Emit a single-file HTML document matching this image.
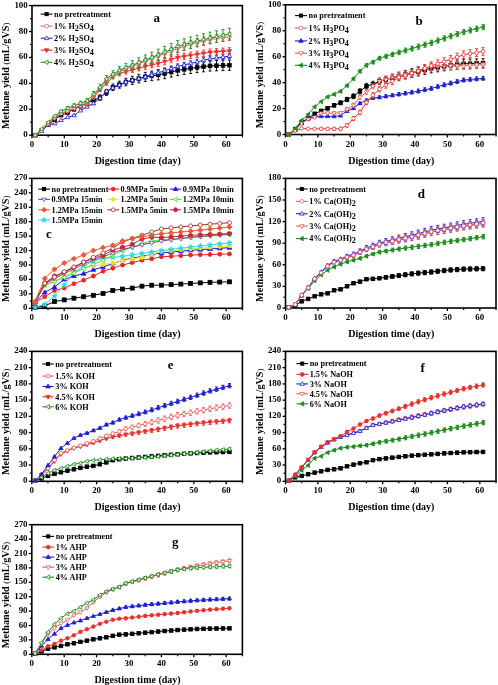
<!DOCTYPE html>
<html><head><meta charset="utf-8"><style>
html,body{margin:0;padding:0;background:#fff;width:498px;height:685px;overflow:hidden}
svg{display:block;filter:blur(0.3px)}
text{font-family:"Liberation Serif", serif;font-weight:bold;fill:#000}
.tk{font-size:8.9px}
.ti{font-size:10px}
.yt{font-size:10.2px}
.par{font-weight:normal;font-size:8.5px}
.lg{font-size:8.2px}
.pl{font-size:13px}
</style></head><body>
<svg width="498" height="685" viewBox="0 0 498 685">
<rect width="498" height="685" fill="#fff"/>
<rect x="32" y="5.6" width="210.4" height="129.6" fill="none" stroke="#000" stroke-width="1.6"/>
<line x1="29" y1="135.2" x2="32" y2="135.2" stroke="#000" stroke-width="1.3"/>
<text transform="translate(27.7,137.2) " text-anchor="end" class="tk">0</text>
<line x1="30" y1="122.24" x2="32" y2="122.24" stroke="#000" stroke-width="1.2"/>
<line x1="29" y1="109.28" x2="32" y2="109.28" stroke="#000" stroke-width="1.3"/>
<text transform="translate(27.7,111.28) " text-anchor="end" class="tk">20</text>
<line x1="30" y1="96.32" x2="32" y2="96.32" stroke="#000" stroke-width="1.2"/>
<line x1="29" y1="83.36" x2="32" y2="83.36" stroke="#000" stroke-width="1.3"/>
<text transform="translate(27.7,85.36) " text-anchor="end" class="tk">40</text>
<line x1="30" y1="70.4" x2="32" y2="70.4" stroke="#000" stroke-width="1.2"/>
<line x1="29" y1="57.44" x2="32" y2="57.44" stroke="#000" stroke-width="1.3"/>
<text transform="translate(27.7,59.44) " text-anchor="end" class="tk">60</text>
<line x1="30" y1="44.48" x2="32" y2="44.48" stroke="#000" stroke-width="1.2"/>
<line x1="29" y1="31.52" x2="32" y2="31.52" stroke="#000" stroke-width="1.3"/>
<text transform="translate(27.7,33.52) " text-anchor="end" class="tk">80</text>
<line x1="30" y1="18.56" x2="32" y2="18.56" stroke="#000" stroke-width="1.2"/>
<line x1="29" y1="5.6" x2="32" y2="5.6" stroke="#000" stroke-width="1.3"/>
<text transform="translate(27.7,7.6) " text-anchor="end" class="tk">100</text>
<line x1="32" y1="135.2" x2="32" y2="138.2" stroke="#000" stroke-width="1.3"/>
<text transform="translate(32,147.3) " text-anchor="middle" class="tk">0</text>
<line x1="64.37" y1="135.2" x2="64.37" y2="138.2" stroke="#000" stroke-width="1.3"/>
<text transform="translate(64.37,147.3) " text-anchor="middle" class="tk">10</text>
<line x1="96.74" y1="135.2" x2="96.74" y2="138.2" stroke="#000" stroke-width="1.3"/>
<text transform="translate(96.74,147.3) " text-anchor="middle" class="tk">20</text>
<line x1="129.11" y1="135.2" x2="129.11" y2="138.2" stroke="#000" stroke-width="1.3"/>
<text transform="translate(129.11,147.3) " text-anchor="middle" class="tk">30</text>
<line x1="161.48" y1="135.2" x2="161.48" y2="138.2" stroke="#000" stroke-width="1.3"/>
<text transform="translate(161.48,147.3) " text-anchor="middle" class="tk">40</text>
<line x1="193.85" y1="135.2" x2="193.85" y2="138.2" stroke="#000" stroke-width="1.3"/>
<text transform="translate(193.85,147.3) " text-anchor="middle" class="tk">50</text>
<line x1="226.22" y1="135.2" x2="226.22" y2="138.2" stroke="#000" stroke-width="1.3"/>
<text transform="translate(226.22,147.3) " text-anchor="middle" class="tk">60</text>
<line x1="48.18" y1="135.2" x2="48.18" y2="137.2" stroke="#000" stroke-width="1.2"/>
<line x1="80.55" y1="135.2" x2="80.55" y2="137.2" stroke="#000" stroke-width="1.2"/>
<line x1="112.92" y1="135.2" x2="112.92" y2="137.2" stroke="#000" stroke-width="1.2"/>
<line x1="145.29" y1="135.2" x2="145.29" y2="137.2" stroke="#000" stroke-width="1.2"/>
<line x1="177.66" y1="135.2" x2="177.66" y2="137.2" stroke="#000" stroke-width="1.2"/>
<line x1="210.03" y1="135.2" x2="210.03" y2="137.2" stroke="#000" stroke-width="1.2"/>
<line x1="242.4" y1="135.2" x2="242.4" y2="137.2" stroke="#000" stroke-width="1.2"/>
<text x="137.7" y="164.3" text-anchor="middle" class="ti">Digestion time (day)</text>
<text transform="translate(9.2,75.9) rotate(-90)" text-anchor="middle" class="ti yt">Methane yield <tspan class="par">(</tspan>mL/gVS<tspan class="par">)</tspan></text>
<rect x="285.5" y="4.8" width="210.5" height="129.7" fill="none" stroke="#000" stroke-width="1.6"/>
<line x1="282.5" y1="134.5" x2="285.5" y2="134.5" stroke="#000" stroke-width="1.3"/>
<text transform="translate(281.2,136.5) " text-anchor="end" class="tk">0</text>
<line x1="283.5" y1="121.53" x2="285.5" y2="121.53" stroke="#000" stroke-width="1.2"/>
<line x1="282.5" y1="108.56" x2="285.5" y2="108.56" stroke="#000" stroke-width="1.3"/>
<text transform="translate(281.2,110.56) " text-anchor="end" class="tk">20</text>
<line x1="283.5" y1="95.59" x2="285.5" y2="95.59" stroke="#000" stroke-width="1.2"/>
<line x1="282.5" y1="82.62" x2="285.5" y2="82.62" stroke="#000" stroke-width="1.3"/>
<text transform="translate(281.2,84.62) " text-anchor="end" class="tk">40</text>
<line x1="283.5" y1="69.65" x2="285.5" y2="69.65" stroke="#000" stroke-width="1.2"/>
<line x1="282.5" y1="56.68" x2="285.5" y2="56.68" stroke="#000" stroke-width="1.3"/>
<text transform="translate(281.2,58.68) " text-anchor="end" class="tk">60</text>
<line x1="283.5" y1="43.71" x2="285.5" y2="43.71" stroke="#000" stroke-width="1.2"/>
<line x1="282.5" y1="30.74" x2="285.5" y2="30.74" stroke="#000" stroke-width="1.3"/>
<text transform="translate(281.2,32.74) " text-anchor="end" class="tk">80</text>
<line x1="283.5" y1="17.77" x2="285.5" y2="17.77" stroke="#000" stroke-width="1.2"/>
<line x1="282.5" y1="4.8" x2="285.5" y2="4.8" stroke="#000" stroke-width="1.3"/>
<text transform="translate(281.2,6.8) " text-anchor="end" class="tk">100</text>
<line x1="285.5" y1="134.5" x2="285.5" y2="137.5" stroke="#000" stroke-width="1.3"/>
<text transform="translate(285.5,146.6) " text-anchor="middle" class="tk">0</text>
<line x1="317.88" y1="134.5" x2="317.88" y2="137.5" stroke="#000" stroke-width="1.3"/>
<text transform="translate(317.88,146.6) " text-anchor="middle" class="tk">10</text>
<line x1="350.27" y1="134.5" x2="350.27" y2="137.5" stroke="#000" stroke-width="1.3"/>
<text transform="translate(350.27,146.6) " text-anchor="middle" class="tk">20</text>
<line x1="382.65" y1="134.5" x2="382.65" y2="137.5" stroke="#000" stroke-width="1.3"/>
<text transform="translate(382.65,146.6) " text-anchor="middle" class="tk">30</text>
<line x1="415.04" y1="134.5" x2="415.04" y2="137.5" stroke="#000" stroke-width="1.3"/>
<text transform="translate(415.04,146.6) " text-anchor="middle" class="tk">40</text>
<line x1="447.42" y1="134.5" x2="447.42" y2="137.5" stroke="#000" stroke-width="1.3"/>
<text transform="translate(447.42,146.6) " text-anchor="middle" class="tk">50</text>
<line x1="479.81" y1="134.5" x2="479.81" y2="137.5" stroke="#000" stroke-width="1.3"/>
<text transform="translate(479.81,146.6) " text-anchor="middle" class="tk">60</text>
<line x1="301.69" y1="134.5" x2="301.69" y2="136.5" stroke="#000" stroke-width="1.2"/>
<line x1="334.08" y1="134.5" x2="334.08" y2="136.5" stroke="#000" stroke-width="1.2"/>
<line x1="366.46" y1="134.5" x2="366.46" y2="136.5" stroke="#000" stroke-width="1.2"/>
<line x1="398.85" y1="134.5" x2="398.85" y2="136.5" stroke="#000" stroke-width="1.2"/>
<line x1="431.23" y1="134.5" x2="431.23" y2="136.5" stroke="#000" stroke-width="1.2"/>
<line x1="463.62" y1="134.5" x2="463.62" y2="136.5" stroke="#000" stroke-width="1.2"/>
<line x1="496" y1="134.5" x2="496" y2="136.5" stroke="#000" stroke-width="1.2"/>
<text x="391.25" y="163.6" text-anchor="middle" class="ti">Digestion time (day)</text>
<text transform="translate(262.7,75.15) rotate(-90)" text-anchor="middle" class="ti yt">Methane yield <tspan class="par">(</tspan>mL/gVS<tspan class="par">)</tspan></text>
<rect x="31.8" y="178.4" width="210.6" height="129.9" fill="none" stroke="#000" stroke-width="1.6"/>
<line x1="28.8" y1="308.3" x2="31.8" y2="308.3" stroke="#000" stroke-width="1.3"/>
<text transform="translate(27.5,310.3) " text-anchor="end" class="tk">0</text>
<line x1="29.8" y1="301.08" x2="31.8" y2="301.08" stroke="#000" stroke-width="1.2"/>
<line x1="28.8" y1="293.87" x2="31.8" y2="293.87" stroke="#000" stroke-width="1.3"/>
<text transform="translate(27.5,295.87) " text-anchor="end" class="tk">30</text>
<line x1="29.8" y1="286.65" x2="31.8" y2="286.65" stroke="#000" stroke-width="1.2"/>
<line x1="28.8" y1="279.43" x2="31.8" y2="279.43" stroke="#000" stroke-width="1.3"/>
<text transform="translate(27.5,281.43) " text-anchor="end" class="tk">60</text>
<line x1="29.8" y1="272.22" x2="31.8" y2="272.22" stroke="#000" stroke-width="1.2"/>
<line x1="28.8" y1="265" x2="31.8" y2="265" stroke="#000" stroke-width="1.3"/>
<text transform="translate(27.5,267) " text-anchor="end" class="tk">90</text>
<line x1="29.8" y1="257.78" x2="31.8" y2="257.78" stroke="#000" stroke-width="1.2"/>
<line x1="28.8" y1="250.57" x2="31.8" y2="250.57" stroke="#000" stroke-width="1.3"/>
<text transform="translate(27.5,252.57) " text-anchor="end" class="tk">120</text>
<line x1="29.8" y1="243.35" x2="31.8" y2="243.35" stroke="#000" stroke-width="1.2"/>
<line x1="28.8" y1="236.13" x2="31.8" y2="236.13" stroke="#000" stroke-width="1.3"/>
<text transform="translate(27.5,238.13) " text-anchor="end" class="tk">150</text>
<line x1="29.8" y1="228.92" x2="31.8" y2="228.92" stroke="#000" stroke-width="1.2"/>
<line x1="28.8" y1="221.7" x2="31.8" y2="221.7" stroke="#000" stroke-width="1.3"/>
<text transform="translate(27.5,223.7) " text-anchor="end" class="tk">180</text>
<line x1="29.8" y1="214.48" x2="31.8" y2="214.48" stroke="#000" stroke-width="1.2"/>
<line x1="28.8" y1="207.27" x2="31.8" y2="207.27" stroke="#000" stroke-width="1.3"/>
<text transform="translate(27.5,209.27) " text-anchor="end" class="tk">210</text>
<line x1="29.8" y1="200.05" x2="31.8" y2="200.05" stroke="#000" stroke-width="1.2"/>
<line x1="28.8" y1="192.83" x2="31.8" y2="192.83" stroke="#000" stroke-width="1.3"/>
<text transform="translate(27.5,194.83) " text-anchor="end" class="tk">240</text>
<line x1="29.8" y1="185.62" x2="31.8" y2="185.62" stroke="#000" stroke-width="1.2"/>
<line x1="28.8" y1="178.4" x2="31.8" y2="178.4" stroke="#000" stroke-width="1.3"/>
<text transform="translate(27.5,180.4) " text-anchor="end" class="tk">270</text>
<line x1="31.8" y1="308.3" x2="31.8" y2="311.3" stroke="#000" stroke-width="1.3"/>
<text transform="translate(31.8,320.4) " text-anchor="middle" class="tk">0</text>
<line x1="64.2" y1="308.3" x2="64.2" y2="311.3" stroke="#000" stroke-width="1.3"/>
<text transform="translate(64.2,320.4) " text-anchor="middle" class="tk">10</text>
<line x1="96.6" y1="308.3" x2="96.6" y2="311.3" stroke="#000" stroke-width="1.3"/>
<text transform="translate(96.6,320.4) " text-anchor="middle" class="tk">20</text>
<line x1="129" y1="308.3" x2="129" y2="311.3" stroke="#000" stroke-width="1.3"/>
<text transform="translate(129,320.4) " text-anchor="middle" class="tk">30</text>
<line x1="161.4" y1="308.3" x2="161.4" y2="311.3" stroke="#000" stroke-width="1.3"/>
<text transform="translate(161.4,320.4) " text-anchor="middle" class="tk">40</text>
<line x1="193.8" y1="308.3" x2="193.8" y2="311.3" stroke="#000" stroke-width="1.3"/>
<text transform="translate(193.8,320.4) " text-anchor="middle" class="tk">50</text>
<line x1="226.2" y1="308.3" x2="226.2" y2="311.3" stroke="#000" stroke-width="1.3"/>
<text transform="translate(226.2,320.4) " text-anchor="middle" class="tk">60</text>
<line x1="48" y1="308.3" x2="48" y2="310.3" stroke="#000" stroke-width="1.2"/>
<line x1="80.4" y1="308.3" x2="80.4" y2="310.3" stroke="#000" stroke-width="1.2"/>
<line x1="112.8" y1="308.3" x2="112.8" y2="310.3" stroke="#000" stroke-width="1.2"/>
<line x1="145.2" y1="308.3" x2="145.2" y2="310.3" stroke="#000" stroke-width="1.2"/>
<line x1="177.6" y1="308.3" x2="177.6" y2="310.3" stroke="#000" stroke-width="1.2"/>
<line x1="210" y1="308.3" x2="210" y2="310.3" stroke="#000" stroke-width="1.2"/>
<line x1="242.4" y1="308.3" x2="242.4" y2="310.3" stroke="#000" stroke-width="1.2"/>
<text x="137.6" y="337.4" text-anchor="middle" class="ti">Digestion time (day)</text>
<text transform="translate(9,248.85) rotate(-90)" text-anchor="middle" class="ti yt">Methane yield <tspan class="par">(</tspan>mL/gVS<tspan class="par">)</tspan></text>
<rect x="285.5" y="178.4" width="210.5" height="129.6" fill="none" stroke="#000" stroke-width="1.6"/>
<line x1="282.5" y1="308" x2="285.5" y2="308" stroke="#000" stroke-width="1.3"/>
<text transform="translate(281.2,310) " text-anchor="end" class="tk">0</text>
<line x1="283.5" y1="297.2" x2="285.5" y2="297.2" stroke="#000" stroke-width="1.2"/>
<line x1="282.5" y1="286.4" x2="285.5" y2="286.4" stroke="#000" stroke-width="1.3"/>
<text transform="translate(281.2,288.4) " text-anchor="end" class="tk">30</text>
<line x1="283.5" y1="275.6" x2="285.5" y2="275.6" stroke="#000" stroke-width="1.2"/>
<line x1="282.5" y1="264.8" x2="285.5" y2="264.8" stroke="#000" stroke-width="1.3"/>
<text transform="translate(281.2,266.8) " text-anchor="end" class="tk">60</text>
<line x1="283.5" y1="254" x2="285.5" y2="254" stroke="#000" stroke-width="1.2"/>
<line x1="282.5" y1="243.2" x2="285.5" y2="243.2" stroke="#000" stroke-width="1.3"/>
<text transform="translate(281.2,245.2) " text-anchor="end" class="tk">90</text>
<line x1="283.5" y1="232.4" x2="285.5" y2="232.4" stroke="#000" stroke-width="1.2"/>
<line x1="282.5" y1="221.6" x2="285.5" y2="221.6" stroke="#000" stroke-width="1.3"/>
<text transform="translate(281.2,223.6) " text-anchor="end" class="tk">120</text>
<line x1="283.5" y1="210.8" x2="285.5" y2="210.8" stroke="#000" stroke-width="1.2"/>
<line x1="282.5" y1="200" x2="285.5" y2="200" stroke="#000" stroke-width="1.3"/>
<text transform="translate(281.2,202) " text-anchor="end" class="tk">150</text>
<line x1="283.5" y1="189.2" x2="285.5" y2="189.2" stroke="#000" stroke-width="1.2"/>
<line x1="282.5" y1="178.4" x2="285.5" y2="178.4" stroke="#000" stroke-width="1.3"/>
<text transform="translate(281.2,180.4) " text-anchor="end" class="tk">180</text>
<line x1="285.5" y1="308" x2="285.5" y2="311" stroke="#000" stroke-width="1.3"/>
<text transform="translate(285.5,320.1) " text-anchor="middle" class="tk">0</text>
<line x1="317.88" y1="308" x2="317.88" y2="311" stroke="#000" stroke-width="1.3"/>
<text transform="translate(317.88,320.1) " text-anchor="middle" class="tk">10</text>
<line x1="350.27" y1="308" x2="350.27" y2="311" stroke="#000" stroke-width="1.3"/>
<text transform="translate(350.27,320.1) " text-anchor="middle" class="tk">20</text>
<line x1="382.65" y1="308" x2="382.65" y2="311" stroke="#000" stroke-width="1.3"/>
<text transform="translate(382.65,320.1) " text-anchor="middle" class="tk">30</text>
<line x1="415.04" y1="308" x2="415.04" y2="311" stroke="#000" stroke-width="1.3"/>
<text transform="translate(415.04,320.1) " text-anchor="middle" class="tk">40</text>
<line x1="447.42" y1="308" x2="447.42" y2="311" stroke="#000" stroke-width="1.3"/>
<text transform="translate(447.42,320.1) " text-anchor="middle" class="tk">50</text>
<line x1="479.81" y1="308" x2="479.81" y2="311" stroke="#000" stroke-width="1.3"/>
<text transform="translate(479.81,320.1) " text-anchor="middle" class="tk">60</text>
<line x1="301.69" y1="308" x2="301.69" y2="310" stroke="#000" stroke-width="1.2"/>
<line x1="334.08" y1="308" x2="334.08" y2="310" stroke="#000" stroke-width="1.2"/>
<line x1="366.46" y1="308" x2="366.46" y2="310" stroke="#000" stroke-width="1.2"/>
<line x1="398.85" y1="308" x2="398.85" y2="310" stroke="#000" stroke-width="1.2"/>
<line x1="431.23" y1="308" x2="431.23" y2="310" stroke="#000" stroke-width="1.2"/>
<line x1="463.62" y1="308" x2="463.62" y2="310" stroke="#000" stroke-width="1.2"/>
<line x1="496" y1="308" x2="496" y2="310" stroke="#000" stroke-width="1.2"/>
<text x="391.25" y="337.1" text-anchor="middle" class="ti">Digestion time (day)</text>
<text transform="translate(262.7,248.7) rotate(-90)" text-anchor="middle" class="ti yt">Methane yield <tspan class="par">(</tspan>mL/gVS<tspan class="par">)</tspan></text>
<rect x="31.8" y="351.4" width="210.6" height="129.9" fill="none" stroke="#000" stroke-width="1.6"/>
<line x1="28.8" y1="481.3" x2="31.8" y2="481.3" stroke="#000" stroke-width="1.3"/>
<text transform="translate(27.5,483.3) " text-anchor="end" class="tk">0</text>
<line x1="29.8" y1="473.18" x2="31.8" y2="473.18" stroke="#000" stroke-width="1.2"/>
<line x1="28.8" y1="465.06" x2="31.8" y2="465.06" stroke="#000" stroke-width="1.3"/>
<text transform="translate(27.5,467.06) " text-anchor="end" class="tk">30</text>
<line x1="29.8" y1="456.94" x2="31.8" y2="456.94" stroke="#000" stroke-width="1.2"/>
<line x1="28.8" y1="448.82" x2="31.8" y2="448.82" stroke="#000" stroke-width="1.3"/>
<text transform="translate(27.5,450.82) " text-anchor="end" class="tk">60</text>
<line x1="29.8" y1="440.71" x2="31.8" y2="440.71" stroke="#000" stroke-width="1.2"/>
<line x1="28.8" y1="432.59" x2="31.8" y2="432.59" stroke="#000" stroke-width="1.3"/>
<text transform="translate(27.5,434.59) " text-anchor="end" class="tk">90</text>
<line x1="29.8" y1="424.47" x2="31.8" y2="424.47" stroke="#000" stroke-width="1.2"/>
<line x1="28.8" y1="416.35" x2="31.8" y2="416.35" stroke="#000" stroke-width="1.3"/>
<text transform="translate(27.5,418.35) " text-anchor="end" class="tk">120</text>
<line x1="29.8" y1="408.23" x2="31.8" y2="408.23" stroke="#000" stroke-width="1.2"/>
<line x1="28.8" y1="400.11" x2="31.8" y2="400.11" stroke="#000" stroke-width="1.3"/>
<text transform="translate(27.5,402.11) " text-anchor="end" class="tk">150</text>
<line x1="29.8" y1="391.99" x2="31.8" y2="391.99" stroke="#000" stroke-width="1.2"/>
<line x1="28.8" y1="383.88" x2="31.8" y2="383.88" stroke="#000" stroke-width="1.3"/>
<text transform="translate(27.5,385.88) " text-anchor="end" class="tk">180</text>
<line x1="29.8" y1="375.76" x2="31.8" y2="375.76" stroke="#000" stroke-width="1.2"/>
<line x1="28.8" y1="367.64" x2="31.8" y2="367.64" stroke="#000" stroke-width="1.3"/>
<text transform="translate(27.5,369.64) " text-anchor="end" class="tk">210</text>
<line x1="29.8" y1="359.52" x2="31.8" y2="359.52" stroke="#000" stroke-width="1.2"/>
<line x1="28.8" y1="351.4" x2="31.8" y2="351.4" stroke="#000" stroke-width="1.3"/>
<text transform="translate(27.5,353.4) " text-anchor="end" class="tk">240</text>
<line x1="31.8" y1="481.3" x2="31.8" y2="484.3" stroke="#000" stroke-width="1.3"/>
<text transform="translate(31.8,493.4) " text-anchor="middle" class="tk">0</text>
<line x1="64.2" y1="481.3" x2="64.2" y2="484.3" stroke="#000" stroke-width="1.3"/>
<text transform="translate(64.2,493.4) " text-anchor="middle" class="tk">10</text>
<line x1="96.6" y1="481.3" x2="96.6" y2="484.3" stroke="#000" stroke-width="1.3"/>
<text transform="translate(96.6,493.4) " text-anchor="middle" class="tk">20</text>
<line x1="129" y1="481.3" x2="129" y2="484.3" stroke="#000" stroke-width="1.3"/>
<text transform="translate(129,493.4) " text-anchor="middle" class="tk">30</text>
<line x1="161.4" y1="481.3" x2="161.4" y2="484.3" stroke="#000" stroke-width="1.3"/>
<text transform="translate(161.4,493.4) " text-anchor="middle" class="tk">40</text>
<line x1="193.8" y1="481.3" x2="193.8" y2="484.3" stroke="#000" stroke-width="1.3"/>
<text transform="translate(193.8,493.4) " text-anchor="middle" class="tk">50</text>
<line x1="226.2" y1="481.3" x2="226.2" y2="484.3" stroke="#000" stroke-width="1.3"/>
<text transform="translate(226.2,493.4) " text-anchor="middle" class="tk">60</text>
<line x1="48" y1="481.3" x2="48" y2="483.3" stroke="#000" stroke-width="1.2"/>
<line x1="80.4" y1="481.3" x2="80.4" y2="483.3" stroke="#000" stroke-width="1.2"/>
<line x1="112.8" y1="481.3" x2="112.8" y2="483.3" stroke="#000" stroke-width="1.2"/>
<line x1="145.2" y1="481.3" x2="145.2" y2="483.3" stroke="#000" stroke-width="1.2"/>
<line x1="177.6" y1="481.3" x2="177.6" y2="483.3" stroke="#000" stroke-width="1.2"/>
<line x1="210" y1="481.3" x2="210" y2="483.3" stroke="#000" stroke-width="1.2"/>
<line x1="242.4" y1="481.3" x2="242.4" y2="483.3" stroke="#000" stroke-width="1.2"/>
<text x="137.6" y="510.4" text-anchor="middle" class="ti">Digestion time (day)</text>
<text transform="translate(9,421.85) rotate(-90)" text-anchor="middle" class="ti yt">Methane yield <tspan class="par">(</tspan>mL/gVS<tspan class="par">)</tspan></text>
<rect x="285.5" y="351.4" width="210.5" height="129.9" fill="none" stroke="#000" stroke-width="1.6"/>
<line x1="282.5" y1="481.3" x2="285.5" y2="481.3" stroke="#000" stroke-width="1.3"/>
<text transform="translate(281.2,483.3) " text-anchor="end" class="tk">0</text>
<line x1="283.5" y1="473.18" x2="285.5" y2="473.18" stroke="#000" stroke-width="1.2"/>
<line x1="282.5" y1="465.06" x2="285.5" y2="465.06" stroke="#000" stroke-width="1.3"/>
<text transform="translate(281.2,467.06) " text-anchor="end" class="tk">30</text>
<line x1="283.5" y1="456.94" x2="285.5" y2="456.94" stroke="#000" stroke-width="1.2"/>
<line x1="282.5" y1="448.82" x2="285.5" y2="448.82" stroke="#000" stroke-width="1.3"/>
<text transform="translate(281.2,450.82) " text-anchor="end" class="tk">60</text>
<line x1="283.5" y1="440.71" x2="285.5" y2="440.71" stroke="#000" stroke-width="1.2"/>
<line x1="282.5" y1="432.59" x2="285.5" y2="432.59" stroke="#000" stroke-width="1.3"/>
<text transform="translate(281.2,434.59) " text-anchor="end" class="tk">90</text>
<line x1="283.5" y1="424.47" x2="285.5" y2="424.47" stroke="#000" stroke-width="1.2"/>
<line x1="282.5" y1="416.35" x2="285.5" y2="416.35" stroke="#000" stroke-width="1.3"/>
<text transform="translate(281.2,418.35) " text-anchor="end" class="tk">120</text>
<line x1="283.5" y1="408.23" x2="285.5" y2="408.23" stroke="#000" stroke-width="1.2"/>
<line x1="282.5" y1="400.11" x2="285.5" y2="400.11" stroke="#000" stroke-width="1.3"/>
<text transform="translate(281.2,402.11) " text-anchor="end" class="tk">150</text>
<line x1="283.5" y1="391.99" x2="285.5" y2="391.99" stroke="#000" stroke-width="1.2"/>
<line x1="282.5" y1="383.88" x2="285.5" y2="383.88" stroke="#000" stroke-width="1.3"/>
<text transform="translate(281.2,385.88) " text-anchor="end" class="tk">180</text>
<line x1="283.5" y1="375.76" x2="285.5" y2="375.76" stroke="#000" stroke-width="1.2"/>
<line x1="282.5" y1="367.64" x2="285.5" y2="367.64" stroke="#000" stroke-width="1.3"/>
<text transform="translate(281.2,369.64) " text-anchor="end" class="tk">210</text>
<line x1="283.5" y1="359.52" x2="285.5" y2="359.52" stroke="#000" stroke-width="1.2"/>
<line x1="282.5" y1="351.4" x2="285.5" y2="351.4" stroke="#000" stroke-width="1.3"/>
<text transform="translate(281.2,353.4) " text-anchor="end" class="tk">240</text>
<line x1="285.5" y1="481.3" x2="285.5" y2="484.3" stroke="#000" stroke-width="1.3"/>
<text transform="translate(285.5,493.4) " text-anchor="middle" class="tk">0</text>
<line x1="317.88" y1="481.3" x2="317.88" y2="484.3" stroke="#000" stroke-width="1.3"/>
<text transform="translate(317.88,493.4) " text-anchor="middle" class="tk">10</text>
<line x1="350.27" y1="481.3" x2="350.27" y2="484.3" stroke="#000" stroke-width="1.3"/>
<text transform="translate(350.27,493.4) " text-anchor="middle" class="tk">20</text>
<line x1="382.65" y1="481.3" x2="382.65" y2="484.3" stroke="#000" stroke-width="1.3"/>
<text transform="translate(382.65,493.4) " text-anchor="middle" class="tk">30</text>
<line x1="415.04" y1="481.3" x2="415.04" y2="484.3" stroke="#000" stroke-width="1.3"/>
<text transform="translate(415.04,493.4) " text-anchor="middle" class="tk">40</text>
<line x1="447.42" y1="481.3" x2="447.42" y2="484.3" stroke="#000" stroke-width="1.3"/>
<text transform="translate(447.42,493.4) " text-anchor="middle" class="tk">50</text>
<line x1="479.81" y1="481.3" x2="479.81" y2="484.3" stroke="#000" stroke-width="1.3"/>
<text transform="translate(479.81,493.4) " text-anchor="middle" class="tk">60</text>
<line x1="301.69" y1="481.3" x2="301.69" y2="483.3" stroke="#000" stroke-width="1.2"/>
<line x1="334.08" y1="481.3" x2="334.08" y2="483.3" stroke="#000" stroke-width="1.2"/>
<line x1="366.46" y1="481.3" x2="366.46" y2="483.3" stroke="#000" stroke-width="1.2"/>
<line x1="398.85" y1="481.3" x2="398.85" y2="483.3" stroke="#000" stroke-width="1.2"/>
<line x1="431.23" y1="481.3" x2="431.23" y2="483.3" stroke="#000" stroke-width="1.2"/>
<line x1="463.62" y1="481.3" x2="463.62" y2="483.3" stroke="#000" stroke-width="1.2"/>
<line x1="496" y1="481.3" x2="496" y2="483.3" stroke="#000" stroke-width="1.2"/>
<text x="391.25" y="510.4" text-anchor="middle" class="ti">Digestion time (day)</text>
<text transform="translate(262.7,421.85) rotate(-90)" text-anchor="middle" class="ti yt">Methane yield <tspan class="par">(</tspan>mL/gVS<tspan class="par">)</tspan></text>
<rect x="31.8" y="524.7" width="210.6" height="129.6" fill="none" stroke="#000" stroke-width="1.6"/>
<line x1="28.8" y1="654.3" x2="31.8" y2="654.3" stroke="#000" stroke-width="1.3"/>
<text transform="translate(27.5,656.3) " text-anchor="end" class="tk">0</text>
<line x1="29.8" y1="647.1" x2="31.8" y2="647.1" stroke="#000" stroke-width="1.2"/>
<line x1="28.8" y1="639.9" x2="31.8" y2="639.9" stroke="#000" stroke-width="1.3"/>
<text transform="translate(27.5,641.9) " text-anchor="end" class="tk">30</text>
<line x1="29.8" y1="632.7" x2="31.8" y2="632.7" stroke="#000" stroke-width="1.2"/>
<line x1="28.8" y1="625.5" x2="31.8" y2="625.5" stroke="#000" stroke-width="1.3"/>
<text transform="translate(27.5,627.5) " text-anchor="end" class="tk">60</text>
<line x1="29.8" y1="618.3" x2="31.8" y2="618.3" stroke="#000" stroke-width="1.2"/>
<line x1="28.8" y1="611.1" x2="31.8" y2="611.1" stroke="#000" stroke-width="1.3"/>
<text transform="translate(27.5,613.1) " text-anchor="end" class="tk">90</text>
<line x1="29.8" y1="603.9" x2="31.8" y2="603.9" stroke="#000" stroke-width="1.2"/>
<line x1="28.8" y1="596.7" x2="31.8" y2="596.7" stroke="#000" stroke-width="1.3"/>
<text transform="translate(27.5,598.7) " text-anchor="end" class="tk">120</text>
<line x1="29.8" y1="589.5" x2="31.8" y2="589.5" stroke="#000" stroke-width="1.2"/>
<line x1="28.8" y1="582.3" x2="31.8" y2="582.3" stroke="#000" stroke-width="1.3"/>
<text transform="translate(27.5,584.3) " text-anchor="end" class="tk">150</text>
<line x1="29.8" y1="575.1" x2="31.8" y2="575.1" stroke="#000" stroke-width="1.2"/>
<line x1="28.8" y1="567.9" x2="31.8" y2="567.9" stroke="#000" stroke-width="1.3"/>
<text transform="translate(27.5,569.9) " text-anchor="end" class="tk">180</text>
<line x1="29.8" y1="560.7" x2="31.8" y2="560.7" stroke="#000" stroke-width="1.2"/>
<line x1="28.8" y1="553.5" x2="31.8" y2="553.5" stroke="#000" stroke-width="1.3"/>
<text transform="translate(27.5,555.5) " text-anchor="end" class="tk">210</text>
<line x1="29.8" y1="546.3" x2="31.8" y2="546.3" stroke="#000" stroke-width="1.2"/>
<line x1="28.8" y1="539.1" x2="31.8" y2="539.1" stroke="#000" stroke-width="1.3"/>
<text transform="translate(27.5,541.1) " text-anchor="end" class="tk">240</text>
<line x1="29.8" y1="531.9" x2="31.8" y2="531.9" stroke="#000" stroke-width="1.2"/>
<line x1="28.8" y1="524.7" x2="31.8" y2="524.7" stroke="#000" stroke-width="1.3"/>
<text transform="translate(27.5,526.7) " text-anchor="end" class="tk">270</text>
<line x1="31.8" y1="654.3" x2="31.8" y2="657.3" stroke="#000" stroke-width="1.3"/>
<text transform="translate(31.8,666.4) " text-anchor="middle" class="tk">0</text>
<line x1="64.2" y1="654.3" x2="64.2" y2="657.3" stroke="#000" stroke-width="1.3"/>
<text transform="translate(64.2,666.4) " text-anchor="middle" class="tk">10</text>
<line x1="96.6" y1="654.3" x2="96.6" y2="657.3" stroke="#000" stroke-width="1.3"/>
<text transform="translate(96.6,666.4) " text-anchor="middle" class="tk">20</text>
<line x1="129" y1="654.3" x2="129" y2="657.3" stroke="#000" stroke-width="1.3"/>
<text transform="translate(129,666.4) " text-anchor="middle" class="tk">30</text>
<line x1="161.4" y1="654.3" x2="161.4" y2="657.3" stroke="#000" stroke-width="1.3"/>
<text transform="translate(161.4,666.4) " text-anchor="middle" class="tk">40</text>
<line x1="193.8" y1="654.3" x2="193.8" y2="657.3" stroke="#000" stroke-width="1.3"/>
<text transform="translate(193.8,666.4) " text-anchor="middle" class="tk">50</text>
<line x1="226.2" y1="654.3" x2="226.2" y2="657.3" stroke="#000" stroke-width="1.3"/>
<text transform="translate(226.2,666.4) " text-anchor="middle" class="tk">60</text>
<line x1="48" y1="654.3" x2="48" y2="656.3" stroke="#000" stroke-width="1.2"/>
<line x1="80.4" y1="654.3" x2="80.4" y2="656.3" stroke="#000" stroke-width="1.2"/>
<line x1="112.8" y1="654.3" x2="112.8" y2="656.3" stroke="#000" stroke-width="1.2"/>
<line x1="145.2" y1="654.3" x2="145.2" y2="656.3" stroke="#000" stroke-width="1.2"/>
<line x1="177.6" y1="654.3" x2="177.6" y2="656.3" stroke="#000" stroke-width="1.2"/>
<line x1="210" y1="654.3" x2="210" y2="656.3" stroke="#000" stroke-width="1.2"/>
<line x1="242.4" y1="654.3" x2="242.4" y2="656.3" stroke="#000" stroke-width="1.2"/>
<text x="137.6" y="683.4" text-anchor="middle" class="ti">Digestion time (day)</text>
<text transform="translate(9,595) rotate(-90)" text-anchor="middle" class="ti yt">Methane yield <tspan class="par">(</tspan>mL/gVS<tspan class="par">)</tspan></text>
<polyline points="35.24,135.2 41.71,130.66 48.18,124.83 54.66,119.65 61.13,115.11 67.61,112.52 74.08,109.28 80.55,106.04 87.03,102.8 93.5,100.21 99.98,97.62 106.45,92.43 112.92,87.25 119.4,84.66 125.87,82.06 132.34,80.34 138.82,78.61 145.29,76.88 151.77,75.84 158.24,74.81 164.71,73.51 171.19,71.96 177.66,70.4 184.14,69.36 190.61,68.33 197.08,67.42 203.56,66.64 210.03,65.86 216.5,65.65 222.98,65.43 229.45,65.22" fill="none" stroke="#000000" stroke-width="1.0"/>
<path d="M54.66,118.74V120.56M53.16,118.74H56.16M53.16,120.56H56.16" stroke="#000000" stroke-width="0.9" fill="none"/>
<path d="M61.13,113.95V116.28M59.63,113.95H62.63M59.63,116.28H62.63" stroke="#000000" stroke-width="0.9" fill="none"/>
<path d="M67.61,111.09V113.95M66.11,111.09H69.11M66.11,113.95H69.11" stroke="#000000" stroke-width="0.9" fill="none"/>
<path d="M74.08,107.6V110.96M72.58,107.6H75.58M72.58,110.96H75.58" stroke="#000000" stroke-width="0.9" fill="none"/>
<path d="M80.55,104.1V107.98M79.05,104.1H82.05M79.05,107.98H82.05" stroke="#000000" stroke-width="0.9" fill="none"/>
<path d="M87.03,100.6V105M85.53,100.6H88.53M85.53,105H88.53" stroke="#000000" stroke-width="0.9" fill="none"/>
<path d="M93.5,97.75V102.67M92,97.75H95M92,102.67H95" stroke="#000000" stroke-width="0.9" fill="none"/>
<path d="M99.98,94.89V100.34M98.48,94.89H101.48M98.48,100.34H101.48" stroke="#000000" stroke-width="0.9" fill="none"/>
<path d="M106.45,89.45V95.41M104.95,89.45H107.95M104.95,95.41H107.95" stroke="#000000" stroke-width="0.9" fill="none"/>
<path d="M112.92,84.01V90.49M111.42,84.01H114.42M111.42,90.49H114.42" stroke="#000000" stroke-width="0.9" fill="none"/>
<path d="M119.4,81.16V88.16M117.9,81.16H120.9M117.9,88.16H120.9" stroke="#000000" stroke-width="0.9" fill="none"/>
<path d="M125.87,78.31V85.82M124.37,78.31H127.37M124.37,85.82H127.37" stroke="#000000" stroke-width="0.9" fill="none"/>
<path d="M132.34,76.32V84.35M130.84,76.32H133.84M130.84,84.35H133.84" stroke="#000000" stroke-width="0.9" fill="none"/>
<path d="M138.82,74.33V82.88M137.32,74.33H140.32M137.32,82.88H140.32" stroke="#000000" stroke-width="0.9" fill="none"/>
<path d="M145.29,72.34V81.42M143.79,72.34H146.79M143.79,81.42H146.79" stroke="#000000" stroke-width="0.9" fill="none"/>
<path d="M151.77,71.05V80.64M150.27,71.05H153.27M150.27,80.64H153.27" stroke="#000000" stroke-width="0.9" fill="none"/>
<path d="M158.24,69.75V79.86M156.74,69.75H159.74M156.74,79.86H159.74" stroke="#000000" stroke-width="0.9" fill="none"/>
<path d="M164.71,68.33V78.69M163.21,68.33H166.21M163.21,78.69H166.21" stroke="#000000" stroke-width="0.9" fill="none"/>
<path d="M171.19,66.77V77.14M169.69,66.77H172.69M169.69,77.14H172.69" stroke="#000000" stroke-width="0.9" fill="none"/>
<path d="M177.66,65.22V75.58M176.16,65.22H179.16M176.16,75.58H179.16" stroke="#000000" stroke-width="0.9" fill="none"/>
<path d="M184.14,64.18V74.55M182.64,64.18H185.64M182.64,74.55H185.64" stroke="#000000" stroke-width="0.9" fill="none"/>
<path d="M190.61,63.14V73.51M189.11,63.14H192.11M189.11,73.51H192.11" stroke="#000000" stroke-width="0.9" fill="none"/>
<path d="M197.08,62.24V72.6M195.58,62.24H198.58M195.58,72.6H198.58" stroke="#000000" stroke-width="0.9" fill="none"/>
<path d="M203.56,61.46V71.83M202.06,61.46H205.06M202.06,71.83H205.06" stroke="#000000" stroke-width="0.9" fill="none"/>
<path d="M210.03,60.68V71.05M208.53,60.68H211.53M208.53,71.05H211.53" stroke="#000000" stroke-width="0.9" fill="none"/>
<path d="M216.5,60.46V70.83M215,60.46H218M215,70.83H218" stroke="#000000" stroke-width="0.9" fill="none"/>
<path d="M222.98,60.25V70.62M221.48,60.25H224.48M221.48,70.62H224.48" stroke="#000000" stroke-width="0.9" fill="none"/>
<path d="M229.45,60.03V70.4M227.95,60.03H230.95M227.95,70.4H230.95" stroke="#000000" stroke-width="0.9" fill="none"/>
<rect x="33.44" y="133.4" width="3.6" height="3.6" fill="#000000" stroke="#000000" stroke-width="0.8"/>
<rect x="39.91" y="128.86" width="3.6" height="3.6" fill="#000000" stroke="#000000" stroke-width="0.8"/>
<rect x="46.38" y="123.03" width="3.6" height="3.6" fill="#000000" stroke="#000000" stroke-width="0.8"/>
<rect x="52.86" y="117.85" width="3.6" height="3.6" fill="#000000" stroke="#000000" stroke-width="0.8"/>
<rect x="59.33" y="113.31" width="3.6" height="3.6" fill="#000000" stroke="#000000" stroke-width="0.8"/>
<rect x="65.81" y="110.72" width="3.6" height="3.6" fill="#000000" stroke="#000000" stroke-width="0.8"/>
<rect x="72.28" y="107.48" width="3.6" height="3.6" fill="#000000" stroke="#000000" stroke-width="0.8"/>
<rect x="78.75" y="104.24" width="3.6" height="3.6" fill="#000000" stroke="#000000" stroke-width="0.8"/>
<rect x="85.23" y="101" width="3.6" height="3.6" fill="#000000" stroke="#000000" stroke-width="0.8"/>
<rect x="91.7" y="98.41" width="3.6" height="3.6" fill="#000000" stroke="#000000" stroke-width="0.8"/>
<rect x="98.18" y="95.82" width="3.6" height="3.6" fill="#000000" stroke="#000000" stroke-width="0.8"/>
<rect x="104.65" y="90.63" width="3.6" height="3.6" fill="#000000" stroke="#000000" stroke-width="0.8"/>
<rect x="111.12" y="85.45" width="3.6" height="3.6" fill="#000000" stroke="#000000" stroke-width="0.8"/>
<rect x="117.6" y="82.86" width="3.6" height="3.6" fill="#000000" stroke="#000000" stroke-width="0.8"/>
<rect x="124.07" y="80.26" width="3.6" height="3.6" fill="#000000" stroke="#000000" stroke-width="0.8"/>
<rect x="130.54" y="78.54" width="3.6" height="3.6" fill="#000000" stroke="#000000" stroke-width="0.8"/>
<rect x="137.02" y="76.81" width="3.6" height="3.6" fill="#000000" stroke="#000000" stroke-width="0.8"/>
<rect x="143.49" y="75.08" width="3.6" height="3.6" fill="#000000" stroke="#000000" stroke-width="0.8"/>
<rect x="149.97" y="74.04" width="3.6" height="3.6" fill="#000000" stroke="#000000" stroke-width="0.8"/>
<rect x="156.44" y="73.01" width="3.6" height="3.6" fill="#000000" stroke="#000000" stroke-width="0.8"/>
<rect x="162.91" y="71.71" width="3.6" height="3.6" fill="#000000" stroke="#000000" stroke-width="0.8"/>
<rect x="169.39" y="70.16" width="3.6" height="3.6" fill="#000000" stroke="#000000" stroke-width="0.8"/>
<rect x="175.86" y="68.6" width="3.6" height="3.6" fill="#000000" stroke="#000000" stroke-width="0.8"/>
<rect x="182.34" y="67.56" width="3.6" height="3.6" fill="#000000" stroke="#000000" stroke-width="0.8"/>
<rect x="188.81" y="66.53" width="3.6" height="3.6" fill="#000000" stroke="#000000" stroke-width="0.8"/>
<rect x="195.28" y="65.62" width="3.6" height="3.6" fill="#000000" stroke="#000000" stroke-width="0.8"/>
<rect x="201.76" y="64.84" width="3.6" height="3.6" fill="#000000" stroke="#000000" stroke-width="0.8"/>
<rect x="208.23" y="64.06" width="3.6" height="3.6" fill="#000000" stroke="#000000" stroke-width="0.8"/>
<rect x="214.7" y="63.85" width="3.6" height="3.6" fill="#000000" stroke="#000000" stroke-width="0.8"/>
<rect x="221.18" y="63.63" width="3.6" height="3.6" fill="#000000" stroke="#000000" stroke-width="0.8"/>
<rect x="227.65" y="63.42" width="3.6" height="3.6" fill="#000000" stroke="#000000" stroke-width="0.8"/>
<polyline points="35.24,135.2 41.71,131.31 48.18,124.83 54.66,123.54 61.13,120.3 67.61,117.32 74.08,115.37 80.55,110.58 87.03,106.69 93.5,103.45 99.98,98.26 106.45,91.14 112.92,87.9 119.4,85.17 125.87,82.06 132.34,80.34 138.82,78.61 145.29,76.88 151.77,74.81 158.24,72.73 164.71,70.66 171.19,68.59 177.66,66.51 184.14,64.96 190.61,63.4 197.08,61.85 203.56,60.29 210.03,58.74 216.5,57.87 222.98,57.01 229.45,56.14" fill="none" stroke="#1f1fd0" stroke-width="1.0"/>
<path d="M74.08,114.53V116.21M72.58,114.53H75.58M72.58,116.21H75.58" stroke="#1f1fd0" stroke-width="0.9" fill="none"/>
<path d="M80.55,109.6V111.55M79.05,109.6H82.05M79.05,111.55H82.05" stroke="#1f1fd0" stroke-width="0.9" fill="none"/>
<path d="M87.03,105.59V107.79M85.53,105.59H88.53M85.53,107.79H88.53" stroke="#1f1fd0" stroke-width="0.9" fill="none"/>
<path d="M93.5,102.22V104.68M92,102.22H95M92,104.68H95" stroke="#1f1fd0" stroke-width="0.9" fill="none"/>
<path d="M99.98,96.9V99.62M98.48,96.9H101.48M98.48,99.62H101.48" stroke="#1f1fd0" stroke-width="0.9" fill="none"/>
<path d="M106.45,89.65V92.63M104.95,89.65H107.95M104.95,92.63H107.95" stroke="#1f1fd0" stroke-width="0.9" fill="none"/>
<path d="M112.92,86.28V89.52M111.42,86.28H114.42M111.42,89.52H114.42" stroke="#1f1fd0" stroke-width="0.9" fill="none"/>
<path d="M119.4,83.42V86.92M117.9,83.42H120.9M117.9,86.92H120.9" stroke="#1f1fd0" stroke-width="0.9" fill="none"/>
<path d="M125.87,80.18V83.94M124.37,80.18H127.37M124.37,83.94H127.37" stroke="#1f1fd0" stroke-width="0.9" fill="none"/>
<path d="M132.34,78.33V82.34M130.84,78.33H133.84M130.84,82.34H133.84" stroke="#1f1fd0" stroke-width="0.9" fill="none"/>
<path d="M138.82,76.47V80.75M137.32,76.47H140.32M137.32,80.75H140.32" stroke="#1f1fd0" stroke-width="0.9" fill="none"/>
<path d="M145.29,74.61V79.15M143.79,74.61H146.79M143.79,79.15H146.79" stroke="#1f1fd0" stroke-width="0.9" fill="none"/>
<path d="M151.77,72.41V77.2M150.27,72.41H153.27M150.27,77.2H153.27" stroke="#1f1fd0" stroke-width="0.9" fill="none"/>
<path d="M158.24,70.21V75.26M156.74,70.21H159.74M156.74,75.26H159.74" stroke="#1f1fd0" stroke-width="0.9" fill="none"/>
<path d="M164.71,68.07V73.25M163.21,68.07H166.21M163.21,73.25H166.21" stroke="#1f1fd0" stroke-width="0.9" fill="none"/>
<path d="M171.19,65.99V71.18M169.69,65.99H172.69M169.69,71.18H172.69" stroke="#1f1fd0" stroke-width="0.9" fill="none"/>
<path d="M177.66,63.92V69.1M176.16,63.92H179.16M176.16,69.1H179.16" stroke="#1f1fd0" stroke-width="0.9" fill="none"/>
<path d="M184.14,62.36V67.55M182.64,62.36H185.64M182.64,67.55H185.64" stroke="#1f1fd0" stroke-width="0.9" fill="none"/>
<path d="M190.61,60.81V65.99M189.11,60.81H192.11M189.11,65.99H192.11" stroke="#1f1fd0" stroke-width="0.9" fill="none"/>
<path d="M197.08,59.25V64.44M195.58,59.25H198.58M195.58,64.44H198.58" stroke="#1f1fd0" stroke-width="0.9" fill="none"/>
<path d="M203.56,57.7V62.88M202.06,57.7H205.06M202.06,62.88H205.06" stroke="#1f1fd0" stroke-width="0.9" fill="none"/>
<path d="M210.03,56.14V61.33M208.53,56.14H211.53M208.53,61.33H211.53" stroke="#1f1fd0" stroke-width="0.9" fill="none"/>
<path d="M216.5,55.28V60.46M215,55.28H218M215,60.46H218" stroke="#1f1fd0" stroke-width="0.9" fill="none"/>
<path d="M222.98,54.42V59.6M221.48,54.42H224.48M221.48,59.6H224.48" stroke="#1f1fd0" stroke-width="0.9" fill="none"/>
<path d="M229.45,53.55V58.74M227.95,53.55H230.95M227.95,58.74H230.95" stroke="#1f1fd0" stroke-width="0.9" fill="none"/>
<polygon points="35.24,132.95 37.37,136.55 33.1,136.55" fill="white" stroke="#1f1fd0" stroke-width="0.8"/>
<polygon points="41.71,129.06 43.85,132.66 39.57,132.66" fill="white" stroke="#1f1fd0" stroke-width="0.8"/>
<polygon points="48.18,122.58 50.32,126.18 46.05,126.18" fill="white" stroke="#1f1fd0" stroke-width="0.8"/>
<polygon points="54.66,121.29 56.8,124.89 52.52,124.89" fill="white" stroke="#1f1fd0" stroke-width="0.8"/>
<polygon points="61.13,118.05 63.27,121.65 58.99,121.65" fill="white" stroke="#1f1fd0" stroke-width="0.8"/>
<polygon points="67.61,115.07 69.74,118.67 65.47,118.67" fill="white" stroke="#1f1fd0" stroke-width="0.8"/>
<polygon points="74.08,113.12 76.22,116.72 71.94,116.72" fill="white" stroke="#1f1fd0" stroke-width="0.8"/>
<polygon points="80.55,108.33 82.69,111.93 78.42,111.93" fill="white" stroke="#1f1fd0" stroke-width="0.8"/>
<polygon points="87.03,104.44 89.17,108.04 84.89,108.04" fill="white" stroke="#1f1fd0" stroke-width="0.8"/>
<polygon points="93.5,101.2 95.64,104.8 91.36,104.8" fill="white" stroke="#1f1fd0" stroke-width="0.8"/>
<polygon points="99.98,96.01 102.11,99.61 97.84,99.61" fill="white" stroke="#1f1fd0" stroke-width="0.8"/>
<polygon points="106.45,88.89 108.59,92.49 104.31,92.49" fill="white" stroke="#1f1fd0" stroke-width="0.8"/>
<polygon points="112.92,85.65 115.06,89.25 110.79,89.25" fill="white" stroke="#1f1fd0" stroke-width="0.8"/>
<polygon points="119.4,82.92 121.53,86.52 117.26,86.52" fill="white" stroke="#1f1fd0" stroke-width="0.8"/>
<polygon points="125.87,79.81 128.01,83.41 123.73,83.41" fill="white" stroke="#1f1fd0" stroke-width="0.8"/>
<polygon points="132.34,78.09 134.48,81.69 130.21,81.69" fill="white" stroke="#1f1fd0" stroke-width="0.8"/>
<polygon points="138.82,76.36 140.96,79.96 136.68,79.96" fill="white" stroke="#1f1fd0" stroke-width="0.8"/>
<polygon points="145.29,74.63 147.43,78.23 143.15,78.23" fill="white" stroke="#1f1fd0" stroke-width="0.8"/>
<polygon points="151.77,72.56 153.9,76.16 149.63,76.16" fill="white" stroke="#1f1fd0" stroke-width="0.8"/>
<polygon points="158.24,70.48 160.38,74.08 156.1,74.08" fill="white" stroke="#1f1fd0" stroke-width="0.8"/>
<polygon points="164.71,68.41 166.85,72.01 162.58,72.01" fill="white" stroke="#1f1fd0" stroke-width="0.8"/>
<polygon points="171.19,66.34 173.33,69.94 169.05,69.94" fill="white" stroke="#1f1fd0" stroke-width="0.8"/>
<polygon points="177.66,64.26 179.8,67.86 175.52,67.86" fill="white" stroke="#1f1fd0" stroke-width="0.8"/>
<polygon points="184.14,62.71 186.27,66.31 182,66.31" fill="white" stroke="#1f1fd0" stroke-width="0.8"/>
<polygon points="190.61,61.15 192.75,64.75 188.47,64.75" fill="white" stroke="#1f1fd0" stroke-width="0.8"/>
<polygon points="197.08,59.6 199.22,63.2 194.95,63.2" fill="white" stroke="#1f1fd0" stroke-width="0.8"/>
<polygon points="203.56,58.04 205.69,61.64 201.42,61.64" fill="white" stroke="#1f1fd0" stroke-width="0.8"/>
<polygon points="210.03,56.49 212.17,60.09 207.89,60.09" fill="white" stroke="#1f1fd0" stroke-width="0.8"/>
<polygon points="216.5,55.62 218.64,59.22 214.37,59.22" fill="white" stroke="#1f1fd0" stroke-width="0.8"/>
<polygon points="222.98,54.76 225.12,58.36 220.84,58.36" fill="white" stroke="#1f1fd0" stroke-width="0.8"/>
<polygon points="229.45,53.89 231.59,57.49 227.31,57.49" fill="white" stroke="#1f1fd0" stroke-width="0.8"/>
<polyline points="35.24,135.2 41.71,130.66 48.18,123.54 54.66,118.35 61.13,113.82 67.61,111.87 74.08,108.63 80.55,106.04 87.03,104.1 93.5,97.62 99.98,89.84 106.45,83.36 112.92,76.88 119.4,73.64 125.87,71.7 132.34,69.97 138.82,68.24 145.29,66.51 151.77,64.96 158.24,63.4 164.71,61.59 171.19,59.51 177.66,57.44 184.14,56.4 190.61,55.37 197.08,54.33 203.56,53.29 210.03,52.26 216.5,51.82 222.98,51.39 229.45,50.96" fill="none" stroke="#e8312f" stroke-width="1.0"/>
<path d="M67.61,110.98V112.76M66.11,110.98H69.11M66.11,112.76H69.11" stroke="#e8312f" stroke-width="0.9" fill="none"/>
<path d="M74.08,107.58V109.68M72.58,107.58H75.58M72.58,109.68H75.58" stroke="#e8312f" stroke-width="0.9" fill="none"/>
<path d="M80.55,104.82V107.25M79.05,104.82H82.05M79.05,107.25H82.05" stroke="#e8312f" stroke-width="0.9" fill="none"/>
<path d="M87.03,102.72V105.47M85.53,102.72H88.53M85.53,105.47H88.53" stroke="#e8312f" stroke-width="0.9" fill="none"/>
<path d="M93.5,96.08V99.15M92,96.08H95M92,99.15H95" stroke="#e8312f" stroke-width="0.9" fill="none"/>
<path d="M99.98,88.14V91.54M98.48,88.14H101.48M98.48,91.54H101.48" stroke="#e8312f" stroke-width="0.9" fill="none"/>
<path d="M106.45,81.5V85.22M104.95,81.5H107.95M104.95,85.22H107.95" stroke="#e8312f" stroke-width="0.9" fill="none"/>
<path d="M112.92,74.85V78.91M111.42,74.85H114.42M111.42,78.91H114.42" stroke="#e8312f" stroke-width="0.9" fill="none"/>
<path d="M119.4,71.45V75.83M117.9,71.45H120.9M117.9,75.83H120.9" stroke="#e8312f" stroke-width="0.9" fill="none"/>
<path d="M125.87,69.35V74.04M124.37,69.35H127.37M124.37,74.04H127.37" stroke="#e8312f" stroke-width="0.9" fill="none"/>
<path d="M132.34,67.46V72.48M130.84,67.46H133.84M130.84,72.48H133.84" stroke="#e8312f" stroke-width="0.9" fill="none"/>
<path d="M138.82,65.57V70.91M137.32,65.57H140.32M137.32,70.91H140.32" stroke="#e8312f" stroke-width="0.9" fill="none"/>
<path d="M145.29,63.68V69.35M143.79,63.68H146.79M143.79,69.35H146.79" stroke="#e8312f" stroke-width="0.9" fill="none"/>
<path d="M151.77,61.96V67.95M150.27,61.96H153.27M150.27,67.95H153.27" stroke="#e8312f" stroke-width="0.9" fill="none"/>
<path d="M158.24,60.24V66.56M156.74,60.24H159.74M156.74,66.56H159.74" stroke="#e8312f" stroke-width="0.9" fill="none"/>
<path d="M164.71,58.35V64.83M163.21,58.35H166.21M163.21,64.83H166.21" stroke="#e8312f" stroke-width="0.9" fill="none"/>
<path d="M171.19,56.27V62.75M169.69,56.27H172.69M169.69,62.75H172.69" stroke="#e8312f" stroke-width="0.9" fill="none"/>
<path d="M177.66,54.2V60.68M176.16,54.2H179.16M176.16,60.68H179.16" stroke="#e8312f" stroke-width="0.9" fill="none"/>
<path d="M184.14,53.16V59.64M182.64,53.16H185.64M182.64,59.64H185.64" stroke="#e8312f" stroke-width="0.9" fill="none"/>
<path d="M190.61,52.13V58.61M189.11,52.13H192.11M189.11,58.61H192.11" stroke="#e8312f" stroke-width="0.9" fill="none"/>
<path d="M197.08,51.09V57.57M195.58,51.09H198.58M195.58,57.57H198.58" stroke="#e8312f" stroke-width="0.9" fill="none"/>
<path d="M203.56,50.05V56.53M202.06,50.05H205.06M202.06,56.53H205.06" stroke="#e8312f" stroke-width="0.9" fill="none"/>
<path d="M210.03,49.02V55.5M208.53,49.02H211.53M208.53,55.5H211.53" stroke="#e8312f" stroke-width="0.9" fill="none"/>
<path d="M216.5,48.58V55.06M215,48.58H218M215,55.06H218" stroke="#e8312f" stroke-width="0.9" fill="none"/>
<path d="M222.98,48.15V54.63M221.48,48.15H224.48M221.48,54.63H224.48" stroke="#e8312f" stroke-width="0.9" fill="none"/>
<path d="M229.45,47.72V54.2M227.95,47.72H230.95M227.95,54.2H230.95" stroke="#e8312f" stroke-width="0.9" fill="none"/>
<polygon points="35.24,137.45 37.37,133.85 33.1,133.85" fill="#e8312f" stroke="#e8312f" stroke-width="0.8"/>
<polygon points="41.71,132.91 43.85,129.31 39.57,129.31" fill="#e8312f" stroke="#e8312f" stroke-width="0.8"/>
<polygon points="48.18,125.79 50.32,122.19 46.05,122.19" fill="#e8312f" stroke="#e8312f" stroke-width="0.8"/>
<polygon points="54.66,120.6 56.8,117 52.52,117" fill="#e8312f" stroke="#e8312f" stroke-width="0.8"/>
<polygon points="61.13,116.07 63.27,112.47 58.99,112.47" fill="#e8312f" stroke="#e8312f" stroke-width="0.8"/>
<polygon points="67.61,114.12 69.74,110.52 65.47,110.52" fill="#e8312f" stroke="#e8312f" stroke-width="0.8"/>
<polygon points="74.08,110.88 76.22,107.28 71.94,107.28" fill="#e8312f" stroke="#e8312f" stroke-width="0.8"/>
<polygon points="80.55,108.29 82.69,104.69 78.42,104.69" fill="#e8312f" stroke="#e8312f" stroke-width="0.8"/>
<polygon points="87.03,106.35 89.17,102.75 84.89,102.75" fill="#e8312f" stroke="#e8312f" stroke-width="0.8"/>
<polygon points="93.5,99.87 95.64,96.27 91.36,96.27" fill="#e8312f" stroke="#e8312f" stroke-width="0.8"/>
<polygon points="99.98,92.09 102.11,88.49 97.84,88.49" fill="#e8312f" stroke="#e8312f" stroke-width="0.8"/>
<polygon points="106.45,85.61 108.59,82.01 104.31,82.01" fill="#e8312f" stroke="#e8312f" stroke-width="0.8"/>
<polygon points="112.92,79.13 115.06,75.53 110.79,75.53" fill="#e8312f" stroke="#e8312f" stroke-width="0.8"/>
<polygon points="119.4,75.89 121.53,72.29 117.26,72.29" fill="#e8312f" stroke="#e8312f" stroke-width="0.8"/>
<polygon points="125.87,73.95 128.01,70.35 123.73,70.35" fill="#e8312f" stroke="#e8312f" stroke-width="0.8"/>
<polygon points="132.34,72.22 134.48,68.62 130.21,68.62" fill="#e8312f" stroke="#e8312f" stroke-width="0.8"/>
<polygon points="138.82,70.49 140.96,66.89 136.68,66.89" fill="#e8312f" stroke="#e8312f" stroke-width="0.8"/>
<polygon points="145.29,68.76 147.43,65.16 143.15,65.16" fill="#e8312f" stroke="#e8312f" stroke-width="0.8"/>
<polygon points="151.77,67.21 153.9,63.61 149.63,63.61" fill="#e8312f" stroke="#e8312f" stroke-width="0.8"/>
<polygon points="158.24,65.65 160.38,62.05 156.1,62.05" fill="#e8312f" stroke="#e8312f" stroke-width="0.8"/>
<polygon points="164.71,63.84 166.85,60.24 162.58,60.24" fill="#e8312f" stroke="#e8312f" stroke-width="0.8"/>
<polygon points="171.19,61.76 173.33,58.16 169.05,58.16" fill="#e8312f" stroke="#e8312f" stroke-width="0.8"/>
<polygon points="177.66,59.69 179.8,56.09 175.52,56.09" fill="#e8312f" stroke="#e8312f" stroke-width="0.8"/>
<polygon points="184.14,58.65 186.27,55.05 182,55.05" fill="#e8312f" stroke="#e8312f" stroke-width="0.8"/>
<polygon points="190.61,57.62 192.75,54.02 188.47,54.02" fill="#e8312f" stroke="#e8312f" stroke-width="0.8"/>
<polygon points="197.08,56.58 199.22,52.98 194.95,52.98" fill="#e8312f" stroke="#e8312f" stroke-width="0.8"/>
<polygon points="203.56,55.54 205.69,51.94 201.42,51.94" fill="#e8312f" stroke="#e8312f" stroke-width="0.8"/>
<polygon points="210.03,54.51 212.17,50.91 207.89,50.91" fill="#e8312f" stroke="#e8312f" stroke-width="0.8"/>
<polygon points="216.5,54.07 218.64,50.47 214.37,50.47" fill="#e8312f" stroke="#e8312f" stroke-width="0.8"/>
<polygon points="222.98,53.64 225.12,50.04 220.84,50.04" fill="#e8312f" stroke="#e8312f" stroke-width="0.8"/>
<polygon points="229.45,53.21 231.59,49.61 227.31,49.61" fill="#e8312f" stroke="#e8312f" stroke-width="0.8"/>
<polyline points="35.24,135.2 41.71,130.66 48.18,123.54 54.66,117.7 61.13,113.17 67.61,110.58 74.08,107.98 80.55,105.39 87.03,102.8 93.5,96.32 99.98,88.54 106.45,80.77 112.92,75.58 119.4,71.7 125.87,69.1 132.34,66.51 138.82,63.92 145.29,61.33 151.77,58.74 158.24,56.14 164.71,53.55 171.19,50.96 177.66,48.37 184.14,46.29 190.61,44.22 197.08,42.41 203.56,40.85 210.03,39.3 216.5,38.43 222.98,37.57 229.45,36.7" fill="none" stroke="#e86060" stroke-width="1.0"/>
<path d="M61.13,112.29V114.04M59.63,112.29H62.63M59.63,114.04H62.63" stroke="#e86060" stroke-width="0.9" fill="none"/>
<path d="M67.61,109.51V111.65M66.11,109.51H69.11M66.11,111.65H69.11" stroke="#e86060" stroke-width="0.9" fill="none"/>
<path d="M74.08,106.72V109.25M72.58,106.72H75.58M72.58,109.25H75.58" stroke="#e86060" stroke-width="0.9" fill="none"/>
<path d="M80.55,103.93V106.85M79.05,103.93H82.05M79.05,106.85H82.05" stroke="#e86060" stroke-width="0.9" fill="none"/>
<path d="M87.03,101.15V104.45M85.53,101.15H88.53M85.53,104.45H88.53" stroke="#e86060" stroke-width="0.9" fill="none"/>
<path d="M93.5,94.47V98.17M92,94.47H95M92,98.17H95" stroke="#e86060" stroke-width="0.9" fill="none"/>
<path d="M99.98,86.5V90.59M98.48,86.5H101.48M98.48,90.59H101.48" stroke="#e86060" stroke-width="0.9" fill="none"/>
<path d="M106.45,78.53V83M104.95,78.53H107.95M104.95,83H107.95" stroke="#e86060" stroke-width="0.9" fill="none"/>
<path d="M112.92,73.15V78.01M111.42,73.15H114.42M111.42,78.01H114.42" stroke="#e86060" stroke-width="0.9" fill="none"/>
<path d="M119.4,69.07V74.32M117.9,69.07H120.9M117.9,74.32H120.9" stroke="#e86060" stroke-width="0.9" fill="none"/>
<path d="M125.87,66.29V71.92M124.37,66.29H127.37M124.37,71.92H127.37" stroke="#e86060" stroke-width="0.9" fill="none"/>
<path d="M132.34,63.5V69.53M130.84,63.5H133.84M130.84,69.53H133.84" stroke="#e86060" stroke-width="0.9" fill="none"/>
<path d="M138.82,60.71V67.13M137.32,60.71H140.32M137.32,67.13H140.32" stroke="#e86060" stroke-width="0.9" fill="none"/>
<path d="M145.29,57.93V64.73M143.79,57.93H146.79M143.79,64.73H146.79" stroke="#e86060" stroke-width="0.9" fill="none"/>
<path d="M151.77,55.14V62.33M150.27,55.14H153.27M150.27,62.33H153.27" stroke="#e86060" stroke-width="0.9" fill="none"/>
<path d="M158.24,52.35V59.93M156.74,52.35H159.74M156.74,59.93H159.74" stroke="#e86060" stroke-width="0.9" fill="none"/>
<path d="M164.71,49.66V57.44M163.21,49.66H166.21M163.21,57.44H166.21" stroke="#e86060" stroke-width="0.9" fill="none"/>
<path d="M171.19,47.07V54.85M169.69,47.07H172.69M169.69,54.85H172.69" stroke="#e86060" stroke-width="0.9" fill="none"/>
<path d="M177.66,44.48V52.26M176.16,44.48H179.16M176.16,52.26H179.16" stroke="#e86060" stroke-width="0.9" fill="none"/>
<path d="M184.14,42.41V50.18M182.64,42.41H185.64M182.64,50.18H185.64" stroke="#e86060" stroke-width="0.9" fill="none"/>
<path d="M190.61,40.33V48.11M189.11,40.33H192.11M189.11,48.11H192.11" stroke="#e86060" stroke-width="0.9" fill="none"/>
<path d="M197.08,38.52V46.29M195.58,38.52H198.58M195.58,46.29H198.58" stroke="#e86060" stroke-width="0.9" fill="none"/>
<path d="M203.56,36.96V44.74M202.06,36.96H205.06M202.06,44.74H205.06" stroke="#e86060" stroke-width="0.9" fill="none"/>
<path d="M210.03,35.41V43.18M208.53,35.41H211.53M208.53,43.18H211.53" stroke="#e86060" stroke-width="0.9" fill="none"/>
<path d="M216.5,34.54V42.32M215,34.54H218M215,42.32H218" stroke="#e86060" stroke-width="0.9" fill="none"/>
<path d="M222.98,33.68V41.46M221.48,33.68H224.48M221.48,41.46H224.48" stroke="#e86060" stroke-width="0.9" fill="none"/>
<path d="M229.45,32.82V40.59M227.95,32.82H230.95M227.95,40.59H230.95" stroke="#e86060" stroke-width="0.9" fill="none"/>
<circle cx="35.24" cy="135.2" r="1.8" fill="white" stroke="#e86060" stroke-width="0.8"/>
<circle cx="41.71" cy="130.66" r="1.8" fill="white" stroke="#e86060" stroke-width="0.8"/>
<circle cx="48.18" cy="123.54" r="1.8" fill="white" stroke="#e86060" stroke-width="0.8"/>
<circle cx="54.66" cy="117.7" r="1.8" fill="white" stroke="#e86060" stroke-width="0.8"/>
<circle cx="61.13" cy="113.17" r="1.8" fill="white" stroke="#e86060" stroke-width="0.8"/>
<circle cx="67.61" cy="110.58" r="1.8" fill="white" stroke="#e86060" stroke-width="0.8"/>
<circle cx="74.08" cy="107.98" r="1.8" fill="white" stroke="#e86060" stroke-width="0.8"/>
<circle cx="80.55" cy="105.39" r="1.8" fill="white" stroke="#e86060" stroke-width="0.8"/>
<circle cx="87.03" cy="102.8" r="1.8" fill="white" stroke="#e86060" stroke-width="0.8"/>
<circle cx="93.5" cy="96.32" r="1.8" fill="white" stroke="#e86060" stroke-width="0.8"/>
<circle cx="99.98" cy="88.54" r="1.8" fill="white" stroke="#e86060" stroke-width="0.8"/>
<circle cx="106.45" cy="80.77" r="1.8" fill="white" stroke="#e86060" stroke-width="0.8"/>
<circle cx="112.92" cy="75.58" r="1.8" fill="white" stroke="#e86060" stroke-width="0.8"/>
<circle cx="119.4" cy="71.7" r="1.8" fill="white" stroke="#e86060" stroke-width="0.8"/>
<circle cx="125.87" cy="69.1" r="1.8" fill="white" stroke="#e86060" stroke-width="0.8"/>
<circle cx="132.34" cy="66.51" r="1.8" fill="white" stroke="#e86060" stroke-width="0.8"/>
<circle cx="138.82" cy="63.92" r="1.8" fill="white" stroke="#e86060" stroke-width="0.8"/>
<circle cx="145.29" cy="61.33" r="1.8" fill="white" stroke="#e86060" stroke-width="0.8"/>
<circle cx="151.77" cy="58.74" r="1.8" fill="white" stroke="#e86060" stroke-width="0.8"/>
<circle cx="158.24" cy="56.14" r="1.8" fill="white" stroke="#e86060" stroke-width="0.8"/>
<circle cx="164.71" cy="53.55" r="1.8" fill="white" stroke="#e86060" stroke-width="0.8"/>
<circle cx="171.19" cy="50.96" r="1.8" fill="white" stroke="#e86060" stroke-width="0.8"/>
<circle cx="177.66" cy="48.37" r="1.8" fill="white" stroke="#e86060" stroke-width="0.8"/>
<circle cx="184.14" cy="46.29" r="1.8" fill="white" stroke="#e86060" stroke-width="0.8"/>
<circle cx="190.61" cy="44.22" r="1.8" fill="white" stroke="#e86060" stroke-width="0.8"/>
<circle cx="197.08" cy="42.41" r="1.8" fill="white" stroke="#e86060" stroke-width="0.8"/>
<circle cx="203.56" cy="40.85" r="1.8" fill="white" stroke="#e86060" stroke-width="0.8"/>
<circle cx="210.03" cy="39.3" r="1.8" fill="white" stroke="#e86060" stroke-width="0.8"/>
<circle cx="216.5" cy="38.43" r="1.8" fill="white" stroke="#e86060" stroke-width="0.8"/>
<circle cx="222.98" cy="37.57" r="1.8" fill="white" stroke="#e86060" stroke-width="0.8"/>
<circle cx="229.45" cy="36.7" r="1.8" fill="white" stroke="#e86060" stroke-width="0.8"/>
<polyline points="35.24,135.2 41.71,128.98 48.18,122.24 54.66,116.28 61.13,111.35 67.61,108.24 74.08,105.65 80.55,103.32 87.03,100.86 93.5,94.25 99.98,87.25 106.45,78.82 112.92,74.29 119.4,70.4 125.87,67.81 132.34,65.22 138.82,62.62 145.29,60.03 151.77,57.44 158.24,54.85 164.71,52.13 171.19,49.28 177.66,46.42 184.14,44.61 190.61,42.8 197.08,41.11 203.56,39.56 210.03,38 216.5,36.7 222.98,35.41 229.45,34.11" fill="none" stroke="#1e8c1e" stroke-width="1.0"/>
<path d="M54.66,115.26V117.3M53.16,115.26H56.16M53.16,117.3H56.16" stroke="#1e8c1e" stroke-width="0.9" fill="none"/>
<path d="M61.13,110.04V112.67M59.63,110.04H62.63M59.63,112.67H62.63" stroke="#1e8c1e" stroke-width="0.9" fill="none"/>
<path d="M67.61,106.64V109.85M66.11,106.64H69.11M66.11,109.85H69.11" stroke="#1e8c1e" stroke-width="0.9" fill="none"/>
<path d="M74.08,103.76V107.55M72.58,103.76H75.58M72.58,107.55H75.58" stroke="#1e8c1e" stroke-width="0.9" fill="none"/>
<path d="M80.55,101.13V105.51M79.05,101.13H82.05M79.05,105.51H82.05" stroke="#1e8c1e" stroke-width="0.9" fill="none"/>
<path d="M87.03,98.38V103.33M85.53,98.38H88.53M85.53,103.33H88.53" stroke="#1e8c1e" stroke-width="0.9" fill="none"/>
<path d="M93.5,91.48V97.02M92,91.48H95M92,97.02H95" stroke="#1e8c1e" stroke-width="0.9" fill="none"/>
<path d="M99.98,84.19V90.31M98.48,84.19H101.48M98.48,90.31H101.48" stroke="#1e8c1e" stroke-width="0.9" fill="none"/>
<path d="M106.45,75.47V82.18M104.95,75.47H107.95M104.95,82.18H107.95" stroke="#1e8c1e" stroke-width="0.9" fill="none"/>
<path d="M112.92,70.64V77.93M111.42,70.64H114.42M111.42,77.93H114.42" stroke="#1e8c1e" stroke-width="0.9" fill="none"/>
<path d="M119.4,66.46V74.34M117.9,66.46H120.9M117.9,74.34H120.9" stroke="#1e8c1e" stroke-width="0.9" fill="none"/>
<path d="M125.87,63.58V72.04M124.37,63.58H127.37M124.37,72.04H127.37" stroke="#1e8c1e" stroke-width="0.9" fill="none"/>
<path d="M132.34,60.7V69.74M130.84,60.7H133.84M130.84,69.74H133.84" stroke="#1e8c1e" stroke-width="0.9" fill="none"/>
<path d="M138.82,57.81V67.44M137.32,57.81H140.32M137.32,67.44H140.32" stroke="#1e8c1e" stroke-width="0.9" fill="none"/>
<path d="M145.29,54.93V65.13M143.79,54.93H146.79M143.79,65.13H146.79" stroke="#1e8c1e" stroke-width="0.9" fill="none"/>
<path d="M151.77,52.05V62.83M150.27,52.05H153.27M150.27,62.83H153.27" stroke="#1e8c1e" stroke-width="0.9" fill="none"/>
<path d="M158.24,49.16V60.53M156.74,49.16H159.74M156.74,60.53H159.74" stroke="#1e8c1e" stroke-width="0.9" fill="none"/>
<path d="M164.71,46.29V57.96M163.21,46.29H166.21M163.21,57.96H166.21" stroke="#1e8c1e" stroke-width="0.9" fill="none"/>
<path d="M171.19,43.44V55.11M169.69,43.44H172.69M169.69,55.11H172.69" stroke="#1e8c1e" stroke-width="0.9" fill="none"/>
<path d="M177.66,40.59V52.26M176.16,40.59H179.16M176.16,52.26H179.16" stroke="#1e8c1e" stroke-width="0.9" fill="none"/>
<path d="M184.14,38.78V50.44M182.64,38.78H185.64M182.64,50.44H185.64" stroke="#1e8c1e" stroke-width="0.9" fill="none"/>
<path d="M190.61,36.96V48.63M189.11,36.96H192.11M189.11,48.63H192.11" stroke="#1e8c1e" stroke-width="0.9" fill="none"/>
<path d="M197.08,35.28V46.94M195.58,35.28H198.58M195.58,46.94H198.58" stroke="#1e8c1e" stroke-width="0.9" fill="none"/>
<path d="M203.56,33.72V45.39M202.06,33.72H205.06M202.06,45.39H205.06" stroke="#1e8c1e" stroke-width="0.9" fill="none"/>
<path d="M210.03,32.17V43.83M208.53,32.17H211.53M208.53,43.83H211.53" stroke="#1e8c1e" stroke-width="0.9" fill="none"/>
<path d="M216.5,30.87V42.54M215,30.87H218M215,42.54H218" stroke="#1e8c1e" stroke-width="0.9" fill="none"/>
<path d="M222.98,29.58V41.24M221.48,29.58H224.48M221.48,41.24H224.48" stroke="#1e8c1e" stroke-width="0.9" fill="none"/>
<path d="M229.45,28.28V39.94M227.95,28.28H230.95M227.95,39.94H230.95" stroke="#1e8c1e" stroke-width="0.9" fill="none"/>
<polygon points="32.99,135.2 36.59,133.06 36.59,137.34" fill="white" stroke="#1e8c1e" stroke-width="0.8"/>
<polygon points="39.46,128.98 43.06,126.84 43.06,131.12" fill="white" stroke="#1e8c1e" stroke-width="0.8"/>
<polygon points="45.93,122.24 49.53,120.1 49.53,124.38" fill="white" stroke="#1e8c1e" stroke-width="0.8"/>
<polygon points="52.41,116.28 56.01,114.14 56.01,118.42" fill="white" stroke="#1e8c1e" stroke-width="0.8"/>
<polygon points="58.88,111.35 62.48,109.22 62.48,113.49" fill="white" stroke="#1e8c1e" stroke-width="0.8"/>
<polygon points="65.36,108.24 68.96,106.11 68.96,110.38" fill="white" stroke="#1e8c1e" stroke-width="0.8"/>
<polygon points="71.83,105.65 75.43,103.51 75.43,107.79" fill="white" stroke="#1e8c1e" stroke-width="0.8"/>
<polygon points="78.3,103.32 81.9,101.18 81.9,105.46" fill="white" stroke="#1e8c1e" stroke-width="0.8"/>
<polygon points="84.78,100.86 88.38,98.72 88.38,102.99" fill="white" stroke="#1e8c1e" stroke-width="0.8"/>
<polygon points="91.25,94.25 94.85,92.11 94.85,96.38" fill="white" stroke="#1e8c1e" stroke-width="0.8"/>
<polygon points="97.73,87.25 101.33,85.11 101.33,89.39" fill="white" stroke="#1e8c1e" stroke-width="0.8"/>
<polygon points="104.2,78.82 107.8,76.69 107.8,80.96" fill="white" stroke="#1e8c1e" stroke-width="0.8"/>
<polygon points="110.67,74.29 114.27,72.15 114.27,76.43" fill="white" stroke="#1e8c1e" stroke-width="0.8"/>
<polygon points="117.15,70.4 120.75,68.26 120.75,72.54" fill="white" stroke="#1e8c1e" stroke-width="0.8"/>
<polygon points="123.62,67.81 127.22,65.67 127.22,69.95" fill="white" stroke="#1e8c1e" stroke-width="0.8"/>
<polygon points="130.09,65.22 133.69,63.08 133.69,67.35" fill="white" stroke="#1e8c1e" stroke-width="0.8"/>
<polygon points="136.57,62.62 140.17,60.49 140.17,64.76" fill="white" stroke="#1e8c1e" stroke-width="0.8"/>
<polygon points="143.04,60.03 146.64,57.89 146.64,62.17" fill="white" stroke="#1e8c1e" stroke-width="0.8"/>
<polygon points="149.52,57.44 153.12,55.3 153.12,59.58" fill="white" stroke="#1e8c1e" stroke-width="0.8"/>
<polygon points="155.99,54.85 159.59,52.71 159.59,56.99" fill="white" stroke="#1e8c1e" stroke-width="0.8"/>
<polygon points="162.46,52.13 166.06,49.99 166.06,54.26" fill="white" stroke="#1e8c1e" stroke-width="0.8"/>
<polygon points="168.94,49.28 172.54,47.14 172.54,51.41" fill="white" stroke="#1e8c1e" stroke-width="0.8"/>
<polygon points="175.41,46.42 179.01,44.29 179.01,48.56" fill="white" stroke="#1e8c1e" stroke-width="0.8"/>
<polygon points="181.89,44.61 185.49,42.47 185.49,46.75" fill="white" stroke="#1e8c1e" stroke-width="0.8"/>
<polygon points="188.36,42.8 191.96,40.66 191.96,44.93" fill="white" stroke="#1e8c1e" stroke-width="0.8"/>
<polygon points="194.83,41.11 198.43,38.97 198.43,43.25" fill="white" stroke="#1e8c1e" stroke-width="0.8"/>
<polygon points="201.31,39.56 204.91,37.42 204.91,41.69" fill="white" stroke="#1e8c1e" stroke-width="0.8"/>
<polygon points="207.78,38 211.38,35.86 211.38,40.14" fill="white" stroke="#1e8c1e" stroke-width="0.8"/>
<polygon points="214.25,36.7 217.85,34.57 217.85,38.84" fill="white" stroke="#1e8c1e" stroke-width="0.8"/>
<polygon points="220.73,35.41 224.33,33.27 224.33,37.55" fill="white" stroke="#1e8c1e" stroke-width="0.8"/>
<polygon points="227.2,34.11 230.8,31.97 230.8,36.25" fill="white" stroke="#1e8c1e" stroke-width="0.8"/>
<line x1="40.7" y1="14.1" x2="52.5" y2="14.1" stroke="#000000" stroke-width="1.1"/>
<rect x="44.98" y="12.48" width="3.23" height="3.23" fill="#000000" stroke="#000000" stroke-width="0.8"/>
<text x="54.1" y="16.9" class="lg">no pretreatment</text>
<line x1="40.7" y1="26.1" x2="52.5" y2="26.1" stroke="#e86060" stroke-width="1.1"/>
<circle cx="46.6" cy="26.1" r="1.9" fill="white" stroke="#e86060" stroke-width="0.8"/>
<text x="54.1" y="28.9" class="lg">1% H<tspan dy="2">2</tspan><tspan dy="-2">SO</tspan><tspan dy="2">4</tspan></text>
<line x1="40.7" y1="38.2" x2="52.5" y2="38.2" stroke="#1f1fd0" stroke-width="1.1"/>
<polygon points="46.6,35.83 48.86,39.62 44.34,39.62" fill="white" stroke="#1f1fd0" stroke-width="0.8"/>
<text x="54.1" y="41" class="lg">2% H<tspan dy="2">2</tspan><tspan dy="-2">SO</tspan><tspan dy="2">4</tspan></text>
<line x1="40.7" y1="50.2" x2="52.5" y2="50.2" stroke="#e8312f" stroke-width="1.1"/>
<polygon points="46.6,52.58 48.86,48.78 44.34,48.78" fill="#e8312f" stroke="#e8312f" stroke-width="0.8"/>
<text x="54.1" y="53" class="lg">3% H<tspan dy="2">2</tspan><tspan dy="-2">SO</tspan><tspan dy="2">4</tspan></text>
<line x1="40.7" y1="62.3" x2="52.5" y2="62.3" stroke="#1e8c1e" stroke-width="1.1"/>
<polygon points="44.23,62.3 48.02,60.04 48.02,64.56" fill="white" stroke="#1e8c1e" stroke-width="0.8"/>
<text x="54.1" y="65.1" class="lg">4% H<tspan dy="2">2</tspan><tspan dy="-2">SO</tspan><tspan dy="2">4</tspan></text>
<text x="153.6" y="22.4" class="pl">a</text>
<polyline points="288.74,134.5 295.22,129.31 301.69,122.31 308.17,118.42 314.65,113.75 321.12,110.89 327.6,108.3 334.08,105.32 340.55,102.85 347.03,99.48 353.51,96.24 359.98,91.31 366.46,86.25 372.94,84.31 379.42,81.32 385.89,79.59 392.37,77.86 398.85,76.14 405.32,74.58 411.8,73.02 418.28,71.47 424.75,69.91 431.23,68.35 437.71,67.32 444.18,66.28 450.66,65.37 457.14,64.59 463.62,63.81 470.09,63.6 476.57,63.38 483.05,63.17" fill="none" stroke="#000000" stroke-width="1.0"/>
<path d="M314.65,112.73V114.77M313.15,112.73H316.15M313.15,114.77H316.15" stroke="#000000" stroke-width="0.9" fill="none"/>
<path d="M321.12,109.65V112.14M319.62,109.65H322.62M319.62,112.14H322.62" stroke="#000000" stroke-width="0.9" fill="none"/>
<path d="M327.6,106.83V109.78M326.1,106.83H329.1M326.1,109.78H329.1" stroke="#000000" stroke-width="0.9" fill="none"/>
<path d="M334.08,103.62V107.02M332.58,103.62H335.58M332.58,107.02H335.58" stroke="#000000" stroke-width="0.9" fill="none"/>
<path d="M340.55,100.92V104.78M339.05,100.92H342.05M339.05,104.78H342.05" stroke="#000000" stroke-width="0.9" fill="none"/>
<path d="M347.03,97.32V101.64M345.53,97.32H348.53M345.53,101.64H348.53" stroke="#000000" stroke-width="0.9" fill="none"/>
<path d="M353.51,93.86V98.62M352.01,93.86H355.01M352.01,98.62H355.01" stroke="#000000" stroke-width="0.9" fill="none"/>
<path d="M359.98,88.7V93.92M358.48,88.7H361.48M358.48,93.92H361.48" stroke="#000000" stroke-width="0.9" fill="none"/>
<path d="M366.46,83.41V89.09M364.96,83.41H367.96M364.96,89.09H367.96" stroke="#000000" stroke-width="0.9" fill="none"/>
<path d="M372.94,81.24V87.37M371.44,81.24H374.44M371.44,87.37H374.44" stroke="#000000" stroke-width="0.9" fill="none"/>
<path d="M379.42,78.03V84.61M377.92,78.03H380.92M377.92,84.61H380.92" stroke="#000000" stroke-width="0.9" fill="none"/>
<path d="M385.89,76.08V83.11M384.39,76.08H387.39M384.39,83.11H387.39" stroke="#000000" stroke-width="0.9" fill="none"/>
<path d="M392.37,74.12V81.61M390.87,74.12H393.87M390.87,81.61H393.87" stroke="#000000" stroke-width="0.9" fill="none"/>
<path d="M398.85,72.16V80.11M397.35,72.16H400.35M397.35,80.11H400.35" stroke="#000000" stroke-width="0.9" fill="none"/>
<path d="M405.32,70.38V78.78M403.82,70.38H406.82M403.82,78.78H406.82" stroke="#000000" stroke-width="0.9" fill="none"/>
<path d="M411.8,68.6V77.45M410.3,68.6H413.3M410.3,77.45H413.3" stroke="#000000" stroke-width="0.9" fill="none"/>
<path d="M418.28,66.93V76.01M416.78,66.93H419.78M416.78,76.01H419.78" stroke="#000000" stroke-width="0.9" fill="none"/>
<path d="M424.75,65.37V74.45M423.25,65.37H426.25M423.25,74.45H426.25" stroke="#000000" stroke-width="0.9" fill="none"/>
<path d="M431.23,63.81V72.89M429.73,63.81H432.73M429.73,72.89H432.73" stroke="#000000" stroke-width="0.9" fill="none"/>
<path d="M437.71,62.78V71.85M436.21,62.78H439.21M436.21,71.85H439.21" stroke="#000000" stroke-width="0.9" fill="none"/>
<path d="M444.18,61.74V70.82M442.68,61.74H445.68M442.68,70.82H445.68" stroke="#000000" stroke-width="0.9" fill="none"/>
<path d="M450.66,60.83V69.91M449.16,60.83H452.16M449.16,69.91H452.16" stroke="#000000" stroke-width="0.9" fill="none"/>
<path d="M457.14,60.05V69.13M455.64,60.05H458.64M455.64,69.13H458.64" stroke="#000000" stroke-width="0.9" fill="none"/>
<path d="M463.62,59.27V68.35M462.12,59.27H465.12M462.12,68.35H465.12" stroke="#000000" stroke-width="0.9" fill="none"/>
<path d="M470.09,59.06V68.14M468.59,59.06H471.59M468.59,68.14H471.59" stroke="#000000" stroke-width="0.9" fill="none"/>
<path d="M476.57,58.84V67.92M475.07,58.84H478.07M475.07,67.92H478.07" stroke="#000000" stroke-width="0.9" fill="none"/>
<path d="M483.05,58.63V67.7M481.55,58.63H484.55M481.55,67.7H484.55" stroke="#000000" stroke-width="0.9" fill="none"/>
<rect x="286.94" y="132.7" width="3.6" height="3.6" fill="#000000" stroke="#000000" stroke-width="0.8"/>
<rect x="293.42" y="127.51" width="3.6" height="3.6" fill="#000000" stroke="#000000" stroke-width="0.8"/>
<rect x="299.89" y="120.51" width="3.6" height="3.6" fill="#000000" stroke="#000000" stroke-width="0.8"/>
<rect x="306.37" y="116.62" width="3.6" height="3.6" fill="#000000" stroke="#000000" stroke-width="0.8"/>
<rect x="312.85" y="111.95" width="3.6" height="3.6" fill="#000000" stroke="#000000" stroke-width="0.8"/>
<rect x="319.32" y="109.09" width="3.6" height="3.6" fill="#000000" stroke="#000000" stroke-width="0.8"/>
<rect x="325.8" y="106.5" width="3.6" height="3.6" fill="#000000" stroke="#000000" stroke-width="0.8"/>
<rect x="332.28" y="103.52" width="3.6" height="3.6" fill="#000000" stroke="#000000" stroke-width="0.8"/>
<rect x="338.75" y="101.05" width="3.6" height="3.6" fill="#000000" stroke="#000000" stroke-width="0.8"/>
<rect x="345.23" y="97.68" width="3.6" height="3.6" fill="#000000" stroke="#000000" stroke-width="0.8"/>
<rect x="351.71" y="94.44" width="3.6" height="3.6" fill="#000000" stroke="#000000" stroke-width="0.8"/>
<rect x="358.18" y="89.51" width="3.6" height="3.6" fill="#000000" stroke="#000000" stroke-width="0.8"/>
<rect x="364.66" y="84.45" width="3.6" height="3.6" fill="#000000" stroke="#000000" stroke-width="0.8"/>
<rect x="371.14" y="82.51" width="3.6" height="3.6" fill="#000000" stroke="#000000" stroke-width="0.8"/>
<rect x="377.62" y="79.52" width="3.6" height="3.6" fill="#000000" stroke="#000000" stroke-width="0.8"/>
<rect x="384.09" y="77.79" width="3.6" height="3.6" fill="#000000" stroke="#000000" stroke-width="0.8"/>
<rect x="390.57" y="76.06" width="3.6" height="3.6" fill="#000000" stroke="#000000" stroke-width="0.8"/>
<rect x="397.05" y="74.34" width="3.6" height="3.6" fill="#000000" stroke="#000000" stroke-width="0.8"/>
<rect x="403.52" y="72.78" width="3.6" height="3.6" fill="#000000" stroke="#000000" stroke-width="0.8"/>
<rect x="410" y="71.22" width="3.6" height="3.6" fill="#000000" stroke="#000000" stroke-width="0.8"/>
<rect x="416.48" y="69.67" width="3.6" height="3.6" fill="#000000" stroke="#000000" stroke-width="0.8"/>
<rect x="422.95" y="68.11" width="3.6" height="3.6" fill="#000000" stroke="#000000" stroke-width="0.8"/>
<rect x="429.43" y="66.55" width="3.6" height="3.6" fill="#000000" stroke="#000000" stroke-width="0.8"/>
<rect x="435.91" y="65.52" width="3.6" height="3.6" fill="#000000" stroke="#000000" stroke-width="0.8"/>
<rect x="442.38" y="64.48" width="3.6" height="3.6" fill="#000000" stroke="#000000" stroke-width="0.8"/>
<rect x="448.86" y="63.57" width="3.6" height="3.6" fill="#000000" stroke="#000000" stroke-width="0.8"/>
<rect x="455.34" y="62.79" width="3.6" height="3.6" fill="#000000" stroke="#000000" stroke-width="0.8"/>
<rect x="461.82" y="62.01" width="3.6" height="3.6" fill="#000000" stroke="#000000" stroke-width="0.8"/>
<rect x="468.29" y="61.8" width="3.6" height="3.6" fill="#000000" stroke="#000000" stroke-width="0.8"/>
<rect x="474.77" y="61.58" width="3.6" height="3.6" fill="#000000" stroke="#000000" stroke-width="0.8"/>
<rect x="481.25" y="61.37" width="3.6" height="3.6" fill="#000000" stroke="#000000" stroke-width="0.8"/>
<polyline points="288.74,134.5 295.22,129.96 301.69,123.35 308.17,118.42 314.65,116.34 321.12,116.34 327.6,116.34 334.08,116.34 340.55,115.69 347.03,111.15 353.51,108.3 359.98,103.37 366.46,100.26 372.94,97.92 379.42,97.28 385.89,96.28 392.37,95.29 398.85,94.29 405.32,93.26 411.8,92.22 418.28,91.05 424.75,89.75 431.23,88.46 437.71,86.64 444.18,84.82 450.66,83.14 457.14,81.58 463.62,80.03 470.09,79.46 476.57,78.9 483.05,78.34" fill="none" stroke="#1f1fd0" stroke-width="1.0"/>
<path d="M340.55,114.87V116.52M339.05,114.87H342.05M339.05,116.52H342.05" stroke="#1f1fd0" stroke-width="0.9" fill="none"/>
<path d="M347.03,110.23V112.08M345.53,110.23H348.53M345.53,112.08H348.53" stroke="#1f1fd0" stroke-width="0.9" fill="none"/>
<path d="M353.51,107.28V109.32M352.01,107.28H355.01M352.01,109.32H355.01" stroke="#1f1fd0" stroke-width="0.9" fill="none"/>
<path d="M359.98,102.25V104.49M358.48,102.25H361.48M358.48,104.49H361.48" stroke="#1f1fd0" stroke-width="0.9" fill="none"/>
<path d="M366.46,99.04V101.48M364.96,99.04H367.96M364.96,101.48H367.96" stroke="#1f1fd0" stroke-width="0.9" fill="none"/>
<path d="M372.94,96.61V99.24M371.44,96.61H374.44M371.44,99.24H374.44" stroke="#1f1fd0" stroke-width="0.9" fill="none"/>
<path d="M379.42,95.87V98.69M377.92,95.87H380.92M377.92,98.69H380.92" stroke="#1f1fd0" stroke-width="0.9" fill="none"/>
<path d="M385.89,94.77V97.79M384.39,94.77H387.39M384.39,97.79H387.39" stroke="#1f1fd0" stroke-width="0.9" fill="none"/>
<path d="M392.37,93.68V96.89M390.87,93.68H393.87M390.87,96.89H393.87" stroke="#1f1fd0" stroke-width="0.9" fill="none"/>
<path d="M398.85,92.59V96M397.35,92.59H400.35M397.35,96H400.35" stroke="#1f1fd0" stroke-width="0.9" fill="none"/>
<path d="M405.32,91.46V95.05M403.82,91.46H406.82M403.82,95.05H406.82" stroke="#1f1fd0" stroke-width="0.9" fill="none"/>
<path d="M411.8,90.32V94.11M410.3,90.32H413.3M410.3,94.11H413.3" stroke="#1f1fd0" stroke-width="0.9" fill="none"/>
<path d="M418.28,89.11V93M416.78,89.11H419.78M416.78,93H419.78" stroke="#1f1fd0" stroke-width="0.9" fill="none"/>
<path d="M424.75,87.81V91.7M423.25,87.81H426.25M423.25,91.7H426.25" stroke="#1f1fd0" stroke-width="0.9" fill="none"/>
<path d="M431.23,86.51V90.4M429.73,86.51H432.73M429.73,90.4H432.73" stroke="#1f1fd0" stroke-width="0.9" fill="none"/>
<path d="M437.71,84.7V88.59M436.21,84.7H439.21M436.21,88.59H439.21" stroke="#1f1fd0" stroke-width="0.9" fill="none"/>
<path d="M444.18,82.88V86.77M442.68,82.88H445.68M442.68,86.77H445.68" stroke="#1f1fd0" stroke-width="0.9" fill="none"/>
<path d="M450.66,81.19V85.08M449.16,81.19H452.16M449.16,85.08H452.16" stroke="#1f1fd0" stroke-width="0.9" fill="none"/>
<path d="M457.14,79.64V83.53M455.64,79.64H458.64M455.64,83.53H458.64" stroke="#1f1fd0" stroke-width="0.9" fill="none"/>
<path d="M463.62,78.08V81.97M462.12,78.08H465.12M462.12,81.97H465.12" stroke="#1f1fd0" stroke-width="0.9" fill="none"/>
<path d="M470.09,77.52V81.41M468.59,77.52H471.59M468.59,81.41H471.59" stroke="#1f1fd0" stroke-width="0.9" fill="none"/>
<path d="M476.57,76.96V80.85M475.07,76.96H478.07M475.07,80.85H478.07" stroke="#1f1fd0" stroke-width="0.9" fill="none"/>
<path d="M483.05,76.39V80.29M481.55,76.39H484.55M481.55,80.29H484.55" stroke="#1f1fd0" stroke-width="0.9" fill="none"/>
<polygon points="288.74,132.25 290.88,135.85 286.6,135.85" fill="#1f1fd0" stroke="#1f1fd0" stroke-width="0.8"/>
<polygon points="295.22,127.71 297.35,131.31 293.08,131.31" fill="#1f1fd0" stroke="#1f1fd0" stroke-width="0.8"/>
<polygon points="301.69,121.1 303.83,124.7 299.55,124.7" fill="#1f1fd0" stroke="#1f1fd0" stroke-width="0.8"/>
<polygon points="308.17,116.17 310.31,119.77 306.03,119.77" fill="#1f1fd0" stroke="#1f1fd0" stroke-width="0.8"/>
<polygon points="314.65,114.09 316.78,117.69 312.51,117.69" fill="#1f1fd0" stroke="#1f1fd0" stroke-width="0.8"/>
<polygon points="321.12,114.09 323.26,117.69 318.99,117.69" fill="#1f1fd0" stroke="#1f1fd0" stroke-width="0.8"/>
<polygon points="327.6,114.09 329.74,117.69 325.46,117.69" fill="#1f1fd0" stroke="#1f1fd0" stroke-width="0.8"/>
<polygon points="334.08,114.09 336.21,117.69 331.94,117.69" fill="#1f1fd0" stroke="#1f1fd0" stroke-width="0.8"/>
<polygon points="340.55,113.44 342.69,117.04 338.42,117.04" fill="#1f1fd0" stroke="#1f1fd0" stroke-width="0.8"/>
<polygon points="347.03,108.9 349.17,112.5 344.89,112.5" fill="#1f1fd0" stroke="#1f1fd0" stroke-width="0.8"/>
<polygon points="353.51,106.05 355.65,109.65 351.37,109.65" fill="#1f1fd0" stroke="#1f1fd0" stroke-width="0.8"/>
<polygon points="359.98,101.12 362.12,104.72 357.85,104.72" fill="#1f1fd0" stroke="#1f1fd0" stroke-width="0.8"/>
<polygon points="366.46,98.01 368.6,101.61 364.32,101.61" fill="#1f1fd0" stroke="#1f1fd0" stroke-width="0.8"/>
<polygon points="372.94,95.67 375.08,99.27 370.8,99.27" fill="#1f1fd0" stroke="#1f1fd0" stroke-width="0.8"/>
<polygon points="379.42,95.03 381.55,98.63 377.28,98.63" fill="#1f1fd0" stroke="#1f1fd0" stroke-width="0.8"/>
<polygon points="385.89,94.03 388.03,97.63 383.75,97.63" fill="#1f1fd0" stroke="#1f1fd0" stroke-width="0.8"/>
<polygon points="392.37,93.04 394.51,96.64 390.23,96.64" fill="#1f1fd0" stroke="#1f1fd0" stroke-width="0.8"/>
<polygon points="398.85,92.04 400.98,95.64 396.71,95.64" fill="#1f1fd0" stroke="#1f1fd0" stroke-width="0.8"/>
<polygon points="405.32,91.01 407.46,94.61 403.19,94.61" fill="#1f1fd0" stroke="#1f1fd0" stroke-width="0.8"/>
<polygon points="411.8,89.97 413.94,93.57 409.66,93.57" fill="#1f1fd0" stroke="#1f1fd0" stroke-width="0.8"/>
<polygon points="418.28,88.8 420.41,92.4 416.14,92.4" fill="#1f1fd0" stroke="#1f1fd0" stroke-width="0.8"/>
<polygon points="424.75,87.5 426.89,91.1 422.62,91.1" fill="#1f1fd0" stroke="#1f1fd0" stroke-width="0.8"/>
<polygon points="431.23,86.21 433.37,89.81 429.09,89.81" fill="#1f1fd0" stroke="#1f1fd0" stroke-width="0.8"/>
<polygon points="437.71,84.39 439.85,87.99 435.57,87.99" fill="#1f1fd0" stroke="#1f1fd0" stroke-width="0.8"/>
<polygon points="444.18,82.57 446.32,86.17 442.05,86.17" fill="#1f1fd0" stroke="#1f1fd0" stroke-width="0.8"/>
<polygon points="450.66,80.89 452.8,84.49 448.52,84.49" fill="#1f1fd0" stroke="#1f1fd0" stroke-width="0.8"/>
<polygon points="457.14,79.33 459.28,82.93 455,82.93" fill="#1f1fd0" stroke="#1f1fd0" stroke-width="0.8"/>
<polygon points="463.62,77.78 465.75,81.38 461.48,81.38" fill="#1f1fd0" stroke="#1f1fd0" stroke-width="0.8"/>
<polygon points="470.09,77.21 472.23,80.81 467.95,80.81" fill="#1f1fd0" stroke="#1f1fd0" stroke-width="0.8"/>
<polygon points="476.57,76.65 478.71,80.25 474.43,80.25" fill="#1f1fd0" stroke="#1f1fd0" stroke-width="0.8"/>
<polygon points="483.05,76.09 485.18,79.69 480.91,79.69" fill="#1f1fd0" stroke="#1f1fd0" stroke-width="0.8"/>
<polyline points="288.74,134.5 295.22,129.96 301.69,123.35 308.17,119.33 314.65,117.38 321.12,113.36 327.6,113.23 334.08,113.1 340.55,112.97 347.03,109.34 353.51,105.32 359.98,97.28 366.46,92.22 372.94,86.25 379.42,81.32 385.89,79.59 392.37,77.86 398.85,76.14 405.32,74.58 411.8,73.02 418.28,71.21 424.75,69.13 431.23,67.06 437.71,66.54 444.18,66.02 450.66,65.76 457.14,65.76 463.62,65.76 470.09,65.33 476.57,64.89 483.05,64.46" fill="none" stroke="#e86060" stroke-width="1.0"/>
<path d="M314.65,116.5V118.26M313.15,116.5H316.15M313.15,118.26H316.15" stroke="#e86060" stroke-width="0.9" fill="none"/>
<path d="M321.12,112.29V114.43M319.62,112.29H322.62M319.62,114.43H322.62" stroke="#e86060" stroke-width="0.9" fill="none"/>
<path d="M327.6,111.96V114.49M326.1,111.96H329.1M326.1,114.49H329.1" stroke="#e86060" stroke-width="0.9" fill="none"/>
<path d="M334.08,111.64V114.56M332.58,111.64H335.58M332.58,114.56H335.58" stroke="#e86060" stroke-width="0.9" fill="none"/>
<path d="M340.55,111.32V114.62M339.05,111.32H342.05M339.05,114.62H342.05" stroke="#e86060" stroke-width="0.9" fill="none"/>
<path d="M347.03,107.49V111.19M345.53,107.49H348.53M345.53,111.19H348.53" stroke="#e86060" stroke-width="0.9" fill="none"/>
<path d="M353.51,103.27V107.36M352.01,103.27H355.01M352.01,107.36H355.01" stroke="#e86060" stroke-width="0.9" fill="none"/>
<path d="M359.98,95.04V99.51M358.48,95.04H361.48M358.48,99.51H361.48" stroke="#e86060" stroke-width="0.9" fill="none"/>
<path d="M366.46,89.79V94.65M364.96,89.79H367.96M364.96,94.65H367.96" stroke="#e86060" stroke-width="0.9" fill="none"/>
<path d="M372.94,83.63V88.88M371.44,83.63H374.44M371.44,88.88H374.44" stroke="#e86060" stroke-width="0.9" fill="none"/>
<path d="M379.42,78.5V84.14M377.92,78.5H380.92M377.92,84.14H380.92" stroke="#e86060" stroke-width="0.9" fill="none"/>
<path d="M385.89,76.58V82.61M384.39,76.58H387.39M384.39,82.61H387.39" stroke="#e86060" stroke-width="0.9" fill="none"/>
<path d="M392.37,74.65V81.07M390.87,74.65H393.87M390.87,81.07H393.87" stroke="#e86060" stroke-width="0.9" fill="none"/>
<path d="M398.85,72.73V79.54M397.35,72.73H400.35M397.35,79.54H400.35" stroke="#e86060" stroke-width="0.9" fill="none"/>
<path d="M405.32,70.98V78.18M403.82,70.98H406.82M403.82,78.18H406.82" stroke="#e86060" stroke-width="0.9" fill="none"/>
<path d="M411.8,69.23V76.82M410.3,69.23H413.3M410.3,76.82H413.3" stroke="#e86060" stroke-width="0.9" fill="none"/>
<path d="M418.28,67.32V75.1M416.78,67.32H419.78M416.78,75.1H419.78" stroke="#e86060" stroke-width="0.9" fill="none"/>
<path d="M424.75,65.24V73.02M423.25,65.24H426.25M423.25,73.02H426.25" stroke="#e86060" stroke-width="0.9" fill="none"/>
<path d="M431.23,63.16V70.95M429.73,63.16H432.73M429.73,70.95H432.73" stroke="#e86060" stroke-width="0.9" fill="none"/>
<path d="M437.71,62.65V70.43M436.21,62.65H439.21M436.21,70.43H439.21" stroke="#e86060" stroke-width="0.9" fill="none"/>
<path d="M444.18,62.13V69.91M442.68,62.13H445.68M442.68,69.91H445.68" stroke="#e86060" stroke-width="0.9" fill="none"/>
<path d="M450.66,61.87V69.65M449.16,61.87H452.16M449.16,69.65H452.16" stroke="#e86060" stroke-width="0.9" fill="none"/>
<path d="M457.14,61.87V69.65M455.64,61.87H458.64M455.64,69.65H458.64" stroke="#e86060" stroke-width="0.9" fill="none"/>
<path d="M463.62,61.87V69.65M462.12,61.87H465.12M462.12,69.65H465.12" stroke="#e86060" stroke-width="0.9" fill="none"/>
<path d="M470.09,61.44V69.22M468.59,61.44H471.59M468.59,69.22H471.59" stroke="#e86060" stroke-width="0.9" fill="none"/>
<path d="M476.57,61V68.79M475.07,61H478.07M475.07,68.79H478.07" stroke="#e86060" stroke-width="0.9" fill="none"/>
<path d="M483.05,60.57V68.35M481.55,60.57H484.55M481.55,68.35H484.55" stroke="#e86060" stroke-width="0.9" fill="none"/>
<polygon points="288.74,136.75 290.88,133.15 286.6,133.15" fill="white" stroke="#e86060" stroke-width="0.8"/>
<polygon points="295.22,132.21 297.35,128.61 293.08,128.61" fill="white" stroke="#e86060" stroke-width="0.8"/>
<polygon points="301.69,125.6 303.83,122 299.55,122" fill="white" stroke="#e86060" stroke-width="0.8"/>
<polygon points="308.17,121.58 310.31,117.98 306.03,117.98" fill="white" stroke="#e86060" stroke-width="0.8"/>
<polygon points="314.65,119.63 316.78,116.03 312.51,116.03" fill="white" stroke="#e86060" stroke-width="0.8"/>
<polygon points="321.12,115.61 323.26,112.01 318.99,112.01" fill="white" stroke="#e86060" stroke-width="0.8"/>
<polygon points="327.6,115.48 329.74,111.88 325.46,111.88" fill="white" stroke="#e86060" stroke-width="0.8"/>
<polygon points="334.08,115.35 336.21,111.75 331.94,111.75" fill="white" stroke="#e86060" stroke-width="0.8"/>
<polygon points="340.55,115.22 342.69,111.62 338.42,111.62" fill="white" stroke="#e86060" stroke-width="0.8"/>
<polygon points="347.03,111.59 349.17,107.99 344.89,107.99" fill="white" stroke="#e86060" stroke-width="0.8"/>
<polygon points="353.51,107.57 355.65,103.97 351.37,103.97" fill="white" stroke="#e86060" stroke-width="0.8"/>
<polygon points="359.98,99.53 362.12,95.93 357.85,95.93" fill="white" stroke="#e86060" stroke-width="0.8"/>
<polygon points="366.46,94.47 368.6,90.87 364.32,90.87" fill="white" stroke="#e86060" stroke-width="0.8"/>
<polygon points="372.94,88.5 375.08,84.9 370.8,84.9" fill="white" stroke="#e86060" stroke-width="0.8"/>
<polygon points="379.42,83.57 381.55,79.97 377.28,79.97" fill="white" stroke="#e86060" stroke-width="0.8"/>
<polygon points="385.89,81.84 388.03,78.24 383.75,78.24" fill="white" stroke="#e86060" stroke-width="0.8"/>
<polygon points="392.37,80.11 394.51,76.51 390.23,76.51" fill="white" stroke="#e86060" stroke-width="0.8"/>
<polygon points="398.85,78.39 400.98,74.79 396.71,74.79" fill="white" stroke="#e86060" stroke-width="0.8"/>
<polygon points="405.32,76.83 407.46,73.23 403.19,73.23" fill="white" stroke="#e86060" stroke-width="0.8"/>
<polygon points="411.8,75.27 413.94,71.67 409.66,71.67" fill="white" stroke="#e86060" stroke-width="0.8"/>
<polygon points="418.28,73.46 420.41,69.86 416.14,69.86" fill="white" stroke="#e86060" stroke-width="0.8"/>
<polygon points="424.75,71.38 426.89,67.78 422.62,67.78" fill="white" stroke="#e86060" stroke-width="0.8"/>
<polygon points="431.23,69.31 433.37,65.71 429.09,65.71" fill="white" stroke="#e86060" stroke-width="0.8"/>
<polygon points="437.71,68.79 439.85,65.19 435.57,65.19" fill="white" stroke="#e86060" stroke-width="0.8"/>
<polygon points="444.18,68.27 446.32,64.67 442.05,64.67" fill="white" stroke="#e86060" stroke-width="0.8"/>
<polygon points="450.66,68.01 452.8,64.41 448.52,64.41" fill="white" stroke="#e86060" stroke-width="0.8"/>
<polygon points="457.14,68.01 459.28,64.41 455,64.41" fill="white" stroke="#e86060" stroke-width="0.8"/>
<polygon points="463.62,68.01 465.75,64.41 461.48,64.41" fill="white" stroke="#e86060" stroke-width="0.8"/>
<polygon points="470.09,67.58 472.23,63.98 467.95,63.98" fill="white" stroke="#e86060" stroke-width="0.8"/>
<polygon points="476.57,67.14 478.71,63.54 474.43,63.54" fill="white" stroke="#e86060" stroke-width="0.8"/>
<polygon points="483.05,66.71 485.18,63.11 480.91,63.11" fill="white" stroke="#e86060" stroke-width="0.8"/>
<polyline points="288.74,134.5 295.22,130.61 301.69,128.4 308.17,128.79 314.65,128.79 321.12,128.79 327.6,128.79 334.08,128.79 340.55,128.79 347.03,125.42 353.51,118.42 359.98,112.45 366.46,102.33 372.94,95.33 379.42,89.11 385.89,85.21 392.37,81.32 398.85,77.43 405.32,75.36 411.8,73.28 418.28,70.95 424.75,68.35 431.23,65.76 437.71,63.68 444.18,61.61 450.66,59.4 457.14,57.07 463.62,54.73 470.09,53.65 476.57,52.57 483.05,51.49" fill="none" stroke="#e8312f" stroke-width="1.0"/>
<path d="M314.65,127.92V129.67M313.15,127.92H316.15M313.15,129.67H316.15" stroke="#e8312f" stroke-width="0.9" fill="none"/>
<path d="M321.12,127.72V129.86M319.62,127.72H322.62M319.62,129.86H322.62" stroke="#e8312f" stroke-width="0.9" fill="none"/>
<path d="M327.6,127.53V130.06M326.1,127.53H329.1M326.1,130.06H329.1" stroke="#e8312f" stroke-width="0.9" fill="none"/>
<path d="M334.08,127.33V130.25M332.58,127.33H335.58M332.58,130.25H335.58" stroke="#e8312f" stroke-width="0.9" fill="none"/>
<path d="M340.55,127.14V130.45M339.05,127.14H342.05M339.05,130.45H342.05" stroke="#e8312f" stroke-width="0.9" fill="none"/>
<path d="M347.03,123.57V127.27M345.53,123.57H348.53M345.53,127.27H348.53" stroke="#e8312f" stroke-width="0.9" fill="none"/>
<path d="M353.51,116.37V120.46M352.01,116.37H355.01M352.01,120.46H355.01" stroke="#e8312f" stroke-width="0.9" fill="none"/>
<path d="M359.98,110.21V114.69M358.48,110.21H361.48M358.48,114.69H361.48" stroke="#e8312f" stroke-width="0.9" fill="none"/>
<path d="M366.46,99.9V104.77M364.96,99.9H367.96M364.96,104.77H367.96" stroke="#e8312f" stroke-width="0.9" fill="none"/>
<path d="M372.94,92.7V97.96M371.44,92.7H374.44M371.44,97.96H374.44" stroke="#e8312f" stroke-width="0.9" fill="none"/>
<path d="M379.42,86.28V91.93M377.92,86.28H380.92M377.92,91.93H380.92" stroke="#e8312f" stroke-width="0.9" fill="none"/>
<path d="M385.89,82.2V88.23M384.39,82.2H387.39M384.39,88.23H387.39" stroke="#e8312f" stroke-width="0.9" fill="none"/>
<path d="M392.37,78.11V84.53M390.87,78.11H393.87M390.87,84.53H393.87" stroke="#e8312f" stroke-width="0.9" fill="none"/>
<path d="M398.85,74.03V80.84M397.35,74.03H400.35M397.35,80.84H400.35" stroke="#e8312f" stroke-width="0.9" fill="none"/>
<path d="M405.32,71.76V78.96M403.82,71.76H406.82M403.82,78.96H406.82" stroke="#e8312f" stroke-width="0.9" fill="none"/>
<path d="M411.8,69.49V77.08M410.3,69.49H413.3M410.3,77.08H413.3" stroke="#e8312f" stroke-width="0.9" fill="none"/>
<path d="M418.28,67.06V74.84M416.78,67.06H419.78M416.78,74.84H419.78" stroke="#e8312f" stroke-width="0.9" fill="none"/>
<path d="M424.75,64.46V72.24M423.25,64.46H426.25M423.25,72.24H426.25" stroke="#e8312f" stroke-width="0.9" fill="none"/>
<path d="M431.23,61.87V69.65M429.73,61.87H432.73M429.73,69.65H432.73" stroke="#e8312f" stroke-width="0.9" fill="none"/>
<path d="M437.71,59.79V67.57M436.21,59.79H439.21M436.21,67.57H439.21" stroke="#e8312f" stroke-width="0.9" fill="none"/>
<path d="M444.18,57.72V65.5M442.68,57.72H445.68M442.68,65.5H445.68" stroke="#e8312f" stroke-width="0.9" fill="none"/>
<path d="M450.66,55.51V63.29M449.16,55.51H452.16M449.16,63.29H452.16" stroke="#e8312f" stroke-width="0.9" fill="none"/>
<path d="M457.14,53.18V60.96M455.64,53.18H458.64M455.64,60.96H458.64" stroke="#e8312f" stroke-width="0.9" fill="none"/>
<path d="M463.62,50.84V58.63M462.12,50.84H465.12M462.12,58.63H465.12" stroke="#e8312f" stroke-width="0.9" fill="none"/>
<path d="M470.09,49.76V57.54M468.59,49.76H471.59M468.59,57.54H471.59" stroke="#e8312f" stroke-width="0.9" fill="none"/>
<path d="M476.57,48.68V56.46M475.07,48.68H478.07M475.07,56.46H478.07" stroke="#e8312f" stroke-width="0.9" fill="none"/>
<path d="M483.05,47.6V55.38M481.55,47.6H484.55M481.55,55.38H484.55" stroke="#e8312f" stroke-width="0.9" fill="none"/>
<circle cx="288.74" cy="134.5" r="1.8" fill="white" stroke="#e8312f" stroke-width="0.8"/>
<circle cx="295.22" cy="130.61" r="1.8" fill="white" stroke="#e8312f" stroke-width="0.8"/>
<circle cx="301.69" cy="128.4" r="1.8" fill="white" stroke="#e8312f" stroke-width="0.8"/>
<circle cx="308.17" cy="128.79" r="1.8" fill="white" stroke="#e8312f" stroke-width="0.8"/>
<circle cx="314.65" cy="128.79" r="1.8" fill="white" stroke="#e8312f" stroke-width="0.8"/>
<circle cx="321.12" cy="128.79" r="1.8" fill="white" stroke="#e8312f" stroke-width="0.8"/>
<circle cx="327.6" cy="128.79" r="1.8" fill="white" stroke="#e8312f" stroke-width="0.8"/>
<circle cx="334.08" cy="128.79" r="1.8" fill="white" stroke="#e8312f" stroke-width="0.8"/>
<circle cx="340.55" cy="128.79" r="1.8" fill="white" stroke="#e8312f" stroke-width="0.8"/>
<circle cx="347.03" cy="125.42" r="1.8" fill="white" stroke="#e8312f" stroke-width="0.8"/>
<circle cx="353.51" cy="118.42" r="1.8" fill="white" stroke="#e8312f" stroke-width="0.8"/>
<circle cx="359.98" cy="112.45" r="1.8" fill="white" stroke="#e8312f" stroke-width="0.8"/>
<circle cx="366.46" cy="102.33" r="1.8" fill="white" stroke="#e8312f" stroke-width="0.8"/>
<circle cx="372.94" cy="95.33" r="1.8" fill="white" stroke="#e8312f" stroke-width="0.8"/>
<circle cx="379.42" cy="89.11" r="1.8" fill="white" stroke="#e8312f" stroke-width="0.8"/>
<circle cx="385.89" cy="85.21" r="1.8" fill="white" stroke="#e8312f" stroke-width="0.8"/>
<circle cx="392.37" cy="81.32" r="1.8" fill="white" stroke="#e8312f" stroke-width="0.8"/>
<circle cx="398.85" cy="77.43" r="1.8" fill="white" stroke="#e8312f" stroke-width="0.8"/>
<circle cx="405.32" cy="75.36" r="1.8" fill="white" stroke="#e8312f" stroke-width="0.8"/>
<circle cx="411.8" cy="73.28" r="1.8" fill="white" stroke="#e8312f" stroke-width="0.8"/>
<circle cx="418.28" cy="70.95" r="1.8" fill="white" stroke="#e8312f" stroke-width="0.8"/>
<circle cx="424.75" cy="68.35" r="1.8" fill="white" stroke="#e8312f" stroke-width="0.8"/>
<circle cx="431.23" cy="65.76" r="1.8" fill="white" stroke="#e8312f" stroke-width="0.8"/>
<circle cx="437.71" cy="63.68" r="1.8" fill="white" stroke="#e8312f" stroke-width="0.8"/>
<circle cx="444.18" cy="61.61" r="1.8" fill="white" stroke="#e8312f" stroke-width="0.8"/>
<circle cx="450.66" cy="59.4" r="1.8" fill="white" stroke="#e8312f" stroke-width="0.8"/>
<circle cx="457.14" cy="57.07" r="1.8" fill="white" stroke="#e8312f" stroke-width="0.8"/>
<circle cx="463.62" cy="54.73" r="1.8" fill="white" stroke="#e8312f" stroke-width="0.8"/>
<circle cx="470.09" cy="53.65" r="1.8" fill="white" stroke="#e8312f" stroke-width="0.8"/>
<circle cx="476.57" cy="52.57" r="1.8" fill="white" stroke="#e8312f" stroke-width="0.8"/>
<circle cx="483.05" cy="51.49" r="1.8" fill="white" stroke="#e8312f" stroke-width="0.8"/>
<polyline points="288.74,134.5 295.22,128.4 301.69,120.36 308.17,114.4 314.65,106.87 321.12,101.69 327.6,96.89 334.08,94.29 340.55,91.31 347.03,85.6 353.51,78.73 359.98,71.21 366.46,65.24 372.94,62.13 379.42,58.24 385.89,56.29 392.37,54.35 398.85,52.4 405.32,50.48 411.8,48.56 418.28,46.64 424.75,44.72 431.23,42.8 437.71,40.57 444.18,38.34 450.66,36.19 457.14,34.11 463.62,32.04 470.09,30.39 476.57,28.75 483.05,27.11" fill="none" stroke="#1e8c1e" stroke-width="1.0"/>
<path d="M327.6,96.04V97.73M326.1,96.04H329.1M326.1,97.73H329.1" stroke="#1e8c1e" stroke-width="0.9" fill="none"/>
<path d="M334.08,93.32V95.27M332.58,93.32H335.58M332.58,95.27H335.58" stroke="#1e8c1e" stroke-width="0.9" fill="none"/>
<path d="M340.55,90.21V92.41M339.05,90.21H342.05M339.05,92.41H342.05" stroke="#1e8c1e" stroke-width="0.9" fill="none"/>
<path d="M347.03,84.37V86.84M345.53,84.37H348.53M345.53,86.84H348.53" stroke="#1e8c1e" stroke-width="0.9" fill="none"/>
<path d="M353.51,77.37V80.09M352.01,77.37H355.01M352.01,80.09H355.01" stroke="#1e8c1e" stroke-width="0.9" fill="none"/>
<path d="M359.98,69.71V72.7M358.48,69.71H361.48M358.48,72.7H361.48" stroke="#1e8c1e" stroke-width="0.9" fill="none"/>
<path d="M366.46,63.62V66.86M364.96,63.62H367.96M364.96,66.86H367.96" stroke="#1e8c1e" stroke-width="0.9" fill="none"/>
<path d="M372.94,60.38V63.88M371.44,60.38H374.44M371.44,63.88H374.44" stroke="#1e8c1e" stroke-width="0.9" fill="none"/>
<path d="M379.42,56.36V60.12M377.92,56.36H380.92M377.92,60.12H380.92" stroke="#1e8c1e" stroke-width="0.9" fill="none"/>
<path d="M385.89,54.28V58.3M384.39,54.28H387.39M384.39,58.3H387.39" stroke="#1e8c1e" stroke-width="0.9" fill="none"/>
<path d="M392.37,52.21V56.49M390.87,52.21H393.87M390.87,56.49H393.87" stroke="#1e8c1e" stroke-width="0.9" fill="none"/>
<path d="M398.85,50.13V54.67M397.35,50.13H400.35M397.35,54.67H400.35" stroke="#1e8c1e" stroke-width="0.9" fill="none"/>
<path d="M405.32,48.08V52.88M403.82,48.08H406.82M403.82,52.88H406.82" stroke="#1e8c1e" stroke-width="0.9" fill="none"/>
<path d="M411.8,46.03V51.09M410.3,46.03H413.3M410.3,51.09H413.3" stroke="#1e8c1e" stroke-width="0.9" fill="none"/>
<path d="M418.28,44.05V49.24M416.78,44.05H419.78M416.78,49.24H419.78" stroke="#1e8c1e" stroke-width="0.9" fill="none"/>
<path d="M424.75,42.13V47.32M423.25,42.13H426.25M423.25,47.32H426.25" stroke="#1e8c1e" stroke-width="0.9" fill="none"/>
<path d="M431.23,40.21V45.4M429.73,40.21H432.73M429.73,45.4H432.73" stroke="#1e8c1e" stroke-width="0.9" fill="none"/>
<path d="M437.71,37.98V43.17M436.21,37.98H439.21M436.21,43.17H439.21" stroke="#1e8c1e" stroke-width="0.9" fill="none"/>
<path d="M444.18,35.75V40.93M442.68,35.75H445.68M442.68,40.93H445.68" stroke="#1e8c1e" stroke-width="0.9" fill="none"/>
<path d="M450.66,33.59V38.78M449.16,33.59H452.16M449.16,38.78H452.16" stroke="#1e8c1e" stroke-width="0.9" fill="none"/>
<path d="M457.14,31.52V36.71M455.64,31.52H458.64M455.64,36.71H458.64" stroke="#1e8c1e" stroke-width="0.9" fill="none"/>
<path d="M463.62,29.44V34.63M462.12,29.44H465.12M462.12,34.63H465.12" stroke="#1e8c1e" stroke-width="0.9" fill="none"/>
<path d="M470.09,27.8V32.99M468.59,27.8H471.59M468.59,32.99H471.59" stroke="#1e8c1e" stroke-width="0.9" fill="none"/>
<path d="M476.57,26.16V31.35M475.07,26.16H478.07M475.07,31.35H478.07" stroke="#1e8c1e" stroke-width="0.9" fill="none"/>
<path d="M483.05,24.51V29.7M481.55,24.51H484.55M481.55,29.7H484.55" stroke="#1e8c1e" stroke-width="0.9" fill="none"/>
<polygon points="286.49,134.5 290.09,132.36 290.09,136.64" fill="#1e8c1e" stroke="#1e8c1e" stroke-width="0.8"/>
<polygon points="292.97,128.4 296.57,126.27 296.57,130.54" fill="#1e8c1e" stroke="#1e8c1e" stroke-width="0.8"/>
<polygon points="299.44,120.36 303.04,118.23 303.04,122.5" fill="#1e8c1e" stroke="#1e8c1e" stroke-width="0.8"/>
<polygon points="305.92,114.4 309.52,112.26 309.52,116.53" fill="#1e8c1e" stroke="#1e8c1e" stroke-width="0.8"/>
<polygon points="312.4,106.87 316,104.74 316,109.01" fill="#1e8c1e" stroke="#1e8c1e" stroke-width="0.8"/>
<polygon points="318.87,101.69 322.47,99.55 322.47,103.82" fill="#1e8c1e" stroke="#1e8c1e" stroke-width="0.8"/>
<polygon points="325.35,96.89 328.95,94.75 328.95,99.02" fill="#1e8c1e" stroke="#1e8c1e" stroke-width="0.8"/>
<polygon points="331.83,94.29 335.43,92.16 335.43,96.43" fill="#1e8c1e" stroke="#1e8c1e" stroke-width="0.8"/>
<polygon points="338.3,91.31 341.9,89.17 341.9,93.45" fill="#1e8c1e" stroke="#1e8c1e" stroke-width="0.8"/>
<polygon points="344.78,85.6 348.38,83.47 348.38,87.74" fill="#1e8c1e" stroke="#1e8c1e" stroke-width="0.8"/>
<polygon points="351.26,78.73 354.86,76.59 354.86,80.87" fill="#1e8c1e" stroke="#1e8c1e" stroke-width="0.8"/>
<polygon points="357.73,71.21 361.33,69.07 361.33,73.34" fill="#1e8c1e" stroke="#1e8c1e" stroke-width="0.8"/>
<polygon points="364.21,65.24 367.81,63.1 367.81,67.38" fill="#1e8c1e" stroke="#1e8c1e" stroke-width="0.8"/>
<polygon points="370.69,62.13 374.29,59.99 374.29,64.26" fill="#1e8c1e" stroke="#1e8c1e" stroke-width="0.8"/>
<polygon points="377.17,58.24 380.77,56.1 380.77,60.37" fill="#1e8c1e" stroke="#1e8c1e" stroke-width="0.8"/>
<polygon points="383.64,56.29 387.24,54.15 387.24,58.43" fill="#1e8c1e" stroke="#1e8c1e" stroke-width="0.8"/>
<polygon points="390.12,54.35 393.72,52.21 393.72,56.48" fill="#1e8c1e" stroke="#1e8c1e" stroke-width="0.8"/>
<polygon points="396.6,52.4 400.2,50.26 400.2,54.54" fill="#1e8c1e" stroke="#1e8c1e" stroke-width="0.8"/>
<polygon points="403.07,50.48 406.67,48.34 406.67,52.62" fill="#1e8c1e" stroke="#1e8c1e" stroke-width="0.8"/>
<polygon points="409.55,48.56 413.15,46.42 413.15,50.7" fill="#1e8c1e" stroke="#1e8c1e" stroke-width="0.8"/>
<polygon points="416.03,46.64 419.63,44.5 419.63,48.78" fill="#1e8c1e" stroke="#1e8c1e" stroke-width="0.8"/>
<polygon points="422.5,44.72 426.1,42.58 426.1,46.86" fill="#1e8c1e" stroke="#1e8c1e" stroke-width="0.8"/>
<polygon points="428.98,42.8 432.58,40.66 432.58,44.94" fill="#1e8c1e" stroke="#1e8c1e" stroke-width="0.8"/>
<polygon points="435.46,40.57 439.06,38.43 439.06,42.71" fill="#1e8c1e" stroke="#1e8c1e" stroke-width="0.8"/>
<polygon points="441.93,38.34 445.53,36.2 445.53,40.48" fill="#1e8c1e" stroke="#1e8c1e" stroke-width="0.8"/>
<polygon points="448.41,36.19 452.01,34.05 452.01,38.32" fill="#1e8c1e" stroke="#1e8c1e" stroke-width="0.8"/>
<polygon points="454.89,34.11 458.49,31.97 458.49,36.25" fill="#1e8c1e" stroke="#1e8c1e" stroke-width="0.8"/>
<polygon points="461.37,32.04 464.97,29.9 464.97,34.17" fill="#1e8c1e" stroke="#1e8c1e" stroke-width="0.8"/>
<polygon points="467.84,30.39 471.44,28.26 471.44,32.53" fill="#1e8c1e" stroke="#1e8c1e" stroke-width="0.8"/>
<polygon points="474.32,28.75 477.92,26.61 477.92,30.89" fill="#1e8c1e" stroke="#1e8c1e" stroke-width="0.8"/>
<polygon points="480.8,27.11 484.4,24.97 484.4,29.25" fill="#1e8c1e" stroke="#1e8c1e" stroke-width="0.8"/>
<line x1="295" y1="15.6" x2="307" y2="15.6" stroke="#000000" stroke-width="1.1"/>
<rect x="299.38" y="13.98" width="3.23" height="3.23" fill="#000000" stroke="#000000" stroke-width="0.8"/>
<text x="308.6" y="18.4" class="lg">no pretreatment</text>
<line x1="295" y1="28.1" x2="307" y2="28.1" stroke="#e86060" stroke-width="1.1"/>
<circle cx="301" cy="28.1" r="1.9" fill="white" stroke="#e86060" stroke-width="0.8"/>
<text x="308.6" y="30.9" class="lg">1% H<tspan dy="2">3</tspan><tspan dy="-2">PO</tspan><tspan dy="2">4</tspan></text>
<line x1="295" y1="40.9" x2="307" y2="40.9" stroke="#1f1fd0" stroke-width="1.1"/>
<polygon points="301,38.52 303.26,42.32 298.74,42.32" fill="#1f1fd0" stroke="#1f1fd0" stroke-width="0.8"/>
<text x="308.6" y="43.7" class="lg">2% H<tspan dy="2">3</tspan><tspan dy="-2">PO</tspan><tspan dy="2">4</tspan></text>
<line x1="295" y1="53.2" x2="307" y2="53.2" stroke="#e86060" stroke-width="1.1"/>
<polygon points="301,55.58 303.26,51.78 298.74,51.78" fill="white" stroke="#e86060" stroke-width="0.8"/>
<text x="308.6" y="56" class="lg">3% H<tspan dy="2">3</tspan><tspan dy="-2">PO</tspan><tspan dy="2">4</tspan></text>
<line x1="295" y1="65.3" x2="307" y2="65.3" stroke="#1e8c1e" stroke-width="1.1"/>
<polygon points="298.62,65.3 302.43,63.04 302.43,67.56" fill="#1e8c1e" stroke="#1e8c1e" stroke-width="0.8"/>
<text x="308.6" y="68.1" class="lg">4% H<tspan dy="2">3</tspan><tspan dy="-2">PO</tspan><tspan dy="2">4</tspan></text>
<text x="415.6" y="24.9" class="pl">b</text>
<polyline points="35.04,307.34 44.76,305.89 54.48,301.56 64.2,299.88 73.92,298.2 83.64,296.75 93.36,295.31 103.08,293.39 112.8,290.5 122.52,289.06 132.24,288.09 141.96,286.17 151.68,285.21 161.4,285.21 171.12,284.63 180.84,284.05 190.56,283.47 200.28,282.9 210,282.32 219.72,282.08 229.44,281.84" fill="none" stroke="#000000" stroke-width="1.0"/>
<rect x="33.04" y="305.34" width="4" height="4" fill="#000000" stroke="#000000" stroke-width="0.8"/>
<rect x="42.76" y="303.89" width="4" height="4" fill="#000000" stroke="#000000" stroke-width="0.8"/>
<rect x="52.48" y="299.56" width="4" height="4" fill="#000000" stroke="#000000" stroke-width="0.8"/>
<rect x="62.2" y="297.88" width="4" height="4" fill="#000000" stroke="#000000" stroke-width="0.8"/>
<rect x="71.92" y="296.2" width="4" height="4" fill="#000000" stroke="#000000" stroke-width="0.8"/>
<rect x="81.64" y="294.75" width="4" height="4" fill="#000000" stroke="#000000" stroke-width="0.8"/>
<rect x="91.36" y="293.31" width="4" height="4" fill="#000000" stroke="#000000" stroke-width="0.8"/>
<rect x="101.08" y="291.39" width="4" height="4" fill="#000000" stroke="#000000" stroke-width="0.8"/>
<rect x="110.8" y="288.5" width="4" height="4" fill="#000000" stroke="#000000" stroke-width="0.8"/>
<rect x="120.52" y="287.06" width="4" height="4" fill="#000000" stroke="#000000" stroke-width="0.8"/>
<rect x="130.24" y="286.09" width="4" height="4" fill="#000000" stroke="#000000" stroke-width="0.8"/>
<rect x="139.96" y="284.17" width="4" height="4" fill="#000000" stroke="#000000" stroke-width="0.8"/>
<rect x="149.68" y="283.21" width="4" height="4" fill="#000000" stroke="#000000" stroke-width="0.8"/>
<rect x="159.4" y="283.21" width="4" height="4" fill="#000000" stroke="#000000" stroke-width="0.8"/>
<rect x="169.12" y="282.63" width="4" height="4" fill="#000000" stroke="#000000" stroke-width="0.8"/>
<rect x="178.84" y="282.05" width="4" height="4" fill="#000000" stroke="#000000" stroke-width="0.8"/>
<rect x="188.56" y="281.47" width="4" height="4" fill="#000000" stroke="#000000" stroke-width="0.8"/>
<rect x="198.28" y="280.9" width="4" height="4" fill="#000000" stroke="#000000" stroke-width="0.8"/>
<rect x="208" y="280.32" width="4" height="4" fill="#000000" stroke="#000000" stroke-width="0.8"/>
<rect x="217.72" y="280.08" width="4" height="4" fill="#000000" stroke="#000000" stroke-width="0.8"/>
<rect x="227.44" y="279.84" width="4" height="4" fill="#000000" stroke="#000000" stroke-width="0.8"/>
<polyline points="35.04,302.53 44.76,296.75 54.48,290.5 64.2,288.09 73.92,283.76 83.64,280.16 93.36,276.07 103.08,271.25 112.8,268.13 122.52,265 132.24,262.59 141.96,260.19 151.68,258.75 161.4,256.82 171.12,256.24 180.84,255.67 190.56,255.09 200.28,254.72 210,254.46 219.72,254.2 229.44,253.93" fill="none" stroke="#ee2222" stroke-width="1.0"/>
<circle cx="35.04" cy="302.53" r="2" fill="#ee2222" stroke="#ee2222" stroke-width="0.8"/>
<circle cx="44.76" cy="296.75" r="2" fill="#ee2222" stroke="#ee2222" stroke-width="0.8"/>
<circle cx="54.48" cy="290.5" r="2" fill="#ee2222" stroke="#ee2222" stroke-width="0.8"/>
<circle cx="64.2" cy="288.09" r="2" fill="#ee2222" stroke="#ee2222" stroke-width="0.8"/>
<circle cx="73.92" cy="283.76" r="2" fill="#ee2222" stroke="#ee2222" stroke-width="0.8"/>
<circle cx="83.64" cy="280.16" r="2" fill="#ee2222" stroke="#ee2222" stroke-width="0.8"/>
<circle cx="93.36" cy="276.07" r="2" fill="#ee2222" stroke="#ee2222" stroke-width="0.8"/>
<circle cx="103.08" cy="271.25" r="2" fill="#ee2222" stroke="#ee2222" stroke-width="0.8"/>
<circle cx="112.8" cy="268.13" r="2" fill="#ee2222" stroke="#ee2222" stroke-width="0.8"/>
<circle cx="122.52" cy="265" r="2" fill="#ee2222" stroke="#ee2222" stroke-width="0.8"/>
<circle cx="132.24" cy="262.59" r="2" fill="#ee2222" stroke="#ee2222" stroke-width="0.8"/>
<circle cx="141.96" cy="260.19" r="2" fill="#ee2222" stroke="#ee2222" stroke-width="0.8"/>
<circle cx="151.68" cy="258.75" r="2" fill="#ee2222" stroke="#ee2222" stroke-width="0.8"/>
<circle cx="161.4" cy="256.82" r="2" fill="#ee2222" stroke="#ee2222" stroke-width="0.8"/>
<circle cx="171.12" cy="256.24" r="2" fill="#ee2222" stroke="#ee2222" stroke-width="0.8"/>
<circle cx="180.84" cy="255.67" r="2" fill="#ee2222" stroke="#ee2222" stroke-width="0.8"/>
<circle cx="190.56" cy="255.09" r="2" fill="#ee2222" stroke="#ee2222" stroke-width="0.8"/>
<circle cx="200.28" cy="254.72" r="2" fill="#ee2222" stroke="#ee2222" stroke-width="0.8"/>
<circle cx="210" cy="254.46" r="2" fill="#ee2222" stroke="#ee2222" stroke-width="0.8"/>
<circle cx="219.72" cy="254.2" r="2" fill="#ee2222" stroke="#ee2222" stroke-width="0.8"/>
<circle cx="229.44" cy="253.93" r="2" fill="#ee2222" stroke="#ee2222" stroke-width="0.8"/>
<polyline points="35.04,302.53 44.76,292.42 54.48,287.13 64.2,279.43 73.92,276.07 83.64,273.66 93.36,269.81 103.08,266.92 112.8,263.56 122.52,260.19 132.24,258.26 141.96,256.34 151.68,254.42 161.4,252.97 171.12,252.11 180.84,251.24 190.56,250.37 200.28,249.65 210,248.99 219.72,248.34 229.44,247.68" fill="none" stroke="#1a1ae6" stroke-width="1.0"/>
<polygon points="35.04,300.03 37.41,304.03 32.66,304.03" fill="#1a1ae6" stroke="#1a1ae6" stroke-width="0.8"/>
<polygon points="44.76,289.92 47.13,293.92 42.38,293.92" fill="#1a1ae6" stroke="#1a1ae6" stroke-width="0.8"/>
<polygon points="54.48,284.63 56.86,288.63 52.11,288.63" fill="#1a1ae6" stroke="#1a1ae6" stroke-width="0.8"/>
<polygon points="64.2,276.93 66.58,280.93 61.83,280.93" fill="#1a1ae6" stroke="#1a1ae6" stroke-width="0.8"/>
<polygon points="73.92,273.57 76.3,277.57 71.55,277.57" fill="#1a1ae6" stroke="#1a1ae6" stroke-width="0.8"/>
<polygon points="83.64,271.16 86.02,275.16 81.27,275.16" fill="#1a1ae6" stroke="#1a1ae6" stroke-width="0.8"/>
<polygon points="93.36,267.31 95.73,271.31 90.98,271.31" fill="#1a1ae6" stroke="#1a1ae6" stroke-width="0.8"/>
<polygon points="103.08,264.42 105.45,268.42 100.7,268.42" fill="#1a1ae6" stroke="#1a1ae6" stroke-width="0.8"/>
<polygon points="112.8,261.06 115.17,265.06 110.42,265.06" fill="#1a1ae6" stroke="#1a1ae6" stroke-width="0.8"/>
<polygon points="122.52,257.69 124.89,261.69 120.14,261.69" fill="#1a1ae6" stroke="#1a1ae6" stroke-width="0.8"/>
<polygon points="132.24,255.76 134.62,259.76 129.87,259.76" fill="#1a1ae6" stroke="#1a1ae6" stroke-width="0.8"/>
<polygon points="141.96,253.84 144.34,257.84 139.59,257.84" fill="#1a1ae6" stroke="#1a1ae6" stroke-width="0.8"/>
<polygon points="151.68,251.92 154.06,255.92 149.31,255.92" fill="#1a1ae6" stroke="#1a1ae6" stroke-width="0.8"/>
<polygon points="161.4,250.47 163.78,254.47 159.03,254.47" fill="#1a1ae6" stroke="#1a1ae6" stroke-width="0.8"/>
<polygon points="171.12,249.61 173.5,253.61 168.75,253.61" fill="#1a1ae6" stroke="#1a1ae6" stroke-width="0.8"/>
<polygon points="180.84,248.74 183.22,252.74 178.47,252.74" fill="#1a1ae6" stroke="#1a1ae6" stroke-width="0.8"/>
<polygon points="190.56,247.87 192.94,251.87 188.19,251.87" fill="#1a1ae6" stroke="#1a1ae6" stroke-width="0.8"/>
<polygon points="200.28,247.15 202.66,251.15 197.91,251.15" fill="#1a1ae6" stroke="#1a1ae6" stroke-width="0.8"/>
<polygon points="210,246.49 212.38,250.49 207.62,250.49" fill="#1a1ae6" stroke="#1a1ae6" stroke-width="0.8"/>
<polygon points="219.72,245.84 222.09,249.84 217.34,249.84" fill="#1a1ae6" stroke="#1a1ae6" stroke-width="0.8"/>
<polygon points="229.44,245.18 231.81,249.18 227.06,249.18" fill="#1a1ae6" stroke="#1a1ae6" stroke-width="0.8"/>
<polyline points="35.04,302.53 44.76,285.21 54.48,281.36 64.2,276.55 73.92,271.74 83.64,267.89 93.36,265.96 103.08,264.52 112.8,263.08 122.52,260.67 132.24,258.99 141.96,257.3 151.68,254.42 161.4,251.53 171.12,250.66 180.84,249.8 190.56,248.93 200.28,248.12 210,247.33 219.72,246.54 229.44,245.76" fill="none" stroke="#e8e820" stroke-width="1.0"/>
<circle cx="35.04" cy="302.53" r="2" fill="#e8e820" stroke="#e8e820" stroke-width="0.8"/>
<circle cx="44.76" cy="285.21" r="2" fill="#e8e820" stroke="#e8e820" stroke-width="0.8"/>
<circle cx="54.48" cy="281.36" r="2" fill="#e8e820" stroke="#e8e820" stroke-width="0.8"/>
<circle cx="64.2" cy="276.55" r="2" fill="#e8e820" stroke="#e8e820" stroke-width="0.8"/>
<circle cx="73.92" cy="271.74" r="2" fill="#e8e820" stroke="#e8e820" stroke-width="0.8"/>
<circle cx="83.64" cy="267.89" r="2" fill="#e8e820" stroke="#e8e820" stroke-width="0.8"/>
<circle cx="93.36" cy="265.96" r="2" fill="#e8e820" stroke="#e8e820" stroke-width="0.8"/>
<circle cx="103.08" cy="264.52" r="2" fill="#e8e820" stroke="#e8e820" stroke-width="0.8"/>
<circle cx="112.8" cy="263.08" r="2" fill="#e8e820" stroke="#e8e820" stroke-width="0.8"/>
<circle cx="122.52" cy="260.67" r="2" fill="#e8e820" stroke="#e8e820" stroke-width="0.8"/>
<circle cx="132.24" cy="258.99" r="2" fill="#e8e820" stroke="#e8e820" stroke-width="0.8"/>
<circle cx="141.96" cy="257.3" r="2" fill="#e8e820" stroke="#e8e820" stroke-width="0.8"/>
<circle cx="151.68" cy="254.42" r="2" fill="#e8e820" stroke="#e8e820" stroke-width="0.8"/>
<circle cx="161.4" cy="251.53" r="2" fill="#e8e820" stroke="#e8e820" stroke-width="0.8"/>
<circle cx="171.12" cy="250.66" r="2" fill="#e8e820" stroke="#e8e820" stroke-width="0.8"/>
<circle cx="180.84" cy="249.8" r="2" fill="#e8e820" stroke="#e8e820" stroke-width="0.8"/>
<circle cx="190.56" cy="248.93" r="2" fill="#e8e820" stroke="#e8e820" stroke-width="0.8"/>
<circle cx="200.28" cy="248.12" r="2" fill="#e8e820" stroke="#e8e820" stroke-width="0.8"/>
<circle cx="210" cy="247.33" r="2" fill="#e8e820" stroke="#e8e820" stroke-width="0.8"/>
<circle cx="219.72" cy="246.54" r="2" fill="#e8e820" stroke="#e8e820" stroke-width="0.8"/>
<circle cx="229.44" cy="245.76" r="2" fill="#e8e820" stroke="#e8e820" stroke-width="0.8"/>
<polyline points="35.04,307.34 44.76,304.45 54.48,296.27 64.2,285.21 73.92,272.22 83.64,265.96 93.36,261.15 103.08,258.26 112.8,257.3 122.52,256.34 132.24,254.9 141.96,253.45 151.68,252.01 161.4,250.57 171.12,249.41 180.84,248.26 190.56,247.1 200.28,246.02 210,244.97 219.72,243.92 229.44,242.87" fill="none" stroke="#30d8e8" stroke-width="1.0"/>
<polygon points="35.04,304.54 35.78,306.32 37.7,306.47 36.24,307.73 36.69,309.6 35.04,308.6 33.39,309.6 33.84,307.73 32.38,306.47 34.3,306.32" fill="#30d8e8" stroke="#30d8e8" stroke-width="0.8"/>
<polygon points="44.76,301.65 45.5,303.43 47.42,303.59 45.96,304.84 46.41,306.72 44.76,305.71 43.11,306.72 43.56,304.84 42.1,303.59 44.02,303.43" fill="#30d8e8" stroke="#30d8e8" stroke-width="0.8"/>
<polygon points="54.48,293.47 55.22,295.25 57.14,295.41 55.68,296.66 56.13,298.54 54.48,297.53 52.83,298.54 53.28,296.66 51.82,295.41 53.74,295.25" fill="#30d8e8" stroke="#30d8e8" stroke-width="0.8"/>
<polygon points="64.2,282.41 64.94,284.19 66.86,284.34 65.4,285.6 65.85,287.47 64.2,286.47 62.55,287.47 63,285.6 61.54,284.34 63.46,284.19" fill="#30d8e8" stroke="#30d8e8" stroke-width="0.8"/>
<polygon points="73.92,269.42 74.66,271.2 76.58,271.35 75.12,272.61 75.57,274.48 73.92,273.48 72.27,274.48 72.72,272.61 71.26,271.35 73.18,271.2" fill="#30d8e8" stroke="#30d8e8" stroke-width="0.8"/>
<polygon points="83.64,263.16 84.38,264.94 86.3,265.1 84.84,266.35 85.29,268.23 83.64,267.22 81.99,268.23 82.44,266.35 80.98,265.1 82.9,264.94" fill="#30d8e8" stroke="#30d8e8" stroke-width="0.8"/>
<polygon points="93.36,258.35 94.1,260.13 96.02,260.29 94.56,261.54 95.01,263.42 93.36,262.41 91.71,263.42 92.16,261.54 90.7,260.29 92.62,260.13" fill="#30d8e8" stroke="#30d8e8" stroke-width="0.8"/>
<polygon points="103.08,255.46 103.82,257.25 105.74,257.4 104.28,258.65 104.73,260.53 103.08,259.52 101.43,260.53 101.88,258.65 100.42,257.4 102.34,257.25" fill="#30d8e8" stroke="#30d8e8" stroke-width="0.8"/>
<polygon points="112.8,254.5 113.54,256.28 115.46,256.44 114,257.69 114.45,259.57 112.8,258.56 111.15,259.57 111.6,257.69 110.14,256.44 112.06,256.28" fill="#30d8e8" stroke="#30d8e8" stroke-width="0.8"/>
<polygon points="122.52,253.54 123.26,255.32 125.18,255.47 123.72,256.73 124.17,258.61 122.52,257.6 120.87,258.61 121.32,256.73 119.86,255.47 121.78,255.32" fill="#30d8e8" stroke="#30d8e8" stroke-width="0.8"/>
<polygon points="132.24,252.1 132.98,253.88 134.9,254.03 133.44,255.29 133.89,257.16 132.24,256.16 130.59,257.16 131.04,255.29 129.58,254.03 131.5,253.88" fill="#30d8e8" stroke="#30d8e8" stroke-width="0.8"/>
<polygon points="141.96,250.65 142.7,252.43 144.62,252.59 143.16,253.84 143.61,255.72 141.96,254.71 140.31,255.72 140.76,253.84 139.3,252.59 141.22,252.43" fill="#30d8e8" stroke="#30d8e8" stroke-width="0.8"/>
<polygon points="151.68,249.21 152.42,250.99 154.34,251.14 152.88,252.4 153.33,254.28 151.68,253.27 150.03,254.28 150.48,252.4 149.02,251.14 150.94,250.99" fill="#30d8e8" stroke="#30d8e8" stroke-width="0.8"/>
<polygon points="161.4,247.77 162.14,249.55 164.06,249.7 162.6,250.96 163.05,252.83 161.4,251.83 159.75,252.83 160.2,250.96 158.74,249.7 160.66,249.55" fill="#30d8e8" stroke="#30d8e8" stroke-width="0.8"/>
<polygon points="171.12,246.61 171.86,248.39 173.78,248.55 172.32,249.8 172.77,251.68 171.12,250.67 169.47,251.68 169.92,249.8 168.46,248.55 170.38,248.39" fill="#30d8e8" stroke="#30d8e8" stroke-width="0.8"/>
<polygon points="180.84,245.46 181.58,247.24 183.5,247.39 182.04,248.65 182.49,250.52 180.84,249.52 179.19,250.52 179.64,248.65 178.18,247.39 180.1,247.24" fill="#30d8e8" stroke="#30d8e8" stroke-width="0.8"/>
<polygon points="190.56,244.3 191.3,246.08 193.22,246.24 191.76,247.49 192.21,249.37 190.56,248.36 188.91,249.37 189.36,247.49 187.9,246.24 189.82,246.08" fill="#30d8e8" stroke="#30d8e8" stroke-width="0.8"/>
<polygon points="200.28,243.22 201.02,245 202.94,245.15 201.48,246.41 201.93,248.28 200.28,247.28 198.63,248.28 199.08,246.41 197.62,245.15 199.54,245" fill="#30d8e8" stroke="#30d8e8" stroke-width="0.8"/>
<polygon points="210,242.17 210.74,243.95 212.66,244.1 211.2,245.36 211.65,247.23 210,246.23 208.35,247.23 208.8,245.36 207.34,244.1 209.26,243.95" fill="#30d8e8" stroke="#30d8e8" stroke-width="0.8"/>
<polygon points="219.72,241.12 220.46,242.9 222.38,243.05 220.92,244.31 221.37,246.18 219.72,245.18 218.07,246.18 218.52,244.31 217.06,243.05 218.98,242.9" fill="#30d8e8" stroke="#30d8e8" stroke-width="0.8"/>
<polygon points="229.44,240.07 230.18,241.85 232.1,242 230.64,243.26 231.09,245.13 229.44,244.13 227.79,245.13 228.24,243.26 226.78,242 228.7,241.85" fill="#30d8e8" stroke="#30d8e8" stroke-width="0.8"/>
<polyline points="35.04,302.53 44.76,285.21 54.48,281.36 64.2,277.51 73.92,273.18 83.64,268.37 93.36,264.52 103.08,260.19 112.8,255.38 122.52,250.57 132.24,247.2 141.96,243.83 151.68,240.94 161.4,239.98 171.12,239.12 180.84,238.25 190.56,237.38 200.28,236.66 210,236 219.72,235.35 229.44,234.69" fill="none" stroke="#40e040" stroke-width="1.0"/>
<polygon points="32.54,302.53 36.54,300.15 36.54,304.9" fill="white" stroke="#40e040" stroke-width="0.8"/>
<polygon points="42.26,285.21 46.26,282.83 46.26,287.58" fill="white" stroke="#40e040" stroke-width="0.8"/>
<polygon points="51.98,281.36 55.98,278.98 55.98,283.73" fill="white" stroke="#40e040" stroke-width="0.8"/>
<polygon points="61.7,277.51 65.7,275.13 65.7,279.88" fill="white" stroke="#40e040" stroke-width="0.8"/>
<polygon points="71.42,273.18 75.42,270.8 75.42,275.55" fill="white" stroke="#40e040" stroke-width="0.8"/>
<polygon points="81.14,268.37 85.14,265.99 85.14,270.74" fill="white" stroke="#40e040" stroke-width="0.8"/>
<polygon points="90.86,264.52 94.86,262.14 94.86,266.89" fill="white" stroke="#40e040" stroke-width="0.8"/>
<polygon points="100.58,260.19 104.58,257.81 104.58,262.56" fill="white" stroke="#40e040" stroke-width="0.8"/>
<polygon points="110.3,255.38 114.3,253 114.3,257.75" fill="white" stroke="#40e040" stroke-width="0.8"/>
<polygon points="120.02,250.57 124.02,248.19 124.02,252.94" fill="white" stroke="#40e040" stroke-width="0.8"/>
<polygon points="129.74,247.2 133.74,244.82 133.74,249.57" fill="white" stroke="#40e040" stroke-width="0.8"/>
<polygon points="139.46,243.83 143.46,241.46 143.46,246.21" fill="white" stroke="#40e040" stroke-width="0.8"/>
<polygon points="149.18,240.94 153.18,238.57 153.18,243.32" fill="white" stroke="#40e040" stroke-width="0.8"/>
<polygon points="158.9,239.98 162.9,237.61 162.9,242.36" fill="white" stroke="#40e040" stroke-width="0.8"/>
<polygon points="168.62,239.12 172.62,236.74 172.62,241.49" fill="white" stroke="#40e040" stroke-width="0.8"/>
<polygon points="178.34,238.25 182.34,235.88 182.34,240.63" fill="white" stroke="#40e040" stroke-width="0.8"/>
<polygon points="188.06,237.38 192.06,235.01 192.06,239.76" fill="white" stroke="#40e040" stroke-width="0.8"/>
<polygon points="197.78,236.66 201.78,234.28 201.78,239.03" fill="white" stroke="#40e040" stroke-width="0.8"/>
<polygon points="207.5,236 211.5,233.63 211.5,238.38" fill="white" stroke="#40e040" stroke-width="0.8"/>
<polygon points="217.22,235.35 221.22,232.97 221.22,237.72" fill="white" stroke="#40e040" stroke-width="0.8"/>
<polygon points="226.94,234.69 230.94,232.31 230.94,237.06" fill="white" stroke="#40e040" stroke-width="0.8"/>
<polyline points="35.04,302.05 44.76,284.24 54.48,278.47 64.2,273.66 73.92,268.85 83.64,264.04 93.36,260.19 103.08,256.82 112.8,252.97 122.52,249.6 132.24,247.2 141.96,244.79 151.68,242.87 161.4,240.94 171.12,239.79 180.84,238.64 190.56,237.48 200.28,236.48 210,235.56 219.72,234.65 229.44,233.73" fill="none" stroke="#8040a0" stroke-width="1.0"/>
<polygon points="35.04,304.55 37.41,300.55 32.66,300.55" fill="white" stroke="#8040a0" stroke-width="0.8"/>
<polygon points="44.76,286.74 47.13,282.74 42.38,282.74" fill="white" stroke="#8040a0" stroke-width="0.8"/>
<polygon points="54.48,280.97 56.86,276.97 52.11,276.97" fill="white" stroke="#8040a0" stroke-width="0.8"/>
<polygon points="64.2,276.16 66.58,272.16 61.83,272.16" fill="white" stroke="#8040a0" stroke-width="0.8"/>
<polygon points="73.92,271.35 76.3,267.35 71.55,267.35" fill="white" stroke="#8040a0" stroke-width="0.8"/>
<polygon points="83.64,266.54 86.02,262.54 81.27,262.54" fill="white" stroke="#8040a0" stroke-width="0.8"/>
<polygon points="93.36,262.69 95.73,258.69 90.98,258.69" fill="white" stroke="#8040a0" stroke-width="0.8"/>
<polygon points="103.08,259.32 105.45,255.32 100.7,255.32" fill="white" stroke="#8040a0" stroke-width="0.8"/>
<polygon points="112.8,255.47 115.17,251.47 110.42,251.47" fill="white" stroke="#8040a0" stroke-width="0.8"/>
<polygon points="122.52,252.1 124.89,248.1 120.14,248.1" fill="white" stroke="#8040a0" stroke-width="0.8"/>
<polygon points="132.24,249.7 134.62,245.7 129.87,245.7" fill="white" stroke="#8040a0" stroke-width="0.8"/>
<polygon points="141.96,247.29 144.34,243.29 139.59,243.29" fill="white" stroke="#8040a0" stroke-width="0.8"/>
<polygon points="151.68,245.37 154.06,241.37 149.31,241.37" fill="white" stroke="#8040a0" stroke-width="0.8"/>
<polygon points="161.4,243.44 163.78,239.44 159.03,239.44" fill="white" stroke="#8040a0" stroke-width="0.8"/>
<polygon points="171.12,242.29 173.5,238.29 168.75,238.29" fill="white" stroke="#8040a0" stroke-width="0.8"/>
<polygon points="180.84,241.14 183.22,237.14 178.47,237.14" fill="white" stroke="#8040a0" stroke-width="0.8"/>
<polygon points="190.56,239.98 192.94,235.98 188.19,235.98" fill="white" stroke="#8040a0" stroke-width="0.8"/>
<polygon points="200.28,238.98 202.66,234.98 197.91,234.98" fill="white" stroke="#8040a0" stroke-width="0.8"/>
<polygon points="210,238.06 212.38,234.06 207.62,234.06" fill="white" stroke="#8040a0" stroke-width="0.8"/>
<polygon points="219.72,237.15 222.09,233.15 217.34,233.15" fill="white" stroke="#8040a0" stroke-width="0.8"/>
<polygon points="229.44,236.23 231.81,232.23 227.06,232.23" fill="white" stroke="#8040a0" stroke-width="0.8"/>
<polyline points="35.04,302.05 44.76,283.28 54.48,276.07 64.2,272.22 73.92,267.41 83.64,262.11 93.36,258.26 103.08,255.38 112.8,250.09 122.52,247.2 132.24,244.31 141.96,239.02 151.68,237.1 161.4,237.58 171.12,236.86 180.84,236.13 190.56,235.41 200.28,234.91 210,234.52 219.72,234.12 229.44,233.73" fill="none" stroke="#c82838" stroke-width="1.0"/>
<polygon points="37.03,303.2 35.04,304.35 33.05,303.2 33.05,300.9 35.04,299.75 37.03,300.9" fill="#c82838" stroke="#c82838" stroke-width="0.8"/>
<polygon points="46.75,284.43 44.76,285.58 42.77,284.43 42.77,282.13 44.76,280.98 46.75,282.13" fill="#c82838" stroke="#c82838" stroke-width="0.8"/>
<polygon points="56.47,277.22 54.48,278.37 52.49,277.22 52.49,274.92 54.48,273.77 56.47,274.92" fill="#c82838" stroke="#c82838" stroke-width="0.8"/>
<polygon points="66.19,273.37 64.2,274.52 62.21,273.37 62.21,271.07 64.2,269.92 66.19,271.07" fill="#c82838" stroke="#c82838" stroke-width="0.8"/>
<polygon points="75.91,268.56 73.92,269.71 71.93,268.56 71.93,266.26 73.92,265.11 75.91,266.26" fill="#c82838" stroke="#c82838" stroke-width="0.8"/>
<polygon points="85.63,263.26 83.64,264.41 81.65,263.26 81.65,260.96 83.64,259.81 85.63,260.96" fill="#c82838" stroke="#c82838" stroke-width="0.8"/>
<polygon points="95.35,259.41 93.36,260.56 91.37,259.41 91.37,257.11 93.36,255.96 95.35,257.11" fill="#c82838" stroke="#c82838" stroke-width="0.8"/>
<polygon points="105.07,256.53 103.08,257.68 101.09,256.53 101.09,254.23 103.08,253.08 105.07,254.23" fill="#c82838" stroke="#c82838" stroke-width="0.8"/>
<polygon points="114.79,251.24 112.8,252.39 110.81,251.24 110.81,248.94 112.8,247.79 114.79,248.94" fill="#c82838" stroke="#c82838" stroke-width="0.8"/>
<polygon points="124.51,248.35 122.52,249.5 120.53,248.35 120.53,246.05 122.52,244.9 124.51,246.05" fill="#c82838" stroke="#c82838" stroke-width="0.8"/>
<polygon points="134.23,245.46 132.24,246.61 130.25,245.46 130.25,243.16 132.24,242.01 134.23,243.16" fill="#c82838" stroke="#c82838" stroke-width="0.8"/>
<polygon points="143.95,240.17 141.96,241.32 139.97,240.17 139.97,237.87 141.96,236.72 143.95,237.87" fill="#c82838" stroke="#c82838" stroke-width="0.8"/>
<polygon points="153.67,238.25 151.68,239.4 149.69,238.25 149.69,235.95 151.68,234.8 153.67,235.95" fill="#c82838" stroke="#c82838" stroke-width="0.8"/>
<polygon points="163.39,238.73 161.4,239.88 159.41,238.73 159.41,236.43 161.4,235.28 163.39,236.43" fill="#c82838" stroke="#c82838" stroke-width="0.8"/>
<polygon points="173.11,238.01 171.12,239.16 169.13,238.01 169.13,235.71 171.12,234.56 173.11,235.71" fill="#c82838" stroke="#c82838" stroke-width="0.8"/>
<polygon points="182.83,237.28 180.84,238.43 178.85,237.28 178.85,234.98 180.84,233.83 182.83,234.98" fill="#c82838" stroke="#c82838" stroke-width="0.8"/>
<polygon points="192.55,236.56 190.56,237.71 188.57,236.56 188.57,234.26 190.56,233.11 192.55,234.26" fill="#c82838" stroke="#c82838" stroke-width="0.8"/>
<polygon points="202.27,236.06 200.28,237.21 198.29,236.06 198.29,233.76 200.28,232.61 202.27,233.76" fill="#c82838" stroke="#c82838" stroke-width="0.8"/>
<polygon points="211.99,235.67 210,236.82 208.01,235.67 208.01,233.37 210,232.22 211.99,233.37" fill="#c82838" stroke="#c82838" stroke-width="0.8"/>
<polygon points="221.71,235.27 219.72,236.42 217.73,235.27 217.73,232.97 219.72,231.82 221.71,232.97" fill="#c82838" stroke="#c82838" stroke-width="0.8"/>
<polygon points="231.43,234.88 229.44,236.03 227.45,234.88 227.45,232.58 229.44,231.43 231.43,232.58" fill="#c82838" stroke="#c82838" stroke-width="0.8"/>
<polyline points="35.04,302.05 44.76,283.28 54.48,277.03 64.2,271.74 73.92,266.92 83.64,262.11 93.36,257.3 103.08,252.97 112.8,248.16 122.52,241.91 132.24,238.54 141.96,235.17 151.68,232.04 161.4,228.92 171.12,227.91 180.84,226.9 190.56,225.89 200.28,225.02 210,224.24 219.72,223.45 229.44,222.66" fill="none" stroke="#a03020" stroke-width="1.0"/>
<circle cx="35.04" cy="302.05" r="2" fill="white" stroke="#a03020" stroke-width="0.8"/>
<circle cx="44.76" cy="283.28" r="2" fill="white" stroke="#a03020" stroke-width="0.8"/>
<circle cx="54.48" cy="277.03" r="2" fill="white" stroke="#a03020" stroke-width="0.8"/>
<circle cx="64.2" cy="271.74" r="2" fill="white" stroke="#a03020" stroke-width="0.8"/>
<circle cx="73.92" cy="266.92" r="2" fill="white" stroke="#a03020" stroke-width="0.8"/>
<circle cx="83.64" cy="262.11" r="2" fill="white" stroke="#a03020" stroke-width="0.8"/>
<circle cx="93.36" cy="257.3" r="2" fill="white" stroke="#a03020" stroke-width="0.8"/>
<circle cx="103.08" cy="252.97" r="2" fill="white" stroke="#a03020" stroke-width="0.8"/>
<circle cx="112.8" cy="248.16" r="2" fill="white" stroke="#a03020" stroke-width="0.8"/>
<circle cx="122.52" cy="241.91" r="2" fill="white" stroke="#a03020" stroke-width="0.8"/>
<circle cx="132.24" cy="238.54" r="2" fill="white" stroke="#a03020" stroke-width="0.8"/>
<circle cx="141.96" cy="235.17" r="2" fill="white" stroke="#a03020" stroke-width="0.8"/>
<circle cx="151.68" cy="232.04" r="2" fill="white" stroke="#a03020" stroke-width="0.8"/>
<circle cx="161.4" cy="228.92" r="2" fill="white" stroke="#a03020" stroke-width="0.8"/>
<circle cx="171.12" cy="227.91" r="2" fill="white" stroke="#a03020" stroke-width="0.8"/>
<circle cx="180.84" cy="226.9" r="2" fill="white" stroke="#a03020" stroke-width="0.8"/>
<circle cx="190.56" cy="225.89" r="2" fill="white" stroke="#a03020" stroke-width="0.8"/>
<circle cx="200.28" cy="225.02" r="2" fill="white" stroke="#a03020" stroke-width="0.8"/>
<circle cx="210" cy="224.24" r="2" fill="white" stroke="#a03020" stroke-width="0.8"/>
<circle cx="219.72" cy="223.45" r="2" fill="white" stroke="#a03020" stroke-width="0.8"/>
<circle cx="229.44" cy="222.66" r="2" fill="white" stroke="#a03020" stroke-width="0.8"/>
<polyline points="35.04,301.56 44.76,278.47 54.48,269.33 64.2,263.08 73.92,258.75 83.64,254.9 93.36,250.57 103.08,247.68 112.8,245.27 122.52,240.94 132.24,238.54 141.96,236.61 151.68,235.17 161.4,233.73 171.12,232.86 180.84,232 190.56,231.13 200.28,230.14 210,229.09 219.72,228.04 229.44,226.99" fill="none" stroke="#e85a3a" stroke-width="1.0"/>
<polygon points="35.04,298.96 37.64,301.56 35.04,304.16 32.44,301.56" fill="#e85a3a" stroke="#e85a3a" stroke-width="0.8"/>
<polygon points="44.76,275.87 47.36,278.47 44.76,281.07 42.16,278.47" fill="#e85a3a" stroke="#e85a3a" stroke-width="0.8"/>
<polygon points="54.48,266.73 57.08,269.33 54.48,271.93 51.88,269.33" fill="#e85a3a" stroke="#e85a3a" stroke-width="0.8"/>
<polygon points="64.2,260.48 66.8,263.08 64.2,265.68 61.6,263.08" fill="#e85a3a" stroke="#e85a3a" stroke-width="0.8"/>
<polygon points="73.92,256.15 76.52,258.75 73.92,261.35 71.32,258.75" fill="#e85a3a" stroke="#e85a3a" stroke-width="0.8"/>
<polygon points="83.64,252.3 86.24,254.9 83.64,257.5 81.04,254.9" fill="#e85a3a" stroke="#e85a3a" stroke-width="0.8"/>
<polygon points="93.36,247.97 95.96,250.57 93.36,253.17 90.76,250.57" fill="#e85a3a" stroke="#e85a3a" stroke-width="0.8"/>
<polygon points="103.08,245.08 105.68,247.68 103.08,250.28 100.48,247.68" fill="#e85a3a" stroke="#e85a3a" stroke-width="0.8"/>
<polygon points="112.8,242.67 115.4,245.27 112.8,247.87 110.2,245.27" fill="#e85a3a" stroke="#e85a3a" stroke-width="0.8"/>
<polygon points="122.52,238.34 125.12,240.94 122.52,243.54 119.92,240.94" fill="#e85a3a" stroke="#e85a3a" stroke-width="0.8"/>
<polygon points="132.24,235.94 134.84,238.54 132.24,241.14 129.64,238.54" fill="#e85a3a" stroke="#e85a3a" stroke-width="0.8"/>
<polygon points="141.96,234.01 144.56,236.61 141.96,239.21 139.36,236.61" fill="#e85a3a" stroke="#e85a3a" stroke-width="0.8"/>
<polygon points="151.68,232.57 154.28,235.17 151.68,237.77 149.08,235.17" fill="#e85a3a" stroke="#e85a3a" stroke-width="0.8"/>
<polygon points="161.4,231.13 164,233.73 161.4,236.33 158.8,233.73" fill="#e85a3a" stroke="#e85a3a" stroke-width="0.8"/>
<polygon points="171.12,230.26 173.72,232.86 171.12,235.46 168.52,232.86" fill="#e85a3a" stroke="#e85a3a" stroke-width="0.8"/>
<polygon points="180.84,229.4 183.44,232 180.84,234.6 178.24,232" fill="#e85a3a" stroke="#e85a3a" stroke-width="0.8"/>
<polygon points="190.56,228.53 193.16,231.13 190.56,233.73 187.96,231.13" fill="#e85a3a" stroke="#e85a3a" stroke-width="0.8"/>
<polygon points="200.28,227.54 202.88,230.14 200.28,232.74 197.68,230.14" fill="#e85a3a" stroke="#e85a3a" stroke-width="0.8"/>
<polygon points="210,226.49 212.6,229.09 210,231.69 207.4,229.09" fill="#e85a3a" stroke="#e85a3a" stroke-width="0.8"/>
<polygon points="219.72,225.44 222.32,228.04 219.72,230.64 217.12,228.04" fill="#e85a3a" stroke="#e85a3a" stroke-width="0.8"/>
<polygon points="229.44,224.39 232.04,226.99 229.44,229.59 226.84,226.99" fill="#e85a3a" stroke="#e85a3a" stroke-width="0.8"/>
<line x1="38.3" y1="189.1" x2="50" y2="189.1" stroke="#000000" stroke-width="1.1"/>
<rect x="42.53" y="187.48" width="3.23" height="3.23" fill="#000000" stroke="#000000" stroke-width="0.8"/>
<text x="51.6" y="191.9" class="lg">no pretreatment</text>
<line x1="107.4" y1="189.1" x2="119" y2="189.1" stroke="#ee2222" stroke-width="1.1"/>
<circle cx="113.2" cy="189.1" r="1.9" fill="#ee2222" stroke="#ee2222" stroke-width="0.8"/>
<text x="120.6" y="191.9" class="lg">0.9MPa 5min</text>
<line x1="170" y1="189.1" x2="181.2" y2="189.1" stroke="#1a1ae6" stroke-width="1.1"/>
<polygon points="175.6,186.72 177.86,190.53 173.34,190.53" fill="#1a1ae6" stroke="#1a1ae6" stroke-width="0.8"/>
<text x="182.8" y="191.9" class="lg">0.9MPa 10min</text>
<line x1="38.3" y1="199.4" x2="50" y2="199.4" stroke="#8040a0" stroke-width="1.1"/>
<polygon points="44.15,201.78 46.41,197.97 41.89,197.97" fill="white" stroke="#8040a0" stroke-width="0.8"/>
<text x="51.6" y="202.2" class="lg">0.9MPa 15min</text>
<line x1="107.4" y1="199.4" x2="119" y2="199.4" stroke="#e8e820" stroke-width="1.1"/>
<circle cx="113.2" cy="199.4" r="1.9" fill="#e8e820" stroke="#e8e820" stroke-width="0.8"/>
<text x="120.6" y="202.2" class="lg">1.2MPa 5min</text>
<line x1="170" y1="199.4" x2="181.2" y2="199.4" stroke="#40e040" stroke-width="1.1"/>
<polygon points="173.22,199.4 177.03,197.14 177.03,201.66" fill="white" stroke="#40e040" stroke-width="0.8"/>
<text x="182.8" y="202.2" class="lg">1.2MPa 10min</text>
<line x1="38.3" y1="209.8" x2="50" y2="209.8" stroke="#e85a3a" stroke-width="1.1"/>
<polygon points="44.15,207.33 46.62,209.8 44.15,212.27 41.68,209.8" fill="#e85a3a" stroke="#e85a3a" stroke-width="0.8"/>
<text x="51.6" y="212.6" class="lg">1.2MPa 15min</text>
<line x1="107.4" y1="209.8" x2="119" y2="209.8" stroke="#a03020" stroke-width="1.1"/>
<circle cx="113.2" cy="209.8" r="1.9" fill="white" stroke="#a03020" stroke-width="0.8"/>
<text x="120.6" y="212.6" class="lg">1.5MPa 5min</text>
<line x1="170" y1="209.8" x2="181.2" y2="209.8" stroke="#c82838" stroke-width="1.1"/>
<polygon points="177.49,210.89 175.6,211.99 173.71,210.89 173.71,208.71 175.6,207.62 177.49,208.71" fill="#c82838" stroke="#c82838" stroke-width="0.8"/>
<text x="182.8" y="212.6" class="lg">1.5MPa 10min</text>
<line x1="38.3" y1="220" x2="50" y2="220" stroke="#30d8e8" stroke-width="1.1"/>
<polygon points="44.15,217.34 44.85,219.03 46.68,219.18 45.29,220.37 45.71,222.15 44.15,221.2 42.59,222.15 43.01,220.37 41.62,219.18 43.45,219.03" fill="#30d8e8" stroke="#30d8e8" stroke-width="0.8"/>
<text x="51.6" y="222.8" class="lg">1.5MPa 15min</text>
<text x="46" y="237.6" class="pl">c</text>
<polyline points="288.74,307.28 295.22,305.34 301.69,301.3 308.17,298.93 314.65,296.26 321.12,294.32 327.6,293.31 334.08,290.29 340.55,289.28 347.03,286.26 353.51,283.23 359.98,281.65 366.46,279.2 372.94,278.84 379.42,278.19 385.89,277.33 392.37,276.46 398.85,275.6 405.32,274.74 411.8,273.87 418.28,273.15 424.75,272.58 431.23,272 437.71,271.28 444.18,270.56 450.66,269.98 457.14,269.55 463.62,269.12 470.09,268.98 476.57,268.83 483.05,268.69" fill="none" stroke="#000000" stroke-width="1.0"/>
<path d="M334.08,289.48V291.1M332.58,289.48H335.58M332.58,291.1H335.58" stroke="#000000" stroke-width="0.9" fill="none"/>
<path d="M340.55,288.36V290.2M339.05,288.36H342.05M339.05,290.2H342.05" stroke="#000000" stroke-width="0.9" fill="none"/>
<path d="M347.03,285.23V287.28M345.53,285.23H348.53M345.53,287.28H348.53" stroke="#000000" stroke-width="0.9" fill="none"/>
<path d="M353.51,282.1V284.37M352.01,282.1H355.01M352.01,284.37H355.01" stroke="#000000" stroke-width="0.9" fill="none"/>
<path d="M359.98,280.41V282.89M358.48,280.41H361.48M358.48,282.89H361.48" stroke="#000000" stroke-width="0.9" fill="none"/>
<path d="M366.46,277.85V280.55M364.96,277.85H367.96M364.96,280.55H367.96" stroke="#000000" stroke-width="0.9" fill="none"/>
<path d="M372.94,277.38V280.3M371.44,277.38H374.44M371.44,280.3H374.44" stroke="#000000" stroke-width="0.9" fill="none"/>
<path d="M379.42,276.63V279.76M377.92,276.63H380.92M377.92,279.76H380.92" stroke="#000000" stroke-width="0.9" fill="none"/>
<path d="M385.89,275.65V279M384.39,275.65H387.39M384.39,279H387.39" stroke="#000000" stroke-width="0.9" fill="none"/>
<path d="M392.37,274.68V278.25M390.87,274.68H393.87M390.87,278.25H393.87" stroke="#000000" stroke-width="0.9" fill="none"/>
<path d="M398.85,273.71V277.49M397.35,273.71H400.35M397.35,277.49H400.35" stroke="#000000" stroke-width="0.9" fill="none"/>
<path d="M405.32,272.74V276.73M403.82,272.74H406.82M403.82,276.73H406.82" stroke="#000000" stroke-width="0.9" fill="none"/>
<path d="M411.8,271.77V275.98M410.3,271.77H413.3M410.3,275.98H413.3" stroke="#000000" stroke-width="0.9" fill="none"/>
<path d="M418.28,270.99V275.31M416.78,270.99H419.78M416.78,275.31H419.78" stroke="#000000" stroke-width="0.9" fill="none"/>
<path d="M424.75,270.42V274.74M423.25,270.42H426.25M423.25,274.74H426.25" stroke="#000000" stroke-width="0.9" fill="none"/>
<path d="M431.23,269.84V274.16M429.73,269.84H432.73M429.73,274.16H432.73" stroke="#000000" stroke-width="0.9" fill="none"/>
<path d="M437.71,269.12V273.44M436.21,269.12H439.21M436.21,273.44H439.21" stroke="#000000" stroke-width="0.9" fill="none"/>
<path d="M444.18,268.4V272.72M442.68,268.4H445.68M442.68,272.72H445.68" stroke="#000000" stroke-width="0.9" fill="none"/>
<path d="M450.66,267.82V272.14M449.16,267.82H452.16M449.16,272.14H452.16" stroke="#000000" stroke-width="0.9" fill="none"/>
<path d="M457.14,267.39V271.71M455.64,267.39H458.64M455.64,271.71H458.64" stroke="#000000" stroke-width="0.9" fill="none"/>
<path d="M463.62,266.96V271.28M462.12,266.96H465.12M462.12,271.28H465.12" stroke="#000000" stroke-width="0.9" fill="none"/>
<path d="M470.09,266.82V271.14M468.59,266.82H471.59M468.59,271.14H471.59" stroke="#000000" stroke-width="0.9" fill="none"/>
<path d="M476.57,266.67V270.99M475.07,266.67H478.07M475.07,270.99H478.07" stroke="#000000" stroke-width="0.9" fill="none"/>
<path d="M483.05,266.53V270.85M481.55,266.53H484.55M481.55,270.85H484.55" stroke="#000000" stroke-width="0.9" fill="none"/>
<rect x="286.94" y="305.48" width="3.6" height="3.6" fill="#000000" stroke="#000000" stroke-width="0.8"/>
<rect x="293.42" y="303.54" width="3.6" height="3.6" fill="#000000" stroke="#000000" stroke-width="0.8"/>
<rect x="299.89" y="299.5" width="3.6" height="3.6" fill="#000000" stroke="#000000" stroke-width="0.8"/>
<rect x="306.37" y="297.13" width="3.6" height="3.6" fill="#000000" stroke="#000000" stroke-width="0.8"/>
<rect x="312.85" y="294.46" width="3.6" height="3.6" fill="#000000" stroke="#000000" stroke-width="0.8"/>
<rect x="319.32" y="292.52" width="3.6" height="3.6" fill="#000000" stroke="#000000" stroke-width="0.8"/>
<rect x="325.8" y="291.51" width="3.6" height="3.6" fill="#000000" stroke="#000000" stroke-width="0.8"/>
<rect x="332.28" y="288.49" width="3.6" height="3.6" fill="#000000" stroke="#000000" stroke-width="0.8"/>
<rect x="338.75" y="287.48" width="3.6" height="3.6" fill="#000000" stroke="#000000" stroke-width="0.8"/>
<rect x="345.23" y="284.46" width="3.6" height="3.6" fill="#000000" stroke="#000000" stroke-width="0.8"/>
<rect x="351.71" y="281.43" width="3.6" height="3.6" fill="#000000" stroke="#000000" stroke-width="0.8"/>
<rect x="358.18" y="279.85" width="3.6" height="3.6" fill="#000000" stroke="#000000" stroke-width="0.8"/>
<rect x="364.66" y="277.4" width="3.6" height="3.6" fill="#000000" stroke="#000000" stroke-width="0.8"/>
<rect x="371.14" y="277.04" width="3.6" height="3.6" fill="#000000" stroke="#000000" stroke-width="0.8"/>
<rect x="377.62" y="276.39" width="3.6" height="3.6" fill="#000000" stroke="#000000" stroke-width="0.8"/>
<rect x="384.09" y="275.53" width="3.6" height="3.6" fill="#000000" stroke="#000000" stroke-width="0.8"/>
<rect x="390.57" y="274.66" width="3.6" height="3.6" fill="#000000" stroke="#000000" stroke-width="0.8"/>
<rect x="397.05" y="273.8" width="3.6" height="3.6" fill="#000000" stroke="#000000" stroke-width="0.8"/>
<rect x="403.52" y="272.94" width="3.6" height="3.6" fill="#000000" stroke="#000000" stroke-width="0.8"/>
<rect x="410" y="272.07" width="3.6" height="3.6" fill="#000000" stroke="#000000" stroke-width="0.8"/>
<rect x="416.48" y="271.35" width="3.6" height="3.6" fill="#000000" stroke="#000000" stroke-width="0.8"/>
<rect x="422.95" y="270.78" width="3.6" height="3.6" fill="#000000" stroke="#000000" stroke-width="0.8"/>
<rect x="429.43" y="270.2" width="3.6" height="3.6" fill="#000000" stroke="#000000" stroke-width="0.8"/>
<rect x="435.91" y="269.48" width="3.6" height="3.6" fill="#000000" stroke="#000000" stroke-width="0.8"/>
<rect x="442.38" y="268.76" width="3.6" height="3.6" fill="#000000" stroke="#000000" stroke-width="0.8"/>
<rect x="448.86" y="268.18" width="3.6" height="3.6" fill="#000000" stroke="#000000" stroke-width="0.8"/>
<rect x="455.34" y="267.75" width="3.6" height="3.6" fill="#000000" stroke="#000000" stroke-width="0.8"/>
<rect x="461.82" y="267.32" width="3.6" height="3.6" fill="#000000" stroke="#000000" stroke-width="0.8"/>
<rect x="468.29" y="267.18" width="3.6" height="3.6" fill="#000000" stroke="#000000" stroke-width="0.8"/>
<rect x="474.77" y="267.03" width="3.6" height="3.6" fill="#000000" stroke="#000000" stroke-width="0.8"/>
<rect x="481.25" y="266.89" width="3.6" height="3.6" fill="#000000" stroke="#000000" stroke-width="0.8"/>
<polyline points="288.74,307.28 295.22,304.4 301.69,295.76 308.17,288.56 314.65,280.64 321.12,274.88 327.6,270.2 334.08,266.96 340.55,264.08 347.03,261.92 353.51,260.19 359.98,258.32 366.46,256.16 372.94,254 379.42,252.13 385.89,251.07 392.37,250.02 398.85,248.96 405.32,248.1 411.8,247.23 418.28,246.37 424.75,245.5 431.23,244.64 437.71,243.49 444.18,242.34 450.66,241.33 457.14,240.46 463.62,239.6 470.09,238.64 476.57,237.68 483.05,236.72" fill="none" stroke="#1e8c1e" stroke-width="1.0"/>
<path d="M334.08,266.15V267.77M332.58,266.15H335.58M332.58,267.77H335.58" stroke="#1e8c1e" stroke-width="0.9" fill="none"/>
<path d="M340.55,263.16V265M339.05,263.16H342.05M339.05,265H342.05" stroke="#1e8c1e" stroke-width="0.9" fill="none"/>
<path d="M347.03,260.89V262.95M345.53,260.89H348.53M345.53,262.95H348.53" stroke="#1e8c1e" stroke-width="0.9" fill="none"/>
<path d="M353.51,259.06V261.33M352.01,259.06H355.01M352.01,261.33H355.01" stroke="#1e8c1e" stroke-width="0.9" fill="none"/>
<path d="M359.98,257.08V259.56M358.48,257.08H361.48M358.48,259.56H361.48" stroke="#1e8c1e" stroke-width="0.9" fill="none"/>
<path d="M366.46,254.81V257.51M364.96,254.81H367.96M364.96,257.51H367.96" stroke="#1e8c1e" stroke-width="0.9" fill="none"/>
<path d="M372.94,252.54V255.46M371.44,252.54H374.44M371.44,255.46H374.44" stroke="#1e8c1e" stroke-width="0.9" fill="none"/>
<path d="M379.42,250.56V253.69M377.92,250.56H380.92M377.92,253.69H380.92" stroke="#1e8c1e" stroke-width="0.9" fill="none"/>
<path d="M385.89,249.4V252.75M384.39,249.4H387.39M384.39,252.75H387.39" stroke="#1e8c1e" stroke-width="0.9" fill="none"/>
<path d="M392.37,248.23V251.8M390.87,248.23H393.87M390.87,251.8H393.87" stroke="#1e8c1e" stroke-width="0.9" fill="none"/>
<path d="M398.85,247.07V250.85M397.35,247.07H400.35M397.35,250.85H400.35" stroke="#1e8c1e" stroke-width="0.9" fill="none"/>
<path d="M405.32,246.1V250.09M403.82,246.1H406.82M403.82,250.09H406.82" stroke="#1e8c1e" stroke-width="0.9" fill="none"/>
<path d="M411.8,245.13V249.34M410.3,245.13H413.3M410.3,249.34H413.3" stroke="#1e8c1e" stroke-width="0.9" fill="none"/>
<path d="M418.28,244.21V248.53M416.78,244.21H419.78M416.78,248.53H419.78" stroke="#1e8c1e" stroke-width="0.9" fill="none"/>
<path d="M424.75,243.34V247.66M423.25,243.34H426.25M423.25,247.66H426.25" stroke="#1e8c1e" stroke-width="0.9" fill="none"/>
<path d="M431.23,242.48V246.8M429.73,242.48H432.73M429.73,246.8H432.73" stroke="#1e8c1e" stroke-width="0.9" fill="none"/>
<path d="M437.71,241.33V245.65M436.21,241.33H439.21M436.21,245.65H439.21" stroke="#1e8c1e" stroke-width="0.9" fill="none"/>
<path d="M444.18,240.18V244.5M442.68,240.18H445.68M442.68,244.5H445.68" stroke="#1e8c1e" stroke-width="0.9" fill="none"/>
<path d="M450.66,239.17V243.49M449.16,239.17H452.16M449.16,243.49H452.16" stroke="#1e8c1e" stroke-width="0.9" fill="none"/>
<path d="M457.14,238.3V242.62M455.64,238.3H458.64M455.64,242.62H458.64" stroke="#1e8c1e" stroke-width="0.9" fill="none"/>
<path d="M463.62,237.44V241.76M462.12,237.44H465.12M462.12,241.76H465.12" stroke="#1e8c1e" stroke-width="0.9" fill="none"/>
<path d="M470.09,236.48V240.8M468.59,236.48H471.59M468.59,240.8H471.59" stroke="#1e8c1e" stroke-width="0.9" fill="none"/>
<path d="M476.57,235.52V239.84M475.07,235.52H478.07M475.07,239.84H478.07" stroke="#1e8c1e" stroke-width="0.9" fill="none"/>
<path d="M483.05,234.56V238.88M481.55,234.56H484.55M481.55,238.88H484.55" stroke="#1e8c1e" stroke-width="0.9" fill="none"/>
<polygon points="286.49,307.28 290.09,305.14 290.09,309.42" fill="#1e8c1e" stroke="#1e8c1e" stroke-width="0.8"/>
<polygon points="292.97,304.4 296.57,302.26 296.57,306.54" fill="#1e8c1e" stroke="#1e8c1e" stroke-width="0.8"/>
<polygon points="299.44,295.76 303.04,293.62 303.04,297.9" fill="#1e8c1e" stroke="#1e8c1e" stroke-width="0.8"/>
<polygon points="305.92,288.56 309.52,286.42 309.52,290.7" fill="#1e8c1e" stroke="#1e8c1e" stroke-width="0.8"/>
<polygon points="312.4,280.64 316,278.5 316,282.78" fill="#1e8c1e" stroke="#1e8c1e" stroke-width="0.8"/>
<polygon points="318.87,274.88 322.47,272.74 322.47,277.02" fill="#1e8c1e" stroke="#1e8c1e" stroke-width="0.8"/>
<polygon points="325.35,270.2 328.95,268.06 328.95,272.34" fill="#1e8c1e" stroke="#1e8c1e" stroke-width="0.8"/>
<polygon points="331.83,266.96 335.43,264.82 335.43,269.1" fill="#1e8c1e" stroke="#1e8c1e" stroke-width="0.8"/>
<polygon points="338.3,264.08 341.9,261.94 341.9,266.22" fill="#1e8c1e" stroke="#1e8c1e" stroke-width="0.8"/>
<polygon points="344.78,261.92 348.38,259.78 348.38,264.06" fill="#1e8c1e" stroke="#1e8c1e" stroke-width="0.8"/>
<polygon points="351.26,260.19 354.86,258.05 354.86,262.33" fill="#1e8c1e" stroke="#1e8c1e" stroke-width="0.8"/>
<polygon points="357.73,258.32 361.33,256.18 361.33,260.46" fill="#1e8c1e" stroke="#1e8c1e" stroke-width="0.8"/>
<polygon points="364.21,256.16 367.81,254.02 367.81,258.3" fill="#1e8c1e" stroke="#1e8c1e" stroke-width="0.8"/>
<polygon points="370.69,254 374.29,251.86 374.29,256.14" fill="#1e8c1e" stroke="#1e8c1e" stroke-width="0.8"/>
<polygon points="377.17,252.13 380.77,249.99 380.77,254.27" fill="#1e8c1e" stroke="#1e8c1e" stroke-width="0.8"/>
<polygon points="383.64,251.07 387.24,248.93 387.24,253.21" fill="#1e8c1e" stroke="#1e8c1e" stroke-width="0.8"/>
<polygon points="390.12,250.02 393.72,247.88 393.72,252.15" fill="#1e8c1e" stroke="#1e8c1e" stroke-width="0.8"/>
<polygon points="396.6,248.96 400.2,246.82 400.2,251.1" fill="#1e8c1e" stroke="#1e8c1e" stroke-width="0.8"/>
<polygon points="403.07,248.1 406.67,245.96 406.67,250.23" fill="#1e8c1e" stroke="#1e8c1e" stroke-width="0.8"/>
<polygon points="409.55,247.23 413.15,245.09 413.15,249.37" fill="#1e8c1e" stroke="#1e8c1e" stroke-width="0.8"/>
<polygon points="416.03,246.37 419.63,244.23 419.63,248.51" fill="#1e8c1e" stroke="#1e8c1e" stroke-width="0.8"/>
<polygon points="422.5,245.5 426.1,243.37 426.1,247.64" fill="#1e8c1e" stroke="#1e8c1e" stroke-width="0.8"/>
<polygon points="428.98,244.64 432.58,242.5 432.58,246.78" fill="#1e8c1e" stroke="#1e8c1e" stroke-width="0.8"/>
<polygon points="435.46,243.49 439.06,241.35 439.06,245.63" fill="#1e8c1e" stroke="#1e8c1e" stroke-width="0.8"/>
<polygon points="441.93,242.34 445.53,240.2 445.53,244.47" fill="#1e8c1e" stroke="#1e8c1e" stroke-width="0.8"/>
<polygon points="448.41,241.33 452.01,239.19 452.01,243.47" fill="#1e8c1e" stroke="#1e8c1e" stroke-width="0.8"/>
<polygon points="454.89,240.46 458.49,238.33 458.49,242.6" fill="#1e8c1e" stroke="#1e8c1e" stroke-width="0.8"/>
<polygon points="461.37,239.6 464.97,237.46 464.97,241.74" fill="#1e8c1e" stroke="#1e8c1e" stroke-width="0.8"/>
<polygon points="467.84,238.64 471.44,236.5 471.44,240.78" fill="#1e8c1e" stroke="#1e8c1e" stroke-width="0.8"/>
<polygon points="474.32,237.68 477.92,235.54 477.92,239.82" fill="#1e8c1e" stroke="#1e8c1e" stroke-width="0.8"/>
<polygon points="480.8,236.72 484.4,234.58 484.4,238.86" fill="#1e8c1e" stroke="#1e8c1e" stroke-width="0.8"/>
<polyline points="288.74,307.28 295.22,304.42 301.69,295.32 308.17,287.8 314.65,278.99 321.12,272.9 327.6,266.46 334.08,262.37 340.55,260.37 347.03,257.43 353.51,255.42 359.98,252.42 366.46,249.41 372.94,247.12 379.42,244.46 385.89,242.96 392.37,241.46 398.85,239.95 405.32,238.52 411.8,237.09 418.28,235.51 424.75,233.79 431.23,232.07 437.71,230.93 444.18,229.78 450.66,228.63 457.14,227.49 463.62,226.34 470.09,225.39 476.57,224.43 483.05,223.48" fill="none" stroke="#7030a0" stroke-width="1.0"/>
<path d="M314.65,278.18V279.8M313.15,278.18H316.15M313.15,279.8H316.15" stroke="#7030a0" stroke-width="0.9" fill="none"/>
<path d="M321.12,271.91V273.89M319.62,271.91H322.62M319.62,273.89H322.62" stroke="#7030a0" stroke-width="0.9" fill="none"/>
<path d="M327.6,265.29V267.63M326.1,265.29H329.1M326.1,267.63H329.1" stroke="#7030a0" stroke-width="0.9" fill="none"/>
<path d="M334.08,261.02V263.72M332.58,261.02H335.58M332.58,263.72H335.58" stroke="#7030a0" stroke-width="0.9" fill="none"/>
<path d="M340.55,258.84V261.9M339.05,258.84H342.05M339.05,261.9H342.05" stroke="#7030a0" stroke-width="0.9" fill="none"/>
<path d="M347.03,255.72V259.14M345.53,255.72H348.53M345.53,259.14H348.53" stroke="#7030a0" stroke-width="0.9" fill="none"/>
<path d="M353.51,253.53V257.31M352.01,253.53H355.01M352.01,257.31H355.01" stroke="#7030a0" stroke-width="0.9" fill="none"/>
<path d="M359.98,250.35V254.49M358.48,250.35H361.48M358.48,254.49H361.48" stroke="#7030a0" stroke-width="0.9" fill="none"/>
<path d="M366.46,247.16V251.66M364.96,247.16H367.96M364.96,251.66H367.96" stroke="#7030a0" stroke-width="0.9" fill="none"/>
<path d="M372.94,244.69V249.55M371.44,244.69H374.44M371.44,249.55H374.44" stroke="#7030a0" stroke-width="0.9" fill="none"/>
<path d="M379.42,241.85V247.07M377.92,241.85H380.92M377.92,247.07H380.92" stroke="#7030a0" stroke-width="0.9" fill="none"/>
<path d="M385.89,240.17V245.75M384.39,240.17H387.39M384.39,245.75H387.39" stroke="#7030a0" stroke-width="0.9" fill="none"/>
<path d="M392.37,238.49V244.43M390.87,238.49H393.87M390.87,244.43H393.87" stroke="#7030a0" stroke-width="0.9" fill="none"/>
<path d="M398.85,236.8V243.1M397.35,236.8H400.35M397.35,243.1H400.35" stroke="#7030a0" stroke-width="0.9" fill="none"/>
<path d="M405.32,235.19V241.85M403.82,235.19H406.82M403.82,241.85H406.82" stroke="#7030a0" stroke-width="0.9" fill="none"/>
<path d="M411.8,233.58V240.6M410.3,233.58H413.3M410.3,240.6H413.3" stroke="#7030a0" stroke-width="0.9" fill="none"/>
<path d="M418.28,231.91V239.11M416.78,231.91H419.78M416.78,239.11H419.78" stroke="#7030a0" stroke-width="0.9" fill="none"/>
<path d="M424.75,230.19V237.39M423.25,230.19H426.25M423.25,237.39H426.25" stroke="#7030a0" stroke-width="0.9" fill="none"/>
<path d="M431.23,228.47V235.67M429.73,228.47H432.73M429.73,235.67H432.73" stroke="#7030a0" stroke-width="0.9" fill="none"/>
<path d="M437.71,227.33V234.53M436.21,227.33H439.21M436.21,234.53H439.21" stroke="#7030a0" stroke-width="0.9" fill="none"/>
<path d="M444.18,226.18V233.38M442.68,226.18H445.68M442.68,233.38H445.68" stroke="#7030a0" stroke-width="0.9" fill="none"/>
<path d="M450.66,225.03V232.23M449.16,225.03H452.16M449.16,232.23H452.16" stroke="#7030a0" stroke-width="0.9" fill="none"/>
<path d="M457.14,223.89V231.09M455.64,223.89H458.64M455.64,231.09H458.64" stroke="#7030a0" stroke-width="0.9" fill="none"/>
<path d="M463.62,222.74V229.94M462.12,222.74H465.12M462.12,229.94H465.12" stroke="#7030a0" stroke-width="0.9" fill="none"/>
<path d="M470.09,221.79V228.99M468.59,221.79H471.59M468.59,228.99H471.59" stroke="#7030a0" stroke-width="0.9" fill="none"/>
<path d="M476.57,220.83V228.03M475.07,220.83H478.07M475.07,228.03H478.07" stroke="#7030a0" stroke-width="0.9" fill="none"/>
<path d="M483.05,219.88V227.08M481.55,219.88H484.55M481.55,227.08H484.55" stroke="#7030a0" stroke-width="0.9" fill="none"/>
<rect x="287.24" y="305.78" width="3" height="3" fill="#7030a0" stroke="#7030a0" stroke-width="0.8"/>
<rect x="293.72" y="302.92" width="3" height="3" fill="#7030a0" stroke="#7030a0" stroke-width="0.8"/>
<rect x="300.19" y="293.82" width="3" height="3" fill="#7030a0" stroke="#7030a0" stroke-width="0.8"/>
<rect x="306.67" y="286.3" width="3" height="3" fill="#7030a0" stroke="#7030a0" stroke-width="0.8"/>
<rect x="313.15" y="277.49" width="3" height="3" fill="#7030a0" stroke="#7030a0" stroke-width="0.8"/>
<rect x="319.62" y="271.4" width="3" height="3" fill="#7030a0" stroke="#7030a0" stroke-width="0.8"/>
<rect x="326.1" y="264.96" width="3" height="3" fill="#7030a0" stroke="#7030a0" stroke-width="0.8"/>
<rect x="332.58" y="260.87" width="3" height="3" fill="#7030a0" stroke="#7030a0" stroke-width="0.8"/>
<rect x="339.05" y="258.87" width="3" height="3" fill="#7030a0" stroke="#7030a0" stroke-width="0.8"/>
<rect x="345.53" y="255.93" width="3" height="3" fill="#7030a0" stroke="#7030a0" stroke-width="0.8"/>
<rect x="352.01" y="253.92" width="3" height="3" fill="#7030a0" stroke="#7030a0" stroke-width="0.8"/>
<rect x="358.48" y="250.92" width="3" height="3" fill="#7030a0" stroke="#7030a0" stroke-width="0.8"/>
<rect x="364.96" y="247.91" width="3" height="3" fill="#7030a0" stroke="#7030a0" stroke-width="0.8"/>
<rect x="371.44" y="245.62" width="3" height="3" fill="#7030a0" stroke="#7030a0" stroke-width="0.8"/>
<rect x="377.92" y="242.96" width="3" height="3" fill="#7030a0" stroke="#7030a0" stroke-width="0.8"/>
<rect x="384.39" y="241.46" width="3" height="3" fill="#7030a0" stroke="#7030a0" stroke-width="0.8"/>
<rect x="390.87" y="239.96" width="3" height="3" fill="#7030a0" stroke="#7030a0" stroke-width="0.8"/>
<rect x="397.35" y="238.45" width="3" height="3" fill="#7030a0" stroke="#7030a0" stroke-width="0.8"/>
<rect x="403.82" y="237.02" width="3" height="3" fill="#7030a0" stroke="#7030a0" stroke-width="0.8"/>
<rect x="410.3" y="235.59" width="3" height="3" fill="#7030a0" stroke="#7030a0" stroke-width="0.8"/>
<rect x="416.78" y="234.01" width="3" height="3" fill="#7030a0" stroke="#7030a0" stroke-width="0.8"/>
<rect x="423.25" y="232.29" width="3" height="3" fill="#7030a0" stroke="#7030a0" stroke-width="0.8"/>
<rect x="429.73" y="230.57" width="3" height="3" fill="#7030a0" stroke="#7030a0" stroke-width="0.8"/>
<rect x="436.21" y="229.43" width="3" height="3" fill="#7030a0" stroke="#7030a0" stroke-width="0.8"/>
<rect x="442.68" y="228.28" width="3" height="3" fill="#7030a0" stroke="#7030a0" stroke-width="0.8"/>
<rect x="449.16" y="227.13" width="3" height="3" fill="#7030a0" stroke="#7030a0" stroke-width="0.8"/>
<rect x="455.64" y="225.99" width="3" height="3" fill="#7030a0" stroke="#7030a0" stroke-width="0.8"/>
<rect x="462.12" y="224.84" width="3" height="3" fill="#7030a0" stroke="#7030a0" stroke-width="0.8"/>
<rect x="468.59" y="223.89" width="3" height="3" fill="#7030a0" stroke="#7030a0" stroke-width="0.8"/>
<rect x="475.07" y="222.93" width="3" height="3" fill="#7030a0" stroke="#7030a0" stroke-width="0.8"/>
<rect x="481.55" y="221.98" width="3" height="3" fill="#7030a0" stroke="#7030a0" stroke-width="0.8"/>
<polyline points="288.74,307.27 295.22,304.33 301.69,295 308.17,287.29 314.65,278.26 321.12,272.01 327.6,265.4 334.08,261.22 340.55,259.16 347.03,256.15 353.51,254.1 359.98,251.01 366.46,247.93 372.94,245.58 379.42,242.86 385.89,241.32 392.37,239.77 398.85,238.23 405.32,236.76 411.8,235.29 418.28,233.68 424.75,231.92 431.23,230.15 437.71,228.98 444.18,227.8 450.66,226.63 457.14,225.45 463.62,224.28 470.09,223.3 476.57,222.32 483.05,221.34" fill="none" stroke="#1f1fd0" stroke-width="1.0"/>
<path d="M314.65,277.45V279.07M313.15,277.45H316.15M313.15,279.07H316.15" stroke="#1f1fd0" stroke-width="0.9" fill="none"/>
<path d="M321.12,271.02V273M319.62,271.02H322.62M319.62,273H322.62" stroke="#1f1fd0" stroke-width="0.9" fill="none"/>
<path d="M327.6,264.23V266.57M326.1,264.23H329.1M326.1,266.57H329.1" stroke="#1f1fd0" stroke-width="0.9" fill="none"/>
<path d="M334.08,259.87V262.57M332.58,259.87H335.58M332.58,262.57H335.58" stroke="#1f1fd0" stroke-width="0.9" fill="none"/>
<path d="M340.55,257.63V260.69M339.05,257.63H342.05M339.05,260.69H342.05" stroke="#1f1fd0" stroke-width="0.9" fill="none"/>
<path d="M347.03,254.44V257.86M345.53,254.44H348.53M345.53,257.86H348.53" stroke="#1f1fd0" stroke-width="0.9" fill="none"/>
<path d="M353.51,252.21V255.99M352.01,252.21H355.01M352.01,255.99H355.01" stroke="#1f1fd0" stroke-width="0.9" fill="none"/>
<path d="M359.98,248.94V253.08M358.48,248.94H361.48M358.48,253.08H361.48" stroke="#1f1fd0" stroke-width="0.9" fill="none"/>
<path d="M366.46,245.68V250.18M364.96,245.68H367.96M364.96,250.18H367.96" stroke="#1f1fd0" stroke-width="0.9" fill="none"/>
<path d="M372.94,243.15V248.01M371.44,243.15H374.44M371.44,248.01H374.44" stroke="#1f1fd0" stroke-width="0.9" fill="none"/>
<path d="M379.42,240.25V245.47M377.92,240.25H380.92M377.92,245.47H380.92" stroke="#1f1fd0" stroke-width="0.9" fill="none"/>
<path d="M385.89,238.53V244.11M384.39,238.53H387.39M384.39,244.11H387.39" stroke="#1f1fd0" stroke-width="0.9" fill="none"/>
<path d="M392.37,236.8V242.74M390.87,236.8H393.87M390.87,242.74H393.87" stroke="#1f1fd0" stroke-width="0.9" fill="none"/>
<path d="M398.85,235.08V241.38M397.35,235.08H400.35M397.35,241.38H400.35" stroke="#1f1fd0" stroke-width="0.9" fill="none"/>
<path d="M405.32,233.43V240.09M403.82,233.43H406.82M403.82,240.09H406.82" stroke="#1f1fd0" stroke-width="0.9" fill="none"/>
<path d="M411.8,231.78V238.8M410.3,231.78H413.3M410.3,238.8H413.3" stroke="#1f1fd0" stroke-width="0.9" fill="none"/>
<path d="M418.28,230.08V237.28M416.78,230.08H419.78M416.78,237.28H419.78" stroke="#1f1fd0" stroke-width="0.9" fill="none"/>
<path d="M424.75,228.32V235.52M423.25,228.32H426.25M423.25,235.52H426.25" stroke="#1f1fd0" stroke-width="0.9" fill="none"/>
<path d="M431.23,226.55V233.75M429.73,226.55H432.73M429.73,233.75H432.73" stroke="#1f1fd0" stroke-width="0.9" fill="none"/>
<path d="M437.71,225.38V232.58M436.21,225.38H439.21M436.21,232.58H439.21" stroke="#1f1fd0" stroke-width="0.9" fill="none"/>
<path d="M444.18,224.2V231.4M442.68,224.2H445.68M442.68,231.4H445.68" stroke="#1f1fd0" stroke-width="0.9" fill="none"/>
<path d="M450.66,223.03V230.23M449.16,223.03H452.16M449.16,230.23H452.16" stroke="#1f1fd0" stroke-width="0.9" fill="none"/>
<path d="M457.14,221.85V229.05M455.64,221.85H458.64M455.64,229.05H458.64" stroke="#1f1fd0" stroke-width="0.9" fill="none"/>
<path d="M463.62,220.68V227.88M462.12,220.68H465.12M462.12,227.88H465.12" stroke="#1f1fd0" stroke-width="0.9" fill="none"/>
<path d="M470.09,219.7V226.9M468.59,219.7H471.59M468.59,226.9H471.59" stroke="#1f1fd0" stroke-width="0.9" fill="none"/>
<path d="M476.57,218.72V225.92M475.07,218.72H478.07M475.07,225.92H478.07" stroke="#1f1fd0" stroke-width="0.9" fill="none"/>
<path d="M483.05,217.74V224.94M481.55,217.74H484.55M481.55,224.94H484.55" stroke="#1f1fd0" stroke-width="0.9" fill="none"/>
<polygon points="288.74,305.02 290.88,308.62 286.6,308.62" fill="white" stroke="#1f1fd0" stroke-width="0.8"/>
<polygon points="295.22,302.08 297.35,305.68 293.08,305.68" fill="white" stroke="#1f1fd0" stroke-width="0.8"/>
<polygon points="301.69,292.75 303.83,296.35 299.55,296.35" fill="white" stroke="#1f1fd0" stroke-width="0.8"/>
<polygon points="308.17,285.04 310.31,288.64 306.03,288.64" fill="white" stroke="#1f1fd0" stroke-width="0.8"/>
<polygon points="314.65,276.01 316.78,279.61 312.51,279.61" fill="white" stroke="#1f1fd0" stroke-width="0.8"/>
<polygon points="321.12,269.76 323.26,273.36 318.99,273.36" fill="white" stroke="#1f1fd0" stroke-width="0.8"/>
<polygon points="327.6,263.15 329.74,266.75 325.46,266.75" fill="white" stroke="#1f1fd0" stroke-width="0.8"/>
<polygon points="334.08,258.97 336.21,262.57 331.94,262.57" fill="white" stroke="#1f1fd0" stroke-width="0.8"/>
<polygon points="340.55,256.91 342.69,260.51 338.42,260.51" fill="white" stroke="#1f1fd0" stroke-width="0.8"/>
<polygon points="347.03,253.9 349.17,257.5 344.89,257.5" fill="white" stroke="#1f1fd0" stroke-width="0.8"/>
<polygon points="353.51,251.85 355.65,255.45 351.37,255.45" fill="white" stroke="#1f1fd0" stroke-width="0.8"/>
<polygon points="359.98,248.76 362.12,252.36 357.85,252.36" fill="white" stroke="#1f1fd0" stroke-width="0.8"/>
<polygon points="366.46,245.68 368.6,249.28 364.32,249.28" fill="white" stroke="#1f1fd0" stroke-width="0.8"/>
<polygon points="372.94,243.33 375.08,246.93 370.8,246.93" fill="white" stroke="#1f1fd0" stroke-width="0.8"/>
<polygon points="379.42,240.61 381.55,244.21 377.28,244.21" fill="white" stroke="#1f1fd0" stroke-width="0.8"/>
<polygon points="385.89,239.07 388.03,242.67 383.75,242.67" fill="white" stroke="#1f1fd0" stroke-width="0.8"/>
<polygon points="392.37,237.52 394.51,241.12 390.23,241.12" fill="white" stroke="#1f1fd0" stroke-width="0.8"/>
<polygon points="398.85,235.98 400.98,239.58 396.71,239.58" fill="white" stroke="#1f1fd0" stroke-width="0.8"/>
<polygon points="405.32,234.51 407.46,238.11 403.19,238.11" fill="white" stroke="#1f1fd0" stroke-width="0.8"/>
<polygon points="411.8,233.04 413.94,236.64 409.66,236.64" fill="white" stroke="#1f1fd0" stroke-width="0.8"/>
<polygon points="418.28,231.43 420.41,235.03 416.14,235.03" fill="white" stroke="#1f1fd0" stroke-width="0.8"/>
<polygon points="424.75,229.67 426.89,233.27 422.62,233.27" fill="white" stroke="#1f1fd0" stroke-width="0.8"/>
<polygon points="431.23,227.9 433.37,231.5 429.09,231.5" fill="white" stroke="#1f1fd0" stroke-width="0.8"/>
<polygon points="437.71,226.73 439.85,230.33 435.57,230.33" fill="white" stroke="#1f1fd0" stroke-width="0.8"/>
<polygon points="444.18,225.55 446.32,229.15 442.05,229.15" fill="white" stroke="#1f1fd0" stroke-width="0.8"/>
<polygon points="450.66,224.38 452.8,227.98 448.52,227.98" fill="white" stroke="#1f1fd0" stroke-width="0.8"/>
<polygon points="457.14,223.2 459.28,226.8 455,226.8" fill="white" stroke="#1f1fd0" stroke-width="0.8"/>
<polygon points="463.62,222.03 465.75,225.63 461.48,225.63" fill="white" stroke="#1f1fd0" stroke-width="0.8"/>
<polygon points="470.09,221.05 472.23,224.65 467.95,224.65" fill="white" stroke="#1f1fd0" stroke-width="0.8"/>
<polygon points="476.57,220.07 478.71,223.67 474.43,223.67" fill="white" stroke="#1f1fd0" stroke-width="0.8"/>
<polygon points="483.05,219.09 485.18,222.69 480.91,222.69" fill="white" stroke="#1f1fd0" stroke-width="0.8"/>
<polyline points="288.74,307.28 295.22,304.4 301.69,295.26 308.17,287.7 314.65,278.84 321.12,272.72 327.6,266.24 334.08,262.14 340.55,260.12 347.03,257.17 353.51,255.15 359.98,252.13 366.46,249.1 372.94,246.8 379.42,244.14 385.89,242.62 392.37,241.11 398.85,239.6 405.32,238.16 411.8,236.72 418.28,235.14 424.75,233.41 431.23,231.68 437.71,230.53 444.18,229.38 450.66,228.22 457.14,227.07 463.62,225.92 470.09,224.96 476.57,224 483.05,223.04" fill="none" stroke="#e86060" stroke-width="1.0"/>
<path d="M314.65,278.03V279.65M313.15,278.03H316.15M313.15,279.65H316.15" stroke="#e86060" stroke-width="0.9" fill="none"/>
<path d="M321.12,271.73V273.71M319.62,271.73H322.62M319.62,273.71H322.62" stroke="#e86060" stroke-width="0.9" fill="none"/>
<path d="M327.6,265.07V267.41M326.1,265.07H329.1M326.1,267.41H329.1" stroke="#e86060" stroke-width="0.9" fill="none"/>
<path d="M334.08,260.79V263.49M332.58,260.79H335.58M332.58,263.49H335.58" stroke="#e86060" stroke-width="0.9" fill="none"/>
<path d="M340.55,258.59V261.65M339.05,258.59H342.05M339.05,261.65H342.05" stroke="#e86060" stroke-width="0.9" fill="none"/>
<path d="M347.03,255.46V258.88M345.53,255.46H348.53M345.53,258.88H348.53" stroke="#e86060" stroke-width="0.9" fill="none"/>
<path d="M353.51,253.26V257.04M352.01,253.26H355.01M352.01,257.04H355.01" stroke="#e86060" stroke-width="0.9" fill="none"/>
<path d="M359.98,250.06V254.2M358.48,250.06H361.48M358.48,254.2H361.48" stroke="#e86060" stroke-width="0.9" fill="none"/>
<path d="M366.46,246.85V251.35M364.96,246.85H367.96M364.96,251.35H367.96" stroke="#e86060" stroke-width="0.9" fill="none"/>
<path d="M372.94,244.37V249.23M371.44,244.37H374.44M371.44,249.23H374.44" stroke="#e86060" stroke-width="0.9" fill="none"/>
<path d="M379.42,241.53V246.75M377.92,241.53H380.92M377.92,246.75H380.92" stroke="#e86060" stroke-width="0.9" fill="none"/>
<path d="M385.89,239.83V245.41M384.39,239.83H387.39M384.39,245.41H387.39" stroke="#e86060" stroke-width="0.9" fill="none"/>
<path d="M392.37,238.14V244.08M390.87,238.14H393.87M390.87,244.08H393.87" stroke="#e86060" stroke-width="0.9" fill="none"/>
<path d="M398.85,236.45V242.75M397.35,236.45H400.35M397.35,242.75H400.35" stroke="#e86060" stroke-width="0.9" fill="none"/>
<path d="M405.32,234.83V241.49M403.82,234.83H406.82M403.82,241.49H406.82" stroke="#e86060" stroke-width="0.9" fill="none"/>
<path d="M411.8,233.21V240.23M410.3,233.21H413.3M410.3,240.23H413.3" stroke="#e86060" stroke-width="0.9" fill="none"/>
<path d="M418.28,231.54V238.74M416.78,231.54H419.78M416.78,238.74H419.78" stroke="#e86060" stroke-width="0.9" fill="none"/>
<path d="M424.75,229.81V237.01M423.25,229.81H426.25M423.25,237.01H426.25" stroke="#e86060" stroke-width="0.9" fill="none"/>
<path d="M431.23,228.08V235.28M429.73,228.08H432.73M429.73,235.28H432.73" stroke="#e86060" stroke-width="0.9" fill="none"/>
<path d="M437.71,226.93V234.13M436.21,226.93H439.21M436.21,234.13H439.21" stroke="#e86060" stroke-width="0.9" fill="none"/>
<path d="M444.18,225.78V232.98M442.68,225.78H445.68M442.68,232.98H445.68" stroke="#e86060" stroke-width="0.9" fill="none"/>
<path d="M450.66,224.62V231.82M449.16,224.62H452.16M449.16,231.82H452.16" stroke="#e86060" stroke-width="0.9" fill="none"/>
<path d="M457.14,223.47V230.67M455.64,223.47H458.64M455.64,230.67H458.64" stroke="#e86060" stroke-width="0.9" fill="none"/>
<path d="M463.62,222.32V229.52M462.12,222.32H465.12M462.12,229.52H465.12" stroke="#e86060" stroke-width="0.9" fill="none"/>
<path d="M470.09,221.36V228.56M468.59,221.36H471.59M468.59,228.56H471.59" stroke="#e86060" stroke-width="0.9" fill="none"/>
<path d="M476.57,220.4V227.6M475.07,220.4H478.07M475.07,227.6H478.07" stroke="#e86060" stroke-width="0.9" fill="none"/>
<path d="M483.05,219.44V226.64M481.55,219.44H484.55M481.55,226.64H484.55" stroke="#e86060" stroke-width="0.9" fill="none"/>
<circle cx="288.74" cy="307.28" r="1.8" fill="white" stroke="#e86060" stroke-width="0.8"/>
<circle cx="295.22" cy="304.4" r="1.8" fill="white" stroke="#e86060" stroke-width="0.8"/>
<circle cx="301.69" cy="295.26" r="1.8" fill="white" stroke="#e86060" stroke-width="0.8"/>
<circle cx="308.17" cy="287.7" r="1.8" fill="white" stroke="#e86060" stroke-width="0.8"/>
<circle cx="314.65" cy="278.84" r="1.8" fill="white" stroke="#e86060" stroke-width="0.8"/>
<circle cx="321.12" cy="272.72" r="1.8" fill="white" stroke="#e86060" stroke-width="0.8"/>
<circle cx="327.6" cy="266.24" r="1.8" fill="white" stroke="#e86060" stroke-width="0.8"/>
<circle cx="334.08" cy="262.14" r="1.8" fill="white" stroke="#e86060" stroke-width="0.8"/>
<circle cx="340.55" cy="260.12" r="1.8" fill="white" stroke="#e86060" stroke-width="0.8"/>
<circle cx="347.03" cy="257.17" r="1.8" fill="white" stroke="#e86060" stroke-width="0.8"/>
<circle cx="353.51" cy="255.15" r="1.8" fill="white" stroke="#e86060" stroke-width="0.8"/>
<circle cx="359.98" cy="252.13" r="1.8" fill="white" stroke="#e86060" stroke-width="0.8"/>
<circle cx="366.46" cy="249.1" r="1.8" fill="white" stroke="#e86060" stroke-width="0.8"/>
<circle cx="372.94" cy="246.8" r="1.8" fill="white" stroke="#e86060" stroke-width="0.8"/>
<circle cx="379.42" cy="244.14" r="1.8" fill="white" stroke="#e86060" stroke-width="0.8"/>
<circle cx="385.89" cy="242.62" r="1.8" fill="white" stroke="#e86060" stroke-width="0.8"/>
<circle cx="392.37" cy="241.11" r="1.8" fill="white" stroke="#e86060" stroke-width="0.8"/>
<circle cx="398.85" cy="239.6" r="1.8" fill="white" stroke="#e86060" stroke-width="0.8"/>
<circle cx="405.32" cy="238.16" r="1.8" fill="white" stroke="#e86060" stroke-width="0.8"/>
<circle cx="411.8" cy="236.72" r="1.8" fill="white" stroke="#e86060" stroke-width="0.8"/>
<circle cx="418.28" cy="235.14" r="1.8" fill="white" stroke="#e86060" stroke-width="0.8"/>
<circle cx="424.75" cy="233.41" r="1.8" fill="white" stroke="#e86060" stroke-width="0.8"/>
<circle cx="431.23" cy="231.68" r="1.8" fill="white" stroke="#e86060" stroke-width="0.8"/>
<circle cx="437.71" cy="230.53" r="1.8" fill="white" stroke="#e86060" stroke-width="0.8"/>
<circle cx="444.18" cy="229.38" r="1.8" fill="white" stroke="#e86060" stroke-width="0.8"/>
<circle cx="450.66" cy="228.22" r="1.8" fill="white" stroke="#e86060" stroke-width="0.8"/>
<circle cx="457.14" cy="227.07" r="1.8" fill="white" stroke="#e86060" stroke-width="0.8"/>
<circle cx="463.62" cy="225.92" r="1.8" fill="white" stroke="#e86060" stroke-width="0.8"/>
<circle cx="470.09" cy="224.96" r="1.8" fill="white" stroke="#e86060" stroke-width="0.8"/>
<circle cx="476.57" cy="224" r="1.8" fill="white" stroke="#e86060" stroke-width="0.8"/>
<circle cx="483.05" cy="223.04" r="1.8" fill="white" stroke="#e86060" stroke-width="0.8"/>
<line x1="296" y1="189" x2="307.7" y2="189" stroke="#000000" stroke-width="1.1"/>
<rect x="300.24" y="187.38" width="3.23" height="3.23" fill="#000000" stroke="#000000" stroke-width="0.8"/>
<text x="309.3" y="191.8" class="lg">no pretreatment</text>
<line x1="296" y1="201.4" x2="307.7" y2="201.4" stroke="#e86060" stroke-width="1.1"/>
<circle cx="301.85" cy="201.4" r="1.9" fill="white" stroke="#e86060" stroke-width="0.8"/>
<text x="309.3" y="204.2" class="lg">1% Ca(OH)<tspan dy="2">2</tspan></text>
<line x1="296" y1="213.7" x2="307.7" y2="213.7" stroke="#1f1fd0" stroke-width="1.1"/>
<polygon points="301.85,211.32 304.11,215.12 299.59,215.12" fill="white" stroke="#1f1fd0" stroke-width="0.8"/>
<text x="309.3" y="216.5" class="lg">2% Ca(OH)<tspan dy="2">2</tspan></text>
<line x1="296" y1="226.1" x2="307.7" y2="226.1" stroke="#e86060" stroke-width="1.1"/>
<polygon points="301.85,228.47 304.11,224.67 299.59,224.67" fill="white" stroke="#e86060" stroke-width="0.8"/>
<text x="309.3" y="228.9" class="lg">3% Ca(OH)<tspan dy="2">2</tspan></text>
<line x1="296" y1="238.6" x2="307.7" y2="238.6" stroke="#1e8c1e" stroke-width="1.1"/>
<polygon points="299.48,238.6 303.28,236.34 303.28,240.86" fill="#1e8c1e" stroke="#1e8c1e" stroke-width="0.8"/>
<text x="309.3" y="241.4" class="lg">4% Ca(OH)<tspan dy="2">2</tspan></text>
<text x="417.8" y="197.9" class="pl">d</text>
<polyline points="35.04,480.76 41.52,478.32 48,475.89 54.48,473.88 60.96,472.26 67.44,470.69 73.92,469.28 80.4,467.88 86.88,466.69 93.36,465.87 99.84,464.25 106.32,462.36 112.8,460.19 119.28,459.22 125.76,458.57 132.24,458.03 138.72,457.49 145.2,456.94 151.68,456.4 158.16,455.86 164.64,455.32 171.12,454.78 177.6,454.24 184.08,453.8 190.56,453.37 197.04,452.99 203.52,452.67 210,452.34 216.48,452.2 222.96,452.05 229.44,451.91" fill="none" stroke="#000000" stroke-width="1.0"/>
<path d="M132.24,457.19V458.87M130.74,457.19H133.74M130.74,458.87H133.74" stroke="#000000" stroke-width="0.9" fill="none"/>
<path d="M138.72,456.59V458.38M137.22,456.59H140.22M137.22,458.38H140.22" stroke="#000000" stroke-width="0.9" fill="none"/>
<path d="M145.2,456V457.89M143.7,456H146.7M143.7,457.89H146.7" stroke="#000000" stroke-width="0.9" fill="none"/>
<path d="M151.68,455.4V457.4M150.18,455.4H153.18M150.18,457.4H153.18" stroke="#000000" stroke-width="0.9" fill="none"/>
<path d="M158.16,454.81V456.92M156.66,454.81H159.66M156.66,456.92H159.66" stroke="#000000" stroke-width="0.9" fill="none"/>
<path d="M164.64,454.24V456.4M163.14,454.24H166.14M163.14,456.4H166.14" stroke="#000000" stroke-width="0.9" fill="none"/>
<path d="M171.12,453.7V455.86M169.62,453.7H172.62M169.62,455.86H172.62" stroke="#000000" stroke-width="0.9" fill="none"/>
<path d="M177.6,453.16V455.32M176.1,453.16H179.1M176.1,455.32H179.1" stroke="#000000" stroke-width="0.9" fill="none"/>
<path d="M184.08,452.72V454.89M182.58,452.72H185.58M182.58,454.89H185.58" stroke="#000000" stroke-width="0.9" fill="none"/>
<path d="M190.56,452.29V454.45M189.06,452.29H192.06M189.06,454.45H192.06" stroke="#000000" stroke-width="0.9" fill="none"/>
<path d="M197.04,451.91V454.08M195.54,451.91H198.54M195.54,454.08H198.54" stroke="#000000" stroke-width="0.9" fill="none"/>
<path d="M203.52,451.59V453.75M202.02,451.59H205.02M202.02,453.75H205.02" stroke="#000000" stroke-width="0.9" fill="none"/>
<path d="M210,451.26V453.43M208.5,451.26H211.5M208.5,453.43H211.5" stroke="#000000" stroke-width="0.9" fill="none"/>
<path d="M216.48,451.12V453.28M214.98,451.12H217.98M214.98,453.28H217.98" stroke="#000000" stroke-width="0.9" fill="none"/>
<path d="M222.96,450.97V453.14M221.46,450.97H224.46M221.46,453.14H224.46" stroke="#000000" stroke-width="0.9" fill="none"/>
<path d="M229.44,450.83V452.99M227.94,450.83H230.94M227.94,452.99H230.94" stroke="#000000" stroke-width="0.9" fill="none"/>
<rect x="33.24" y="478.96" width="3.6" height="3.6" fill="#000000" stroke="#000000" stroke-width="0.8"/>
<rect x="39.72" y="476.52" width="3.6" height="3.6" fill="#000000" stroke="#000000" stroke-width="0.8"/>
<rect x="46.2" y="474.09" width="3.6" height="3.6" fill="#000000" stroke="#000000" stroke-width="0.8"/>
<rect x="52.68" y="472.08" width="3.6" height="3.6" fill="#000000" stroke="#000000" stroke-width="0.8"/>
<rect x="59.16" y="470.46" width="3.6" height="3.6" fill="#000000" stroke="#000000" stroke-width="0.8"/>
<rect x="65.64" y="468.89" width="3.6" height="3.6" fill="#000000" stroke="#000000" stroke-width="0.8"/>
<rect x="72.12" y="467.48" width="3.6" height="3.6" fill="#000000" stroke="#000000" stroke-width="0.8"/>
<rect x="78.6" y="466.08" width="3.6" height="3.6" fill="#000000" stroke="#000000" stroke-width="0.8"/>
<rect x="85.08" y="464.89" width="3.6" height="3.6" fill="#000000" stroke="#000000" stroke-width="0.8"/>
<rect x="91.56" y="464.07" width="3.6" height="3.6" fill="#000000" stroke="#000000" stroke-width="0.8"/>
<rect x="98.04" y="462.45" width="3.6" height="3.6" fill="#000000" stroke="#000000" stroke-width="0.8"/>
<rect x="104.52" y="460.56" width="3.6" height="3.6" fill="#000000" stroke="#000000" stroke-width="0.8"/>
<rect x="111" y="458.39" width="3.6" height="3.6" fill="#000000" stroke="#000000" stroke-width="0.8"/>
<rect x="117.48" y="457.42" width="3.6" height="3.6" fill="#000000" stroke="#000000" stroke-width="0.8"/>
<rect x="123.96" y="456.77" width="3.6" height="3.6" fill="#000000" stroke="#000000" stroke-width="0.8"/>
<rect x="130.44" y="456.23" width="3.6" height="3.6" fill="#000000" stroke="#000000" stroke-width="0.8"/>
<rect x="136.92" y="455.69" width="3.6" height="3.6" fill="#000000" stroke="#000000" stroke-width="0.8"/>
<rect x="143.4" y="455.14" width="3.6" height="3.6" fill="#000000" stroke="#000000" stroke-width="0.8"/>
<rect x="149.88" y="454.6" width="3.6" height="3.6" fill="#000000" stroke="#000000" stroke-width="0.8"/>
<rect x="156.36" y="454.06" width="3.6" height="3.6" fill="#000000" stroke="#000000" stroke-width="0.8"/>
<rect x="162.84" y="453.52" width="3.6" height="3.6" fill="#000000" stroke="#000000" stroke-width="0.8"/>
<rect x="169.32" y="452.98" width="3.6" height="3.6" fill="#000000" stroke="#000000" stroke-width="0.8"/>
<rect x="175.8" y="452.44" width="3.6" height="3.6" fill="#000000" stroke="#000000" stroke-width="0.8"/>
<rect x="182.28" y="452" width="3.6" height="3.6" fill="#000000" stroke="#000000" stroke-width="0.8"/>
<rect x="188.76" y="451.57" width="3.6" height="3.6" fill="#000000" stroke="#000000" stroke-width="0.8"/>
<rect x="195.24" y="451.19" width="3.6" height="3.6" fill="#000000" stroke="#000000" stroke-width="0.8"/>
<rect x="201.72" y="450.87" width="3.6" height="3.6" fill="#000000" stroke="#000000" stroke-width="0.8"/>
<rect x="208.2" y="450.54" width="3.6" height="3.6" fill="#000000" stroke="#000000" stroke-width="0.8"/>
<rect x="214.68" y="450.4" width="3.6" height="3.6" fill="#000000" stroke="#000000" stroke-width="0.8"/>
<rect x="221.16" y="450.25" width="3.6" height="3.6" fill="#000000" stroke="#000000" stroke-width="0.8"/>
<rect x="227.64" y="450.11" width="3.6" height="3.6" fill="#000000" stroke="#000000" stroke-width="0.8"/>
<polyline points="35.04,480.76 41.52,477.29 48,473.29 54.48,470.26 60.96,468.31 67.44,466.25 73.92,464.25 80.4,463.22 86.88,461.27 93.36,460.25 99.84,459.81 106.32,459.22 112.8,458.84 119.28,458.57 125.76,458.57 132.24,458.21 138.72,457.85 145.2,457.49 151.68,456.94 158.16,456.4 164.64,455.81 171.12,455.16 177.6,454.51 184.08,453.86 190.56,453.21 197.04,452.51 203.52,451.75 210,450.99 216.48,450.34 222.96,449.69 229.44,449.04" fill="none" stroke="#1e8c1e" stroke-width="1.0"/>
<path d="M132.24,457.37V459.05M130.74,457.37H133.74M130.74,459.05H133.74" stroke="#1e8c1e" stroke-width="0.9" fill="none"/>
<path d="M138.72,456.95V458.74M137.22,456.95H140.22M137.22,458.74H140.22" stroke="#1e8c1e" stroke-width="0.9" fill="none"/>
<path d="M145.2,456.54V458.43M143.7,456.54H146.7M143.7,458.43H146.7" stroke="#1e8c1e" stroke-width="0.9" fill="none"/>
<path d="M151.68,455.94V457.95M150.18,455.94H153.18M150.18,457.95H153.18" stroke="#1e8c1e" stroke-width="0.9" fill="none"/>
<path d="M158.16,455.35V457.46M156.66,455.35H159.66M156.66,457.46H159.66" stroke="#1e8c1e" stroke-width="0.9" fill="none"/>
<path d="M164.64,454.72V456.89M163.14,454.72H166.14M163.14,456.89H166.14" stroke="#1e8c1e" stroke-width="0.9" fill="none"/>
<path d="M171.12,454.08V456.24M169.62,454.08H172.62M169.62,456.24H172.62" stroke="#1e8c1e" stroke-width="0.9" fill="none"/>
<path d="M177.6,453.43V455.59M176.1,453.43H179.1M176.1,455.59H179.1" stroke="#1e8c1e" stroke-width="0.9" fill="none"/>
<path d="M184.08,452.78V454.94M182.58,452.78H185.58M182.58,454.94H185.58" stroke="#1e8c1e" stroke-width="0.9" fill="none"/>
<path d="M190.56,452.13V454.29M189.06,452.13H192.06M189.06,454.29H192.06" stroke="#1e8c1e" stroke-width="0.9" fill="none"/>
<path d="M197.04,451.42V453.59M195.54,451.42H198.54M195.54,453.59H198.54" stroke="#1e8c1e" stroke-width="0.9" fill="none"/>
<path d="M203.52,450.67V452.83M202.02,450.67H205.02M202.02,452.83H205.02" stroke="#1e8c1e" stroke-width="0.9" fill="none"/>
<path d="M210,449.91V452.07M208.5,449.91H211.5M208.5,452.07H211.5" stroke="#1e8c1e" stroke-width="0.9" fill="none"/>
<path d="M216.48,449.26V451.42M214.98,449.26H217.98M214.98,451.42H217.98" stroke="#1e8c1e" stroke-width="0.9" fill="none"/>
<path d="M222.96,448.61V450.77M221.46,448.61H224.46M221.46,450.77H224.46" stroke="#1e8c1e" stroke-width="0.9" fill="none"/>
<path d="M229.44,447.96V450.12M227.94,447.96H230.94M227.94,450.12H230.94" stroke="#1e8c1e" stroke-width="0.9" fill="none"/>
<polygon points="32.79,480.76 36.39,478.62 36.39,482.9" fill="white" stroke="#1e8c1e" stroke-width="0.8"/>
<polygon points="39.27,477.29 42.87,475.16 42.87,479.43" fill="white" stroke="#1e8c1e" stroke-width="0.8"/>
<polygon points="45.75,473.29 49.35,471.15 49.35,475.43" fill="white" stroke="#1e8c1e" stroke-width="0.8"/>
<polygon points="52.23,470.26 55.83,468.12 55.83,472.4" fill="white" stroke="#1e8c1e" stroke-width="0.8"/>
<polygon points="58.71,468.31 62.31,466.17 62.31,470.45" fill="white" stroke="#1e8c1e" stroke-width="0.8"/>
<polygon points="65.19,466.25 68.79,464.12 68.79,468.39" fill="white" stroke="#1e8c1e" stroke-width="0.8"/>
<polygon points="71.67,464.25 75.27,462.11 75.27,466.39" fill="white" stroke="#1e8c1e" stroke-width="0.8"/>
<polygon points="78.15,463.22 81.75,461.08 81.75,465.36" fill="white" stroke="#1e8c1e" stroke-width="0.8"/>
<polygon points="84.63,461.27 88.23,459.14 88.23,463.41" fill="white" stroke="#1e8c1e" stroke-width="0.8"/>
<polygon points="91.11,460.25 94.71,458.11 94.71,462.38" fill="white" stroke="#1e8c1e" stroke-width="0.8"/>
<polygon points="97.59,459.81 101.19,457.67 101.19,461.95" fill="white" stroke="#1e8c1e" stroke-width="0.8"/>
<polygon points="104.07,459.22 107.67,457.08 107.67,461.35" fill="white" stroke="#1e8c1e" stroke-width="0.8"/>
<polygon points="110.55,458.84 114.15,456.7 114.15,460.98" fill="white" stroke="#1e8c1e" stroke-width="0.8"/>
<polygon points="117.03,458.57 120.63,456.43 120.63,460.7" fill="white" stroke="#1e8c1e" stroke-width="0.8"/>
<polygon points="123.51,458.57 127.11,456.43 127.11,460.7" fill="white" stroke="#1e8c1e" stroke-width="0.8"/>
<polygon points="129.99,458.21 133.59,456.07 133.59,460.34" fill="white" stroke="#1e8c1e" stroke-width="0.8"/>
<polygon points="136.47,457.85 140.07,455.71 140.07,459.98" fill="white" stroke="#1e8c1e" stroke-width="0.8"/>
<polygon points="142.95,457.49 146.55,455.35 146.55,459.62" fill="white" stroke="#1e8c1e" stroke-width="0.8"/>
<polygon points="149.43,456.94 153.03,454.81 153.03,459.08" fill="white" stroke="#1e8c1e" stroke-width="0.8"/>
<polygon points="155.91,456.4 159.51,454.27 159.51,458.54" fill="white" stroke="#1e8c1e" stroke-width="0.8"/>
<polygon points="162.39,455.81 165.99,453.67 165.99,457.94" fill="white" stroke="#1e8c1e" stroke-width="0.8"/>
<polygon points="168.87,455.16 172.47,453.02 172.47,457.3" fill="white" stroke="#1e8c1e" stroke-width="0.8"/>
<polygon points="175.35,454.51 178.95,452.37 178.95,456.65" fill="white" stroke="#1e8c1e" stroke-width="0.8"/>
<polygon points="181.83,453.86 185.43,451.72 185.43,456" fill="white" stroke="#1e8c1e" stroke-width="0.8"/>
<polygon points="188.31,453.21 191.91,451.07 191.91,455.35" fill="white" stroke="#1e8c1e" stroke-width="0.8"/>
<polygon points="194.79,452.51 198.39,450.37 198.39,454.64" fill="white" stroke="#1e8c1e" stroke-width="0.8"/>
<polygon points="201.27,451.75 204.87,449.61 204.87,453.89" fill="white" stroke="#1e8c1e" stroke-width="0.8"/>
<polygon points="207.75,450.99 211.35,448.85 211.35,453.13" fill="white" stroke="#1e8c1e" stroke-width="0.8"/>
<polygon points="214.23,450.34 217.83,448.2 217.83,452.48" fill="white" stroke="#1e8c1e" stroke-width="0.8"/>
<polygon points="220.71,449.69 224.31,447.55 224.31,451.83" fill="white" stroke="#1e8c1e" stroke-width="0.8"/>
<polygon points="227.19,449.04 230.79,446.9 230.79,451.18" fill="white" stroke="#1e8c1e" stroke-width="0.8"/>
<polyline points="35.04,480.76 41.52,474.81 48,468.85 54.48,461.27 60.96,454.24 67.44,450.99 73.92,448.28 80.4,446.39 86.88,444.77 93.36,442.87 99.84,440.71 106.32,438.54 112.8,436.92 119.28,435.83 125.76,434.59 132.24,433.56 138.72,432.53 145.2,431.5 151.68,430.42 158.16,429.34 164.64,428.21 171.12,427.05 177.6,425.88 184.08,425.1 190.56,424.32 197.04,423.6 203.52,422.95 210,422.3 216.48,421.76 222.96,421.22 229.44,420.68" fill="none" stroke="#e8312f" stroke-width="1.0"/>
<path d="M80.4,445.58V447.2M78.9,445.58H81.9M78.9,447.2H81.9" stroke="#e8312f" stroke-width="0.9" fill="none"/>
<path d="M86.88,443.85V445.69M85.38,443.85H88.38M85.38,445.69H88.38" stroke="#e8312f" stroke-width="0.9" fill="none"/>
<path d="M93.36,441.84V443.9M91.86,441.84H94.86M91.86,443.9H94.86" stroke="#e8312f" stroke-width="0.9" fill="none"/>
<path d="M99.84,439.57V441.84M98.34,439.57H101.34M98.34,441.84H101.34" stroke="#e8312f" stroke-width="0.9" fill="none"/>
<path d="M106.32,437.3V439.79M104.82,437.3H107.82M104.82,439.79H107.82" stroke="#e8312f" stroke-width="0.9" fill="none"/>
<path d="M112.8,435.56V438.27M111.3,435.56H114.3M111.3,438.27H114.3" stroke="#e8312f" stroke-width="0.9" fill="none"/>
<path d="M119.28,434.37V437.3M117.78,434.37H120.78M117.78,437.3H120.78" stroke="#e8312f" stroke-width="0.9" fill="none"/>
<path d="M125.76,433.02V436.16M124.26,433.02H127.26M124.26,436.16H127.26" stroke="#e8312f" stroke-width="0.9" fill="none"/>
<path d="M132.24,431.88V435.24M130.74,431.88H133.74M130.74,435.24H133.74" stroke="#e8312f" stroke-width="0.9" fill="none"/>
<path d="M138.72,430.75V434.32M137.22,430.75H140.22M137.22,434.32H140.22" stroke="#e8312f" stroke-width="0.9" fill="none"/>
<path d="M145.2,429.61V433.4M143.7,429.61H146.7M143.7,433.4H146.7" stroke="#e8312f" stroke-width="0.9" fill="none"/>
<path d="M151.68,428.42V432.43M150.18,428.42H153.18M150.18,432.43H153.18" stroke="#e8312f" stroke-width="0.9" fill="none"/>
<path d="M158.16,427.23V431.45M156.66,427.23H159.66M156.66,431.45H159.66" stroke="#e8312f" stroke-width="0.9" fill="none"/>
<path d="M164.64,426.05V430.38M163.14,426.05H166.14M163.14,430.38H166.14" stroke="#e8312f" stroke-width="0.9" fill="none"/>
<path d="M171.12,424.88V429.21M169.62,424.88H172.62M169.62,429.21H172.62" stroke="#e8312f" stroke-width="0.9" fill="none"/>
<path d="M177.6,423.71V428.04M176.1,423.71H179.1M176.1,428.04H179.1" stroke="#e8312f" stroke-width="0.9" fill="none"/>
<path d="M184.08,422.93V427.26M182.58,422.93H185.58M182.58,427.26H185.58" stroke="#e8312f" stroke-width="0.9" fill="none"/>
<path d="M190.56,422.15V426.48M189.06,422.15H192.06M189.06,426.48H192.06" stroke="#e8312f" stroke-width="0.9" fill="none"/>
<path d="M197.04,421.44V425.77M195.54,421.44H198.54M195.54,425.77H198.54" stroke="#e8312f" stroke-width="0.9" fill="none"/>
<path d="M203.52,420.79V425.12M202.02,420.79H205.02M202.02,425.12H205.02" stroke="#e8312f" stroke-width="0.9" fill="none"/>
<path d="M210,420.14V424.47M208.5,420.14H211.5M208.5,424.47H211.5" stroke="#e8312f" stroke-width="0.9" fill="none"/>
<path d="M216.48,419.6V423.93M214.98,419.6H217.98M214.98,423.93H217.98" stroke="#e8312f" stroke-width="0.9" fill="none"/>
<path d="M222.96,419.06V423.39M221.46,419.06H224.46M221.46,423.39H224.46" stroke="#e8312f" stroke-width="0.9" fill="none"/>
<path d="M229.44,418.51V422.85M227.94,418.51H230.94M227.94,422.85H230.94" stroke="#e8312f" stroke-width="0.9" fill="none"/>
<polygon points="35.04,483.01 37.18,479.41 32.9,479.41" fill="#e8312f" stroke="#e8312f" stroke-width="0.8"/>
<polygon points="41.52,477.06 43.66,473.45 39.38,473.45" fill="#e8312f" stroke="#e8312f" stroke-width="0.8"/>
<polygon points="48,471.1 50.14,467.5 45.86,467.5" fill="#e8312f" stroke="#e8312f" stroke-width="0.8"/>
<polygon points="54.48,463.52 56.62,459.92 52.34,459.92" fill="#e8312f" stroke="#e8312f" stroke-width="0.8"/>
<polygon points="60.96,456.49 63.1,452.89 58.82,452.89" fill="#e8312f" stroke="#e8312f" stroke-width="0.8"/>
<polygon points="67.44,453.24 69.58,449.64 65.3,449.64" fill="#e8312f" stroke="#e8312f" stroke-width="0.8"/>
<polygon points="73.92,450.53 76.06,446.93 71.78,446.93" fill="#e8312f" stroke="#e8312f" stroke-width="0.8"/>
<polygon points="80.4,448.64 82.54,445.04 78.26,445.04" fill="#e8312f" stroke="#e8312f" stroke-width="0.8"/>
<polygon points="86.88,447.02 89.02,443.42 84.74,443.42" fill="#e8312f" stroke="#e8312f" stroke-width="0.8"/>
<polygon points="93.36,445.12 95.5,441.52 91.22,441.52" fill="#e8312f" stroke="#e8312f" stroke-width="0.8"/>
<polygon points="99.84,442.96 101.98,439.36 97.7,439.36" fill="#e8312f" stroke="#e8312f" stroke-width="0.8"/>
<polygon points="106.32,440.79 108.46,437.19 104.18,437.19" fill="#e8312f" stroke="#e8312f" stroke-width="0.8"/>
<polygon points="112.8,439.17 114.94,435.57 110.66,435.57" fill="#e8312f" stroke="#e8312f" stroke-width="0.8"/>
<polygon points="119.28,438.08 121.42,434.48 117.14,434.48" fill="#e8312f" stroke="#e8312f" stroke-width="0.8"/>
<polygon points="125.76,436.84 127.9,433.24 123.62,433.24" fill="#e8312f" stroke="#e8312f" stroke-width="0.8"/>
<polygon points="132.24,435.81 134.38,432.21 130.1,432.21" fill="#e8312f" stroke="#e8312f" stroke-width="0.8"/>
<polygon points="138.72,434.78 140.86,431.18 136.58,431.18" fill="#e8312f" stroke="#e8312f" stroke-width="0.8"/>
<polygon points="145.2,433.75 147.34,430.15 143.06,430.15" fill="#e8312f" stroke="#e8312f" stroke-width="0.8"/>
<polygon points="151.68,432.67 153.82,429.07 149.54,429.07" fill="#e8312f" stroke="#e8312f" stroke-width="0.8"/>
<polygon points="158.16,431.59 160.3,427.99 156.02,427.99" fill="#e8312f" stroke="#e8312f" stroke-width="0.8"/>
<polygon points="164.64,430.46 166.78,426.86 162.5,426.86" fill="#e8312f" stroke="#e8312f" stroke-width="0.8"/>
<polygon points="171.12,429.3 173.26,425.7 168.98,425.7" fill="#e8312f" stroke="#e8312f" stroke-width="0.8"/>
<polygon points="177.6,428.13 179.74,424.53 175.46,424.53" fill="#e8312f" stroke="#e8312f" stroke-width="0.8"/>
<polygon points="184.08,427.35 186.22,423.75 181.94,423.75" fill="#e8312f" stroke="#e8312f" stroke-width="0.8"/>
<polygon points="190.56,426.57 192.7,422.97 188.42,422.97" fill="#e8312f" stroke="#e8312f" stroke-width="0.8"/>
<polygon points="197.04,425.85 199.18,422.25 194.9,422.25" fill="#e8312f" stroke="#e8312f" stroke-width="0.8"/>
<polygon points="203.52,425.2 205.66,421.6 201.38,421.6" fill="#e8312f" stroke="#e8312f" stroke-width="0.8"/>
<polygon points="210,424.55 212.14,420.95 207.86,420.95" fill="#e8312f" stroke="#e8312f" stroke-width="0.8"/>
<polygon points="216.48,424.01 218.62,420.41 214.34,420.41" fill="#e8312f" stroke="#e8312f" stroke-width="0.8"/>
<polygon points="222.96,423.47 225.1,419.87 220.82,419.87" fill="#e8312f" stroke="#e8312f" stroke-width="0.8"/>
<polygon points="229.44,422.93 231.58,419.33 227.3,419.33" fill="#e8312f" stroke="#e8312f" stroke-width="0.8"/>
<polyline points="35.04,480.76 41.52,474.7 48,468.31 54.48,460.19 60.96,453.16 67.44,450.18 73.92,447.74 80.4,445.58 86.88,443.41 93.36,441.25 99.84,438.54 106.32,435.83 112.8,433.67 119.28,431.5 125.76,428.8 132.24,427.18 138.72,425.55 145.2,423.93 151.68,422.2 158.16,420.46 164.64,418.73 171.12,417 177.6,415.27 184.08,413.97 190.56,412.67 197.04,411.37 203.52,410.07 210,408.77 216.48,407.69 222.96,406.61 229.44,405.52" fill="none" stroke="#e86060" stroke-width="1.0"/>
<path d="M73.92,446.86V448.62M72.42,446.86H75.42M72.42,448.62H75.42" stroke="#e86060" stroke-width="0.9" fill="none"/>
<path d="M80.4,444.56V446.59M78.9,444.56H81.9M78.9,446.59H81.9" stroke="#e86060" stroke-width="0.9" fill="none"/>
<path d="M86.88,442.26V444.56M85.38,442.26H88.38M85.38,444.56H88.38" stroke="#e86060" stroke-width="0.9" fill="none"/>
<path d="M93.36,439.96V442.53M91.86,439.96H94.86M91.86,442.53H94.86" stroke="#e86060" stroke-width="0.9" fill="none"/>
<path d="M99.84,437.12V439.96M98.34,437.12H101.34M98.34,439.96H101.34" stroke="#e86060" stroke-width="0.9" fill="none"/>
<path d="M106.32,434.28V437.39M104.82,434.28H107.82M104.82,437.39H107.82" stroke="#e86060" stroke-width="0.9" fill="none"/>
<path d="M112.8,431.98V435.36M111.3,431.98H114.3M111.3,435.36H114.3" stroke="#e86060" stroke-width="0.9" fill="none"/>
<path d="M119.28,429.68V433.33M117.78,429.68H120.78M117.78,433.33H120.78" stroke="#e86060" stroke-width="0.9" fill="none"/>
<path d="M125.76,426.84V430.76M124.26,426.84H127.26M124.26,430.76H127.26" stroke="#e86060" stroke-width="0.9" fill="none"/>
<path d="M132.24,425.08V429.27M130.74,425.08H133.74M130.74,429.27H133.74" stroke="#e86060" stroke-width="0.9" fill="none"/>
<path d="M138.72,423.32V427.78M137.22,423.32H140.22M137.22,427.78H140.22" stroke="#e86060" stroke-width="0.9" fill="none"/>
<path d="M145.2,421.56V426.3M143.7,421.56H146.7M143.7,426.3H146.7" stroke="#e86060" stroke-width="0.9" fill="none"/>
<path d="M151.68,419.69V424.7M150.18,419.69H153.18M150.18,424.7H153.18" stroke="#e86060" stroke-width="0.9" fill="none"/>
<path d="M158.16,417.82V423.1M156.66,417.82H159.66M156.66,423.1H159.66" stroke="#e86060" stroke-width="0.9" fill="none"/>
<path d="M164.64,416.03V421.44M163.14,416.03H166.14M163.14,421.44H166.14" stroke="#e86060" stroke-width="0.9" fill="none"/>
<path d="M171.12,414.29V419.71M169.62,414.29H172.62M169.62,419.71H172.62" stroke="#e86060" stroke-width="0.9" fill="none"/>
<path d="M177.6,412.56V417.97M176.1,412.56H179.1M176.1,417.97H179.1" stroke="#e86060" stroke-width="0.9" fill="none"/>
<path d="M184.08,411.26V416.67M182.58,411.26H185.58M182.58,416.67H185.58" stroke="#e86060" stroke-width="0.9" fill="none"/>
<path d="M190.56,409.96V415.38M189.06,409.96H192.06M189.06,415.38H192.06" stroke="#e86060" stroke-width="0.9" fill="none"/>
<path d="M197.04,408.66V414.08M195.54,408.66H198.54M195.54,414.08H198.54" stroke="#e86060" stroke-width="0.9" fill="none"/>
<path d="M203.52,407.37V412.78M202.02,407.37H205.02M202.02,412.78H205.02" stroke="#e86060" stroke-width="0.9" fill="none"/>
<path d="M210,406.07V411.48M208.5,406.07H211.5M208.5,411.48H211.5" stroke="#e86060" stroke-width="0.9" fill="none"/>
<path d="M216.48,404.98V410.4M214.98,404.98H217.98M214.98,410.4H217.98" stroke="#e86060" stroke-width="0.9" fill="none"/>
<path d="M222.96,403.9V409.31M221.46,403.9H224.46M221.46,409.31H224.46" stroke="#e86060" stroke-width="0.9" fill="none"/>
<path d="M229.44,402.82V408.23M227.94,402.82H230.94M227.94,408.23H230.94" stroke="#e86060" stroke-width="0.9" fill="none"/>
<circle cx="35.04" cy="480.76" r="1.8" fill="white" stroke="#e86060" stroke-width="0.8"/>
<circle cx="41.52" cy="474.7" r="1.8" fill="white" stroke="#e86060" stroke-width="0.8"/>
<circle cx="48" cy="468.31" r="1.8" fill="white" stroke="#e86060" stroke-width="0.8"/>
<circle cx="54.48" cy="460.19" r="1.8" fill="white" stroke="#e86060" stroke-width="0.8"/>
<circle cx="60.96" cy="453.16" r="1.8" fill="white" stroke="#e86060" stroke-width="0.8"/>
<circle cx="67.44" cy="450.18" r="1.8" fill="white" stroke="#e86060" stroke-width="0.8"/>
<circle cx="73.92" cy="447.74" r="1.8" fill="white" stroke="#e86060" stroke-width="0.8"/>
<circle cx="80.4" cy="445.58" r="1.8" fill="white" stroke="#e86060" stroke-width="0.8"/>
<circle cx="86.88" cy="443.41" r="1.8" fill="white" stroke="#e86060" stroke-width="0.8"/>
<circle cx="93.36" cy="441.25" r="1.8" fill="white" stroke="#e86060" stroke-width="0.8"/>
<circle cx="99.84" cy="438.54" r="1.8" fill="white" stroke="#e86060" stroke-width="0.8"/>
<circle cx="106.32" cy="435.83" r="1.8" fill="white" stroke="#e86060" stroke-width="0.8"/>
<circle cx="112.8" cy="433.67" r="1.8" fill="white" stroke="#e86060" stroke-width="0.8"/>
<circle cx="119.28" cy="431.5" r="1.8" fill="white" stroke="#e86060" stroke-width="0.8"/>
<circle cx="125.76" cy="428.8" r="1.8" fill="white" stroke="#e86060" stroke-width="0.8"/>
<circle cx="132.24" cy="427.18" r="1.8" fill="white" stroke="#e86060" stroke-width="0.8"/>
<circle cx="138.72" cy="425.55" r="1.8" fill="white" stroke="#e86060" stroke-width="0.8"/>
<circle cx="145.2" cy="423.93" r="1.8" fill="white" stroke="#e86060" stroke-width="0.8"/>
<circle cx="151.68" cy="422.2" r="1.8" fill="white" stroke="#e86060" stroke-width="0.8"/>
<circle cx="158.16" cy="420.46" r="1.8" fill="white" stroke="#e86060" stroke-width="0.8"/>
<circle cx="164.64" cy="418.73" r="1.8" fill="white" stroke="#e86060" stroke-width="0.8"/>
<circle cx="171.12" cy="417" r="1.8" fill="white" stroke="#e86060" stroke-width="0.8"/>
<circle cx="177.6" cy="415.27" r="1.8" fill="white" stroke="#e86060" stroke-width="0.8"/>
<circle cx="184.08" cy="413.97" r="1.8" fill="white" stroke="#e86060" stroke-width="0.8"/>
<circle cx="190.56" cy="412.67" r="1.8" fill="white" stroke="#e86060" stroke-width="0.8"/>
<circle cx="197.04" cy="411.37" r="1.8" fill="white" stroke="#e86060" stroke-width="0.8"/>
<circle cx="203.52" cy="410.07" r="1.8" fill="white" stroke="#e86060" stroke-width="0.8"/>
<circle cx="210" cy="408.77" r="1.8" fill="white" stroke="#e86060" stroke-width="0.8"/>
<circle cx="216.48" cy="407.69" r="1.8" fill="white" stroke="#e86060" stroke-width="0.8"/>
<circle cx="222.96" cy="406.61" r="1.8" fill="white" stroke="#e86060" stroke-width="0.8"/>
<circle cx="229.44" cy="405.52" r="1.8" fill="white" stroke="#e86060" stroke-width="0.8"/>
<polyline points="35.04,480.76 41.52,474.26 48,465.28 54.48,456.62 60.96,448.28 67.44,443.14 73.92,438.16 80.4,435.13 86.88,433.13 93.36,430.53 99.84,428.1 106.32,424.69 112.8,422.68 119.28,419.65 125.76,417.65 132.24,415.77 138.72,413.9 145.2,412.02 151.68,409.86 158.16,407.69 164.64,405.56 171.12,403.46 177.6,401.36 184.08,399.34 190.56,397.33 197.04,395.24 203.52,393.08 210,390.91 216.48,389.16 222.96,387.41 229.44,385.66" fill="none" stroke="#1f1fd0" stroke-width="1.0"/>
<path d="M80.4,434.32V435.94M78.9,434.32H81.9M78.9,435.94H81.9" stroke="#1f1fd0" stroke-width="0.9" fill="none"/>
<path d="M86.88,432.21V434.05M85.38,432.21H88.38M85.38,434.05H88.38" stroke="#1f1fd0" stroke-width="0.9" fill="none"/>
<path d="M93.36,429.5V431.56M91.86,429.5H94.86M91.86,431.56H94.86" stroke="#1f1fd0" stroke-width="0.9" fill="none"/>
<path d="M99.84,426.96V429.23M98.34,426.96H101.34M98.34,429.23H101.34" stroke="#1f1fd0" stroke-width="0.9" fill="none"/>
<path d="M106.32,423.44V425.93M104.82,423.44H107.82M104.82,425.93H107.82" stroke="#1f1fd0" stroke-width="0.9" fill="none"/>
<path d="M112.8,421.33V424.04M111.3,421.33H114.3M111.3,424.04H114.3" stroke="#1f1fd0" stroke-width="0.9" fill="none"/>
<path d="M119.28,418.19V421.11M117.78,418.19H120.78M117.78,421.11H120.78" stroke="#1f1fd0" stroke-width="0.9" fill="none"/>
<path d="M125.76,416.08V419.22M124.26,416.08H127.26M124.26,419.22H127.26" stroke="#1f1fd0" stroke-width="0.9" fill="none"/>
<path d="M132.24,414.09V417.45M130.74,414.09H133.74M130.74,417.45H133.74" stroke="#1f1fd0" stroke-width="0.9" fill="none"/>
<path d="M138.72,412.11V415.68M137.22,412.11H140.22M137.22,415.68H140.22" stroke="#1f1fd0" stroke-width="0.9" fill="none"/>
<path d="M145.2,410.13V413.91M143.7,410.13H146.7M143.7,413.91H146.7" stroke="#1f1fd0" stroke-width="0.9" fill="none"/>
<path d="M151.68,407.85V411.86M150.18,407.85H153.18M150.18,411.86H153.18" stroke="#1f1fd0" stroke-width="0.9" fill="none"/>
<path d="M158.16,405.58V409.8M156.66,405.58H159.66M156.66,409.8H159.66" stroke="#1f1fd0" stroke-width="0.9" fill="none"/>
<path d="M164.64,403.39V407.72M163.14,403.39H166.14M163.14,407.72H166.14" stroke="#1f1fd0" stroke-width="0.9" fill="none"/>
<path d="M171.12,401.29V405.62M169.62,401.29H172.62M169.62,405.62H172.62" stroke="#1f1fd0" stroke-width="0.9" fill="none"/>
<path d="M177.6,399.19V403.52M176.1,399.19H179.1M176.1,403.52H179.1" stroke="#1f1fd0" stroke-width="0.9" fill="none"/>
<path d="M184.08,397.18V401.51M182.58,397.18H185.58M182.58,401.51H185.58" stroke="#1f1fd0" stroke-width="0.9" fill="none"/>
<path d="M190.56,395.17V399.5M189.06,395.17H192.06M189.06,399.5H192.06" stroke="#1f1fd0" stroke-width="0.9" fill="none"/>
<path d="M197.04,393.08V397.41M195.54,393.08H198.54M195.54,397.41H198.54" stroke="#1f1fd0" stroke-width="0.9" fill="none"/>
<path d="M203.52,390.91V395.24M202.02,390.91H205.02M202.02,395.24H205.02" stroke="#1f1fd0" stroke-width="0.9" fill="none"/>
<path d="M210,388.75V393.08M208.5,388.75H211.5M208.5,393.08H211.5" stroke="#1f1fd0" stroke-width="0.9" fill="none"/>
<path d="M216.48,387V391.33M214.98,387H217.98M214.98,391.33H217.98" stroke="#1f1fd0" stroke-width="0.9" fill="none"/>
<path d="M222.96,385.25V389.58M221.46,385.25H224.46M221.46,389.58H224.46" stroke="#1f1fd0" stroke-width="0.9" fill="none"/>
<path d="M229.44,383.5V387.83M227.94,383.5H230.94M227.94,387.83H230.94" stroke="#1f1fd0" stroke-width="0.9" fill="none"/>
<polygon points="35.04,478.51 37.18,482.11 32.9,482.11" fill="#1f1fd0" stroke="#1f1fd0" stroke-width="0.8"/>
<polygon points="41.52,472.01 43.66,475.61 39.38,475.61" fill="#1f1fd0" stroke="#1f1fd0" stroke-width="0.8"/>
<polygon points="48,463.03 50.14,466.63 45.86,466.63" fill="#1f1fd0" stroke="#1f1fd0" stroke-width="0.8"/>
<polygon points="54.48,454.37 56.62,457.97 52.34,457.97" fill="#1f1fd0" stroke="#1f1fd0" stroke-width="0.8"/>
<polygon points="60.96,446.03 63.1,449.63 58.82,449.63" fill="#1f1fd0" stroke="#1f1fd0" stroke-width="0.8"/>
<polygon points="67.44,440.89 69.58,444.49 65.3,444.49" fill="#1f1fd0" stroke="#1f1fd0" stroke-width="0.8"/>
<polygon points="73.92,435.91 76.06,439.51 71.78,439.51" fill="#1f1fd0" stroke="#1f1fd0" stroke-width="0.8"/>
<polygon points="80.4,432.88 82.54,436.48 78.26,436.48" fill="#1f1fd0" stroke="#1f1fd0" stroke-width="0.8"/>
<polygon points="86.88,430.88 89.02,434.48 84.74,434.48" fill="#1f1fd0" stroke="#1f1fd0" stroke-width="0.8"/>
<polygon points="93.36,428.28 95.5,431.88 91.22,431.88" fill="#1f1fd0" stroke="#1f1fd0" stroke-width="0.8"/>
<polygon points="99.84,425.85 101.98,429.45 97.7,429.45" fill="#1f1fd0" stroke="#1f1fd0" stroke-width="0.8"/>
<polygon points="106.32,422.44 108.46,426.04 104.18,426.04" fill="#1f1fd0" stroke="#1f1fd0" stroke-width="0.8"/>
<polygon points="112.8,420.43 114.94,424.03 110.66,424.03" fill="#1f1fd0" stroke="#1f1fd0" stroke-width="0.8"/>
<polygon points="119.28,417.4 121.42,421 117.14,421" fill="#1f1fd0" stroke="#1f1fd0" stroke-width="0.8"/>
<polygon points="125.76,415.4 127.9,419 123.62,419" fill="#1f1fd0" stroke="#1f1fd0" stroke-width="0.8"/>
<polygon points="132.24,413.52 134.38,417.12 130.1,417.12" fill="#1f1fd0" stroke="#1f1fd0" stroke-width="0.8"/>
<polygon points="138.72,411.65 140.86,415.25 136.58,415.25" fill="#1f1fd0" stroke="#1f1fd0" stroke-width="0.8"/>
<polygon points="145.2,409.77 147.34,413.37 143.06,413.37" fill="#1f1fd0" stroke="#1f1fd0" stroke-width="0.8"/>
<polygon points="151.68,407.61 153.82,411.21 149.54,411.21" fill="#1f1fd0" stroke="#1f1fd0" stroke-width="0.8"/>
<polygon points="158.16,405.44 160.3,409.04 156.02,409.04" fill="#1f1fd0" stroke="#1f1fd0" stroke-width="0.8"/>
<polygon points="164.64,403.31 166.78,406.91 162.5,406.91" fill="#1f1fd0" stroke="#1f1fd0" stroke-width="0.8"/>
<polygon points="171.12,401.21 173.26,404.81 168.98,404.81" fill="#1f1fd0" stroke="#1f1fd0" stroke-width="0.8"/>
<polygon points="177.6,399.11 179.74,402.71 175.46,402.71" fill="#1f1fd0" stroke="#1f1fd0" stroke-width="0.8"/>
<polygon points="184.08,397.09 186.22,400.69 181.94,400.69" fill="#1f1fd0" stroke="#1f1fd0" stroke-width="0.8"/>
<polygon points="190.56,395.08 192.7,398.68 188.42,398.68" fill="#1f1fd0" stroke="#1f1fd0" stroke-width="0.8"/>
<polygon points="197.04,392.99 199.18,396.59 194.9,396.59" fill="#1f1fd0" stroke="#1f1fd0" stroke-width="0.8"/>
<polygon points="203.52,390.83 205.66,394.43 201.38,394.43" fill="#1f1fd0" stroke="#1f1fd0" stroke-width="0.8"/>
<polygon points="210,388.66 212.14,392.26 207.86,392.26" fill="#1f1fd0" stroke="#1f1fd0" stroke-width="0.8"/>
<polygon points="216.48,386.91 218.62,390.51 214.34,390.51" fill="#1f1fd0" stroke="#1f1fd0" stroke-width="0.8"/>
<polygon points="222.96,385.16 225.1,388.76 220.82,388.76" fill="#1f1fd0" stroke="#1f1fd0" stroke-width="0.8"/>
<polygon points="229.44,383.41 231.58,387.01 227.3,387.01" fill="#1f1fd0" stroke="#1f1fd0" stroke-width="0.8"/>
<line x1="42.4" y1="364" x2="53.7" y2="364" stroke="#000000" stroke-width="1.1"/>
<rect x="46.43" y="362.38" width="3.23" height="3.23" fill="#000000" stroke="#000000" stroke-width="0.8"/>
<text x="55.3" y="366.8" class="lg">no pretreatment</text>
<line x1="42.4" y1="376.1" x2="53.7" y2="376.1" stroke="#e86060" stroke-width="1.1"/>
<circle cx="48.05" cy="376.1" r="1.9" fill="white" stroke="#e86060" stroke-width="0.8"/>
<text x="55.3" y="378.9" class="lg">1.5% KOH</text>
<line x1="42.4" y1="386.5" x2="53.7" y2="386.5" stroke="#1f1fd0" stroke-width="1.1"/>
<polygon points="48.05,384.12 50.31,387.93 45.79,387.93" fill="#1f1fd0" stroke="#1f1fd0" stroke-width="0.8"/>
<text x="55.3" y="389.3" class="lg">3% KOH</text>
<line x1="42.4" y1="396.8" x2="53.7" y2="396.8" stroke="#e8312f" stroke-width="1.1"/>
<polygon points="48.05,399.18 50.31,395.38 45.79,395.38" fill="#e8312f" stroke="#e8312f" stroke-width="0.8"/>
<text x="55.3" y="399.6" class="lg">4.5% KOH</text>
<line x1="42.4" y1="406.8" x2="53.7" y2="406.8" stroke="#1e8c1e" stroke-width="1.1"/>
<polygon points="45.67,406.8 49.47,404.54 49.47,409.06" fill="white" stroke="#1e8c1e" stroke-width="0.8"/>
<text x="55.3" y="409.6" class="lg">6% KOH</text>
<text x="167.8" y="368.7" class="pl">e</text>
<polyline points="288.74,480.76 295.22,477.29 301.69,475.89 308.17,474.26 314.65,472.64 321.12,471.29 327.6,469.93 334.08,469.28 340.55,468.31 347.03,466.25 353.51,464.63 359.98,463.22 366.46,462.25 372.94,460.19 379.42,459.11 385.89,458.39 392.37,457.67 398.85,456.94 405.32,456.29 411.8,455.64 418.28,455.13 424.75,454.74 431.23,454.35 437.71,453.87 444.18,453.39 450.66,452.99 457.14,452.67 463.62,452.34 470.09,452.2 476.57,452.05 483.05,451.91" fill="none" stroke="#000000" stroke-width="1.0"/>
<path d="M418.28,454.31V455.94M416.78,454.31H419.78M416.78,455.94H419.78" stroke="#000000" stroke-width="0.9" fill="none"/>
<path d="M424.75,453.92V455.55M423.25,453.92H426.25M423.25,455.55H426.25" stroke="#000000" stroke-width="0.9" fill="none"/>
<path d="M431.23,453.53V455.16M429.73,453.53H432.73M429.73,455.16H432.73" stroke="#000000" stroke-width="0.9" fill="none"/>
<path d="M437.71,453.06V454.68M436.21,453.06H439.21M436.21,454.68H439.21" stroke="#000000" stroke-width="0.9" fill="none"/>
<path d="M444.18,452.58V454.21M442.68,452.58H445.68M442.68,454.21H445.68" stroke="#000000" stroke-width="0.9" fill="none"/>
<path d="M450.66,452.18V453.8M449.16,452.18H452.16M449.16,453.8H452.16" stroke="#000000" stroke-width="0.9" fill="none"/>
<path d="M457.14,451.86V453.48M455.64,451.86H458.64M455.64,453.48H458.64" stroke="#000000" stroke-width="0.9" fill="none"/>
<path d="M463.62,451.53V453.15M462.12,451.53H465.12M462.12,453.15H465.12" stroke="#000000" stroke-width="0.9" fill="none"/>
<path d="M470.09,451.39V453.01M468.59,451.39H471.59M468.59,453.01H471.59" stroke="#000000" stroke-width="0.9" fill="none"/>
<path d="M476.57,451.24V452.87M475.07,451.24H478.07M475.07,452.87H478.07" stroke="#000000" stroke-width="0.9" fill="none"/>
<path d="M483.05,451.1V452.72M481.55,451.1H484.55M481.55,452.72H484.55" stroke="#000000" stroke-width="0.9" fill="none"/>
<rect x="286.94" y="478.96" width="3.6" height="3.6" fill="#000000" stroke="#000000" stroke-width="0.8"/>
<rect x="293.42" y="475.49" width="3.6" height="3.6" fill="#000000" stroke="#000000" stroke-width="0.8"/>
<rect x="299.89" y="474.09" width="3.6" height="3.6" fill="#000000" stroke="#000000" stroke-width="0.8"/>
<rect x="306.37" y="472.46" width="3.6" height="3.6" fill="#000000" stroke="#000000" stroke-width="0.8"/>
<rect x="312.85" y="470.84" width="3.6" height="3.6" fill="#000000" stroke="#000000" stroke-width="0.8"/>
<rect x="319.32" y="469.49" width="3.6" height="3.6" fill="#000000" stroke="#000000" stroke-width="0.8"/>
<rect x="325.8" y="468.13" width="3.6" height="3.6" fill="#000000" stroke="#000000" stroke-width="0.8"/>
<rect x="332.28" y="467.48" width="3.6" height="3.6" fill="#000000" stroke="#000000" stroke-width="0.8"/>
<rect x="338.75" y="466.51" width="3.6" height="3.6" fill="#000000" stroke="#000000" stroke-width="0.8"/>
<rect x="345.23" y="464.45" width="3.6" height="3.6" fill="#000000" stroke="#000000" stroke-width="0.8"/>
<rect x="351.71" y="462.83" width="3.6" height="3.6" fill="#000000" stroke="#000000" stroke-width="0.8"/>
<rect x="358.18" y="461.42" width="3.6" height="3.6" fill="#000000" stroke="#000000" stroke-width="0.8"/>
<rect x="364.66" y="460.45" width="3.6" height="3.6" fill="#000000" stroke="#000000" stroke-width="0.8"/>
<rect x="371.14" y="458.39" width="3.6" height="3.6" fill="#000000" stroke="#000000" stroke-width="0.8"/>
<rect x="377.62" y="457.31" width="3.6" height="3.6" fill="#000000" stroke="#000000" stroke-width="0.8"/>
<rect x="384.09" y="456.59" width="3.6" height="3.6" fill="#000000" stroke="#000000" stroke-width="0.8"/>
<rect x="390.57" y="455.87" width="3.6" height="3.6" fill="#000000" stroke="#000000" stroke-width="0.8"/>
<rect x="397.05" y="455.14" width="3.6" height="3.6" fill="#000000" stroke="#000000" stroke-width="0.8"/>
<rect x="403.52" y="454.49" width="3.6" height="3.6" fill="#000000" stroke="#000000" stroke-width="0.8"/>
<rect x="410" y="453.84" width="3.6" height="3.6" fill="#000000" stroke="#000000" stroke-width="0.8"/>
<rect x="416.48" y="453.33" width="3.6" height="3.6" fill="#000000" stroke="#000000" stroke-width="0.8"/>
<rect x="422.95" y="452.94" width="3.6" height="3.6" fill="#000000" stroke="#000000" stroke-width="0.8"/>
<rect x="429.43" y="452.55" width="3.6" height="3.6" fill="#000000" stroke="#000000" stroke-width="0.8"/>
<rect x="435.91" y="452.07" width="3.6" height="3.6" fill="#000000" stroke="#000000" stroke-width="0.8"/>
<rect x="442.38" y="451.59" width="3.6" height="3.6" fill="#000000" stroke="#000000" stroke-width="0.8"/>
<rect x="448.86" y="451.19" width="3.6" height="3.6" fill="#000000" stroke="#000000" stroke-width="0.8"/>
<rect x="455.34" y="450.87" width="3.6" height="3.6" fill="#000000" stroke="#000000" stroke-width="0.8"/>
<rect x="461.82" y="450.54" width="3.6" height="3.6" fill="#000000" stroke="#000000" stroke-width="0.8"/>
<rect x="468.29" y="450.4" width="3.6" height="3.6" fill="#000000" stroke="#000000" stroke-width="0.8"/>
<rect x="474.77" y="450.25" width="3.6" height="3.6" fill="#000000" stroke="#000000" stroke-width="0.8"/>
<rect x="481.25" y="450.11" width="3.6" height="3.6" fill="#000000" stroke="#000000" stroke-width="0.8"/>
<polyline points="288.74,480.76 295.22,476.32 301.69,470.26 308.17,465.28 314.65,458.24 321.12,456.24 327.6,452.61 334.08,450.18 340.55,448.18 347.03,447.2 353.51,446.66 359.98,445.79 366.46,445.2 372.94,443.79 379.42,442.33 385.89,441.25 392.37,440.17 398.85,439.08 405.32,437.78 411.8,436.48 418.28,435.21 424.75,433.95 431.23,432.7 437.71,431.35 444.18,430.01 450.66,428.69 457.14,427.39 463.62,426.09 470.09,424.92 476.57,423.75 483.05,422.57" fill="none" stroke="#1e8c1e" stroke-width="1.0"/>
<path d="M334.08,449.37V450.99M332.58,449.37H335.58M332.58,450.99H335.58" stroke="#1e8c1e" stroke-width="0.9" fill="none"/>
<path d="M340.55,447.26V449.1M339.05,447.26H342.05M339.05,449.1H342.05" stroke="#1e8c1e" stroke-width="0.9" fill="none"/>
<path d="M347.03,446.17V448.23M345.53,446.17H348.53M345.53,448.23H348.53" stroke="#1e8c1e" stroke-width="0.9" fill="none"/>
<path d="M353.51,445.52V447.8M352.01,445.52H355.01M352.01,447.8H355.01" stroke="#1e8c1e" stroke-width="0.9" fill="none"/>
<path d="M359.98,444.55V447.04M358.48,444.55H361.48M358.48,447.04H361.48" stroke="#1e8c1e" stroke-width="0.9" fill="none"/>
<path d="M366.46,443.85V446.55M364.96,443.85H367.96M364.96,446.55H367.96" stroke="#1e8c1e" stroke-width="0.9" fill="none"/>
<path d="M372.94,442.33V445.25M371.44,442.33H374.44M371.44,445.25H374.44" stroke="#1e8c1e" stroke-width="0.9" fill="none"/>
<path d="M379.42,440.76V443.9M377.92,440.76H380.92M377.92,443.9H380.92" stroke="#1e8c1e" stroke-width="0.9" fill="none"/>
<path d="M385.89,439.57V442.93M384.39,439.57H387.39M384.39,442.93H387.39" stroke="#1e8c1e" stroke-width="0.9" fill="none"/>
<path d="M392.37,438.38V441.95M390.87,438.38H393.87M390.87,441.95H393.87" stroke="#1e8c1e" stroke-width="0.9" fill="none"/>
<path d="M398.85,437.19V440.98M397.35,437.19H400.35M397.35,440.98H400.35" stroke="#1e8c1e" stroke-width="0.9" fill="none"/>
<path d="M405.32,435.78V439.79M403.82,435.78H406.82M403.82,439.79H406.82" stroke="#1e8c1e" stroke-width="0.9" fill="none"/>
<path d="M411.8,434.37V438.6M410.3,434.37H413.3M410.3,438.6H413.3" stroke="#1e8c1e" stroke-width="0.9" fill="none"/>
<path d="M418.28,433.04V437.37M416.78,433.04H419.78M416.78,437.37H419.78" stroke="#1e8c1e" stroke-width="0.9" fill="none"/>
<path d="M424.75,431.79V436.12M423.25,431.79H426.25M423.25,436.12H426.25" stroke="#1e8c1e" stroke-width="0.9" fill="none"/>
<path d="M431.23,430.53V434.86M429.73,430.53H432.73M429.73,434.86H432.73" stroke="#1e8c1e" stroke-width="0.9" fill="none"/>
<path d="M437.71,429.19V433.52M436.21,429.19H439.21M436.21,433.52H439.21" stroke="#1e8c1e" stroke-width="0.9" fill="none"/>
<path d="M444.18,427.85V432.18M442.68,427.85H445.68M442.68,432.18H445.68" stroke="#1e8c1e" stroke-width="0.9" fill="none"/>
<path d="M450.66,426.53V430.86M449.16,426.53H452.16M449.16,430.86H452.16" stroke="#1e8c1e" stroke-width="0.9" fill="none"/>
<path d="M457.14,425.23V429.56M455.64,425.23H458.64M455.64,429.56H458.64" stroke="#1e8c1e" stroke-width="0.9" fill="none"/>
<path d="M463.62,423.93V428.26M462.12,423.93H465.12M462.12,428.26H465.12" stroke="#1e8c1e" stroke-width="0.9" fill="none"/>
<path d="M470.09,422.75V427.08M468.59,422.75H471.59M468.59,427.08H471.59" stroke="#1e8c1e" stroke-width="0.9" fill="none"/>
<path d="M476.57,421.58V425.91M475.07,421.58H478.07M475.07,425.91H478.07" stroke="#1e8c1e" stroke-width="0.9" fill="none"/>
<path d="M483.05,420.41V424.74M481.55,420.41H484.55M481.55,424.74H484.55" stroke="#1e8c1e" stroke-width="0.9" fill="none"/>
<polygon points="286.49,480.76 290.09,478.62 290.09,482.9" fill="#1e8c1e" stroke="#1e8c1e" stroke-width="0.8"/>
<polygon points="292.97,476.32 296.57,474.18 296.57,478.46" fill="#1e8c1e" stroke="#1e8c1e" stroke-width="0.8"/>
<polygon points="299.44,470.26 303.04,468.12 303.04,472.4" fill="#1e8c1e" stroke="#1e8c1e" stroke-width="0.8"/>
<polygon points="305.92,465.28 309.52,463.14 309.52,467.42" fill="#1e8c1e" stroke="#1e8c1e" stroke-width="0.8"/>
<polygon points="312.4,458.24 316,456.11 316,460.38" fill="#1e8c1e" stroke="#1e8c1e" stroke-width="0.8"/>
<polygon points="318.87,456.24 322.47,454.1 322.47,458.38" fill="#1e8c1e" stroke="#1e8c1e" stroke-width="0.8"/>
<polygon points="325.35,452.61 328.95,450.48 328.95,454.75" fill="#1e8c1e" stroke="#1e8c1e" stroke-width="0.8"/>
<polygon points="331.83,450.18 335.43,448.04 335.43,452.32" fill="#1e8c1e" stroke="#1e8c1e" stroke-width="0.8"/>
<polygon points="338.3,448.18 341.9,446.04 341.9,450.31" fill="#1e8c1e" stroke="#1e8c1e" stroke-width="0.8"/>
<polygon points="344.78,447.2 348.38,445.06 348.38,449.34" fill="#1e8c1e" stroke="#1e8c1e" stroke-width="0.8"/>
<polygon points="351.26,446.66 354.86,444.52 354.86,448.8" fill="#1e8c1e" stroke="#1e8c1e" stroke-width="0.8"/>
<polygon points="357.73,445.79 361.33,443.66 361.33,447.93" fill="#1e8c1e" stroke="#1e8c1e" stroke-width="0.8"/>
<polygon points="364.21,445.2 367.81,443.06 367.81,447.34" fill="#1e8c1e" stroke="#1e8c1e" stroke-width="0.8"/>
<polygon points="370.69,443.79 374.29,441.65 374.29,445.93" fill="#1e8c1e" stroke="#1e8c1e" stroke-width="0.8"/>
<polygon points="377.17,442.33 380.77,440.19 380.77,444.47" fill="#1e8c1e" stroke="#1e8c1e" stroke-width="0.8"/>
<polygon points="383.64,441.25 387.24,439.11 387.24,443.38" fill="#1e8c1e" stroke="#1e8c1e" stroke-width="0.8"/>
<polygon points="390.12,440.17 393.72,438.03 393.72,442.3" fill="#1e8c1e" stroke="#1e8c1e" stroke-width="0.8"/>
<polygon points="396.6,439.08 400.2,436.94 400.2,441.22" fill="#1e8c1e" stroke="#1e8c1e" stroke-width="0.8"/>
<polygon points="403.07,437.78 406.67,435.65 406.67,439.92" fill="#1e8c1e" stroke="#1e8c1e" stroke-width="0.8"/>
<polygon points="409.55,436.48 413.15,434.35 413.15,438.62" fill="#1e8c1e" stroke="#1e8c1e" stroke-width="0.8"/>
<polygon points="416.03,435.21 419.63,433.07 419.63,437.34" fill="#1e8c1e" stroke="#1e8c1e" stroke-width="0.8"/>
<polygon points="422.5,433.95 426.1,431.81 426.1,436.09" fill="#1e8c1e" stroke="#1e8c1e" stroke-width="0.8"/>
<polygon points="428.98,432.7 432.58,430.56 432.58,434.83" fill="#1e8c1e" stroke="#1e8c1e" stroke-width="0.8"/>
<polygon points="435.46,431.35 439.06,429.22 439.06,433.49" fill="#1e8c1e" stroke="#1e8c1e" stroke-width="0.8"/>
<polygon points="441.93,430.01 445.53,427.87 445.53,432.15" fill="#1e8c1e" stroke="#1e8c1e" stroke-width="0.8"/>
<polygon points="448.41,428.69 452.01,426.55 452.01,430.83" fill="#1e8c1e" stroke="#1e8c1e" stroke-width="0.8"/>
<polygon points="454.89,427.39 458.49,425.25 458.49,429.53" fill="#1e8c1e" stroke="#1e8c1e" stroke-width="0.8"/>
<polygon points="461.37,426.09 464.97,423.95 464.97,428.23" fill="#1e8c1e" stroke="#1e8c1e" stroke-width="0.8"/>
<polygon points="467.84,424.92 471.44,422.78 471.44,427.06" fill="#1e8c1e" stroke="#1e8c1e" stroke-width="0.8"/>
<polygon points="474.32,423.75 477.92,421.61 477.92,425.88" fill="#1e8c1e" stroke="#1e8c1e" stroke-width="0.8"/>
<polygon points="480.8,422.57 484.4,420.44 484.4,424.71" fill="#1e8c1e" stroke="#1e8c1e" stroke-width="0.8"/>
<polyline points="288.74,480.76 295.22,474.81 301.69,467.23 308.17,459.65 314.65,452.07 321.12,446.66 327.6,442.33 334.08,439.08 340.55,436.92 347.03,434.75 353.51,432.59 359.98,430.96 366.46,427.72 372.94,425.01 379.42,423.93 385.89,422.48 392.37,421.04 398.85,419.6 405.32,418.3 411.8,417 418.28,415.7 424.75,414.4 431.23,413.1 437.71,411.8 444.18,410.5 450.66,409.31 457.14,408.23 463.62,407.15 470.09,406.25 476.57,405.34 483.05,404.44" fill="none" stroke="#e86060" stroke-width="1.0"/>
<path d="M334.08,438.27V439.89M332.58,438.27H335.58M332.58,439.89H335.58" stroke="#e86060" stroke-width="0.9" fill="none"/>
<path d="M340.55,436V437.84M339.05,436H342.05M339.05,437.84H342.05" stroke="#e86060" stroke-width="0.9" fill="none"/>
<path d="M347.03,433.72V435.78M345.53,433.72H348.53M345.53,435.78H348.53" stroke="#e86060" stroke-width="0.9" fill="none"/>
<path d="M353.51,431.45V433.72M352.01,431.45H355.01M352.01,433.72H355.01" stroke="#e86060" stroke-width="0.9" fill="none"/>
<path d="M359.98,429.72V432.21M358.48,429.72H361.48M358.48,432.21H361.48" stroke="#e86060" stroke-width="0.9" fill="none"/>
<path d="M366.46,426.36V429.07M364.96,426.36H367.96M364.96,429.07H367.96" stroke="#e86060" stroke-width="0.9" fill="none"/>
<path d="M372.94,423.55V426.47M371.44,423.55H374.44M371.44,426.47H374.44" stroke="#e86060" stroke-width="0.9" fill="none"/>
<path d="M379.42,422.36V425.5M377.92,422.36H380.92M377.92,425.5H380.92" stroke="#e86060" stroke-width="0.9" fill="none"/>
<path d="M385.89,420.81V424.16M384.39,420.81H387.39M384.39,424.16H387.39" stroke="#e86060" stroke-width="0.9" fill="none"/>
<path d="M392.37,419.25V422.83M390.87,419.25H393.87M390.87,422.83H393.87" stroke="#e86060" stroke-width="0.9" fill="none"/>
<path d="M398.85,417.7V421.49M397.35,417.7H400.35M397.35,421.49H400.35" stroke="#e86060" stroke-width="0.9" fill="none"/>
<path d="M405.32,416.3V420.3M403.82,416.3H406.82M403.82,420.3H406.82" stroke="#e86060" stroke-width="0.9" fill="none"/>
<path d="M411.8,414.89V419.11M410.3,414.89H413.3M410.3,419.11H413.3" stroke="#e86060" stroke-width="0.9" fill="none"/>
<path d="M418.28,413.54V417.87M416.78,413.54H419.78M416.78,417.87H419.78" stroke="#e86060" stroke-width="0.9" fill="none"/>
<path d="M424.75,412.24V416.57M423.25,412.24H426.25M423.25,416.57H426.25" stroke="#e86060" stroke-width="0.9" fill="none"/>
<path d="M431.23,410.94V415.27M429.73,410.94H432.73M429.73,415.27H432.73" stroke="#e86060" stroke-width="0.9" fill="none"/>
<path d="M437.71,409.64V413.97M436.21,409.64H439.21M436.21,413.97H439.21" stroke="#e86060" stroke-width="0.9" fill="none"/>
<path d="M444.18,408.34V412.67M442.68,408.34H445.68M442.68,412.67H445.68" stroke="#e86060" stroke-width="0.9" fill="none"/>
<path d="M450.66,407.15V411.48M449.16,407.15H452.16M449.16,411.48H452.16" stroke="#e86060" stroke-width="0.9" fill="none"/>
<path d="M457.14,406.07V410.4M455.64,406.07H458.64M455.64,410.4H458.64" stroke="#e86060" stroke-width="0.9" fill="none"/>
<path d="M463.62,404.98V409.31M462.12,404.98H465.12M462.12,409.31H465.12" stroke="#e86060" stroke-width="0.9" fill="none"/>
<path d="M470.09,404.08V408.41M468.59,404.08H471.59M468.59,408.41H471.59" stroke="#e86060" stroke-width="0.9" fill="none"/>
<path d="M476.57,403.18V407.51M475.07,403.18H478.07M475.07,407.51H478.07" stroke="#e86060" stroke-width="0.9" fill="none"/>
<path d="M483.05,402.28V406.61M481.55,402.28H484.55M481.55,406.61H484.55" stroke="#e86060" stroke-width="0.9" fill="none"/>
<polygon points="288.74,483.01 290.88,479.41 286.6,479.41" fill="white" stroke="#e86060" stroke-width="0.8"/>
<polygon points="295.22,477.06 297.35,473.45 293.08,473.45" fill="white" stroke="#e86060" stroke-width="0.8"/>
<polygon points="301.69,469.48 303.83,465.88 299.55,465.88" fill="white" stroke="#e86060" stroke-width="0.8"/>
<polygon points="308.17,461.9 310.31,458.3 306.03,458.3" fill="white" stroke="#e86060" stroke-width="0.8"/>
<polygon points="314.65,454.32 316.78,450.72 312.51,450.72" fill="white" stroke="#e86060" stroke-width="0.8"/>
<polygon points="321.12,448.91 323.26,445.31 318.99,445.31" fill="white" stroke="#e86060" stroke-width="0.8"/>
<polygon points="327.6,444.58 329.74,440.98 325.46,440.98" fill="white" stroke="#e86060" stroke-width="0.8"/>
<polygon points="334.08,441.33 336.21,437.73 331.94,437.73" fill="white" stroke="#e86060" stroke-width="0.8"/>
<polygon points="340.55,439.17 342.69,435.57 338.42,435.57" fill="white" stroke="#e86060" stroke-width="0.8"/>
<polygon points="347.03,437 349.17,433.4 344.89,433.4" fill="white" stroke="#e86060" stroke-width="0.8"/>
<polygon points="353.51,434.84 355.65,431.24 351.37,431.24" fill="white" stroke="#e86060" stroke-width="0.8"/>
<polygon points="359.98,433.21 362.12,429.61 357.85,429.61" fill="white" stroke="#e86060" stroke-width="0.8"/>
<polygon points="366.46,429.97 368.6,426.37 364.32,426.37" fill="white" stroke="#e86060" stroke-width="0.8"/>
<polygon points="372.94,427.26 375.08,423.66 370.8,423.66" fill="white" stroke="#e86060" stroke-width="0.8"/>
<polygon points="379.42,426.18 381.55,422.58 377.28,422.58" fill="white" stroke="#e86060" stroke-width="0.8"/>
<polygon points="385.89,424.73 388.03,421.13 383.75,421.13" fill="white" stroke="#e86060" stroke-width="0.8"/>
<polygon points="392.37,423.29 394.51,419.69 390.23,419.69" fill="white" stroke="#e86060" stroke-width="0.8"/>
<polygon points="398.85,421.85 400.98,418.25 396.71,418.25" fill="white" stroke="#e86060" stroke-width="0.8"/>
<polygon points="405.32,420.55 407.46,416.95 403.19,416.95" fill="white" stroke="#e86060" stroke-width="0.8"/>
<polygon points="411.8,419.25 413.94,415.65 409.66,415.65" fill="white" stroke="#e86060" stroke-width="0.8"/>
<polygon points="418.28,417.95 420.41,414.35 416.14,414.35" fill="white" stroke="#e86060" stroke-width="0.8"/>
<polygon points="424.75,416.65 426.89,413.05 422.62,413.05" fill="white" stroke="#e86060" stroke-width="0.8"/>
<polygon points="431.23,415.35 433.37,411.75 429.09,411.75" fill="white" stroke="#e86060" stroke-width="0.8"/>
<polygon points="437.71,414.05 439.85,410.45 435.57,410.45" fill="white" stroke="#e86060" stroke-width="0.8"/>
<polygon points="444.18,412.75 446.32,409.15 442.05,409.15" fill="white" stroke="#e86060" stroke-width="0.8"/>
<polygon points="450.66,411.56 452.8,407.96 448.52,407.96" fill="white" stroke="#e86060" stroke-width="0.8"/>
<polygon points="457.14,410.48 459.28,406.88 455,406.88" fill="white" stroke="#e86060" stroke-width="0.8"/>
<polygon points="463.62,409.4 465.75,405.8 461.48,405.8" fill="white" stroke="#e86060" stroke-width="0.8"/>
<polygon points="470.09,408.5 472.23,404.9 467.95,404.9" fill="white" stroke="#e86060" stroke-width="0.8"/>
<polygon points="476.57,407.59 478.71,403.99 474.43,403.99" fill="white" stroke="#e86060" stroke-width="0.8"/>
<polygon points="483.05,406.69 485.18,403.09 480.91,403.09" fill="white" stroke="#e86060" stroke-width="0.8"/>
<polyline points="288.74,480.76 295.22,474.81 301.69,467.5 308.17,460.19 314.65,452.61 321.12,447.2 327.6,442.87 334.08,439.62 340.55,437.13 347.03,435.29 353.51,433.13 359.98,431.13 366.46,428.1 372.94,425.06 379.42,424.04 385.89,422.74 392.37,421.44 398.85,420.14 405.32,418.84 411.8,417.54 418.28,416.19 424.75,414.78 431.23,413.37 437.71,411.97 444.18,410.56 450.66,409.21 457.14,407.91 463.62,406.61 470.09,405.71 476.57,404.8 483.05,403.9" fill="none" stroke="#1f1fd0" stroke-width="1.0"/>
<path d="M353.51,432.28V433.98M352.01,432.28H355.01M352.01,433.98H355.01" stroke="#1f1fd0" stroke-width="0.9" fill="none"/>
<path d="M359.98,430.19V432.06M358.48,430.19H361.48M358.48,432.06H361.48" stroke="#1f1fd0" stroke-width="0.9" fill="none"/>
<path d="M366.46,427.08V429.11M364.96,427.08H367.96M364.96,429.11H367.96" stroke="#1f1fd0" stroke-width="0.9" fill="none"/>
<path d="M372.94,423.97V426.16M371.44,423.97H374.44M371.44,426.16H374.44" stroke="#1f1fd0" stroke-width="0.9" fill="none"/>
<path d="M379.42,422.86V425.21M377.92,422.86H380.92M377.92,425.21H380.92" stroke="#1f1fd0" stroke-width="0.9" fill="none"/>
<path d="M385.89,421.48V424M384.39,421.48H387.39M384.39,424H387.39" stroke="#1f1fd0" stroke-width="0.9" fill="none"/>
<path d="M392.37,420.1V422.78M390.87,420.1H393.87M390.87,422.78H393.87" stroke="#1f1fd0" stroke-width="0.9" fill="none"/>
<path d="M398.85,418.72V421.56M397.35,418.72H400.35M397.35,421.56H400.35" stroke="#1f1fd0" stroke-width="0.9" fill="none"/>
<path d="M405.32,417.34V420.34M403.82,417.34H406.82M403.82,420.34H406.82" stroke="#1f1fd0" stroke-width="0.9" fill="none"/>
<path d="M411.8,415.96V419.12M410.3,415.96H413.3M410.3,419.12H413.3" stroke="#1f1fd0" stroke-width="0.9" fill="none"/>
<path d="M418.28,414.56V417.81M416.78,414.56H419.78M416.78,417.81H419.78" stroke="#1f1fd0" stroke-width="0.9" fill="none"/>
<path d="M424.75,413.16V416.4M423.25,413.16H426.25M423.25,416.4H426.25" stroke="#1f1fd0" stroke-width="0.9" fill="none"/>
<path d="M431.23,411.75V415M429.73,411.75H432.73M429.73,415H432.73" stroke="#1f1fd0" stroke-width="0.9" fill="none"/>
<path d="M437.71,410.34V413.59M436.21,410.34H439.21M436.21,413.59H439.21" stroke="#1f1fd0" stroke-width="0.9" fill="none"/>
<path d="M444.18,408.93V412.18M442.68,408.93H445.68M442.68,412.18H445.68" stroke="#1f1fd0" stroke-width="0.9" fill="none"/>
<path d="M450.66,407.58V410.83M449.16,407.58H452.16M449.16,410.83H452.16" stroke="#1f1fd0" stroke-width="0.9" fill="none"/>
<path d="M457.14,406.28V409.53M455.64,406.28H458.64M455.64,409.53H458.64" stroke="#1f1fd0" stroke-width="0.9" fill="none"/>
<path d="M463.62,404.98V408.23M462.12,404.98H465.12M462.12,408.23H465.12" stroke="#1f1fd0" stroke-width="0.9" fill="none"/>
<path d="M470.09,404.08V407.33M468.59,404.08H471.59M468.59,407.33H471.59" stroke="#1f1fd0" stroke-width="0.9" fill="none"/>
<path d="M476.57,403.18V406.43M475.07,403.18H478.07M475.07,406.43H478.07" stroke="#1f1fd0" stroke-width="0.9" fill="none"/>
<path d="M483.05,402.28V405.52M481.55,402.28H484.55M481.55,405.52H484.55" stroke="#1f1fd0" stroke-width="0.9" fill="none"/>
<polygon points="288.74,478.51 290.88,482.11 286.6,482.11" fill="white" stroke="#1f1fd0" stroke-width="0.8"/>
<polygon points="295.22,472.56 297.35,476.16 293.08,476.16" fill="white" stroke="#1f1fd0" stroke-width="0.8"/>
<polygon points="301.69,465.25 303.83,468.85 299.55,468.85" fill="white" stroke="#1f1fd0" stroke-width="0.8"/>
<polygon points="308.17,457.94 310.31,461.54 306.03,461.54" fill="white" stroke="#1f1fd0" stroke-width="0.8"/>
<polygon points="314.65,450.36 316.78,453.96 312.51,453.96" fill="white" stroke="#1f1fd0" stroke-width="0.8"/>
<polygon points="321.12,444.95 323.26,448.55 318.99,448.55" fill="white" stroke="#1f1fd0" stroke-width="0.8"/>
<polygon points="327.6,440.62 329.74,444.22 325.46,444.22" fill="white" stroke="#1f1fd0" stroke-width="0.8"/>
<polygon points="334.08,437.37 336.21,440.97 331.94,440.97" fill="white" stroke="#1f1fd0" stroke-width="0.8"/>
<polygon points="340.55,434.88 342.69,438.48 338.42,438.48" fill="white" stroke="#1f1fd0" stroke-width="0.8"/>
<polygon points="347.03,433.04 349.17,436.64 344.89,436.64" fill="white" stroke="#1f1fd0" stroke-width="0.8"/>
<polygon points="353.51,430.88 355.65,434.48 351.37,434.48" fill="white" stroke="#1f1fd0" stroke-width="0.8"/>
<polygon points="359.98,428.88 362.12,432.48 357.85,432.48" fill="white" stroke="#1f1fd0" stroke-width="0.8"/>
<polygon points="366.46,425.85 368.6,429.45 364.32,429.45" fill="white" stroke="#1f1fd0" stroke-width="0.8"/>
<polygon points="372.94,422.81 375.08,426.41 370.8,426.41" fill="white" stroke="#1f1fd0" stroke-width="0.8"/>
<polygon points="379.42,421.79 381.55,425.39 377.28,425.39" fill="white" stroke="#1f1fd0" stroke-width="0.8"/>
<polygon points="385.89,420.49 388.03,424.09 383.75,424.09" fill="white" stroke="#1f1fd0" stroke-width="0.8"/>
<polygon points="392.37,419.19 394.51,422.79 390.23,422.79" fill="white" stroke="#1f1fd0" stroke-width="0.8"/>
<polygon points="398.85,417.89 400.98,421.49 396.71,421.49" fill="white" stroke="#1f1fd0" stroke-width="0.8"/>
<polygon points="405.32,416.59 407.46,420.19 403.19,420.19" fill="white" stroke="#1f1fd0" stroke-width="0.8"/>
<polygon points="411.8,415.29 413.94,418.89 409.66,418.89" fill="white" stroke="#1f1fd0" stroke-width="0.8"/>
<polygon points="418.28,413.94 420.41,417.54 416.14,417.54" fill="white" stroke="#1f1fd0" stroke-width="0.8"/>
<polygon points="424.75,412.53 426.89,416.13 422.62,416.13" fill="white" stroke="#1f1fd0" stroke-width="0.8"/>
<polygon points="431.23,411.12 433.37,414.72 429.09,414.72" fill="white" stroke="#1f1fd0" stroke-width="0.8"/>
<polygon points="437.71,409.72 439.85,413.32 435.57,413.32" fill="white" stroke="#1f1fd0" stroke-width="0.8"/>
<polygon points="444.18,408.31 446.32,411.91 442.05,411.91" fill="white" stroke="#1f1fd0" stroke-width="0.8"/>
<polygon points="450.66,406.96 452.8,410.56 448.52,410.56" fill="white" stroke="#1f1fd0" stroke-width="0.8"/>
<polygon points="457.14,405.66 459.28,409.26 455,409.26" fill="white" stroke="#1f1fd0" stroke-width="0.8"/>
<polygon points="463.62,404.36 465.75,407.96 461.48,407.96" fill="white" stroke="#1f1fd0" stroke-width="0.8"/>
<polygon points="470.09,403.46 472.23,407.06 467.95,407.06" fill="white" stroke="#1f1fd0" stroke-width="0.8"/>
<polygon points="476.57,402.55 478.71,406.15 474.43,406.15" fill="white" stroke="#1f1fd0" stroke-width="0.8"/>
<polygon points="483.05,401.65 485.18,405.25 480.91,405.25" fill="white" stroke="#1f1fd0" stroke-width="0.8"/>
<polyline points="288.74,480.76 295.22,474.7 301.69,467.23 308.17,459.81 314.65,452.18 321.12,446.66 327.6,442.17 334.08,439.08 340.55,436.11 347.03,431.72 353.51,428.47 359.98,424.47 366.46,421.06 372.94,418.51 379.42,415.54 385.89,413.28 392.37,411.03 398.85,408.77 405.32,406.39 411.8,404.01 418.28,401.79 424.75,399.73 431.23,397.68 437.71,395.84 444.18,394 450.66,392.21 457.14,390.48 463.62,388.75 470.09,387.48 476.57,386.22 483.05,384.96" fill="none" stroke="#e8312f" stroke-width="1.0"/>
<path d="M334.08,438.27V439.89M332.58,438.27H335.58M332.58,439.89H335.58" stroke="#e8312f" stroke-width="0.9" fill="none"/>
<path d="M340.55,435.19V437.03M339.05,435.19H342.05M339.05,437.03H342.05" stroke="#e8312f" stroke-width="0.9" fill="none"/>
<path d="M347.03,430.69V432.75M345.53,430.69H348.53M345.53,432.75H348.53" stroke="#e8312f" stroke-width="0.9" fill="none"/>
<path d="M353.51,427.34V429.61M352.01,427.34H355.01M352.01,429.61H355.01" stroke="#e8312f" stroke-width="0.9" fill="none"/>
<path d="M359.98,423.22V425.71M358.48,423.22H361.48M358.48,425.71H361.48" stroke="#e8312f" stroke-width="0.9" fill="none"/>
<path d="M366.46,419.71V422.41M364.96,419.71H367.96M364.96,422.41H367.96" stroke="#e8312f" stroke-width="0.9" fill="none"/>
<path d="M372.94,417.05V419.98M371.44,417.05H374.44M371.44,419.98H374.44" stroke="#e8312f" stroke-width="0.9" fill="none"/>
<path d="M379.42,413.97V417.11M377.92,413.97H380.92M377.92,417.11H380.92" stroke="#e8312f" stroke-width="0.9" fill="none"/>
<path d="M385.89,411.61V414.96M384.39,411.61H387.39M384.39,414.96H387.39" stroke="#e8312f" stroke-width="0.9" fill="none"/>
<path d="M392.37,409.24V412.81M390.87,409.24H393.87M390.87,412.81H393.87" stroke="#e8312f" stroke-width="0.9" fill="none"/>
<path d="M398.85,406.88V410.67M397.35,406.88H400.35M397.35,410.67H400.35" stroke="#e8312f" stroke-width="0.9" fill="none"/>
<path d="M405.32,404.39V408.39M403.82,404.39H406.82M403.82,408.39H406.82" stroke="#e8312f" stroke-width="0.9" fill="none"/>
<path d="M411.8,401.9V406.12M410.3,401.9H413.3M410.3,406.12H413.3" stroke="#e8312f" stroke-width="0.9" fill="none"/>
<path d="M418.28,399.63V403.96M416.78,399.63H419.78M416.78,403.96H419.78" stroke="#e8312f" stroke-width="0.9" fill="none"/>
<path d="M424.75,397.57V401.9M423.25,397.57H426.25M423.25,401.9H426.25" stroke="#e8312f" stroke-width="0.9" fill="none"/>
<path d="M431.23,395.51V399.84M429.73,395.51H432.73M429.73,399.84H432.73" stroke="#e8312f" stroke-width="0.9" fill="none"/>
<path d="M437.71,393.67V398M436.21,393.67H439.21M436.21,398H439.21" stroke="#e8312f" stroke-width="0.9" fill="none"/>
<path d="M444.18,391.83V396.16M442.68,391.83H445.68M442.68,396.16H445.68" stroke="#e8312f" stroke-width="0.9" fill="none"/>
<path d="M450.66,390.05V394.38M449.16,390.05H452.16M449.16,394.38H452.16" stroke="#e8312f" stroke-width="0.9" fill="none"/>
<path d="M457.14,388.31V392.64M455.64,388.31H458.64M455.64,392.64H458.64" stroke="#e8312f" stroke-width="0.9" fill="none"/>
<path d="M463.62,386.58V390.91M462.12,386.58H465.12M462.12,390.91H465.12" stroke="#e8312f" stroke-width="0.9" fill="none"/>
<path d="M470.09,385.32V389.65M468.59,385.32H471.59M468.59,389.65H471.59" stroke="#e8312f" stroke-width="0.9" fill="none"/>
<path d="M476.57,384.06V388.39M475.07,384.06H478.07M475.07,388.39H478.07" stroke="#e8312f" stroke-width="0.9" fill="none"/>
<path d="M483.05,382.79V387.12M481.55,382.79H484.55M481.55,387.12H484.55" stroke="#e8312f" stroke-width="0.9" fill="none"/>
<circle cx="288.74" cy="480.76" r="1.8" fill="#e8312f" stroke="#e8312f" stroke-width="0.8"/>
<circle cx="295.22" cy="474.7" r="1.8" fill="#e8312f" stroke="#e8312f" stroke-width="0.8"/>
<circle cx="301.69" cy="467.23" r="1.8" fill="#e8312f" stroke="#e8312f" stroke-width="0.8"/>
<circle cx="308.17" cy="459.81" r="1.8" fill="#e8312f" stroke="#e8312f" stroke-width="0.8"/>
<circle cx="314.65" cy="452.18" r="1.8" fill="#e8312f" stroke="#e8312f" stroke-width="0.8"/>
<circle cx="321.12" cy="446.66" r="1.8" fill="#e8312f" stroke="#e8312f" stroke-width="0.8"/>
<circle cx="327.6" cy="442.17" r="1.8" fill="#e8312f" stroke="#e8312f" stroke-width="0.8"/>
<circle cx="334.08" cy="439.08" r="1.8" fill="#e8312f" stroke="#e8312f" stroke-width="0.8"/>
<circle cx="340.55" cy="436.11" r="1.8" fill="#e8312f" stroke="#e8312f" stroke-width="0.8"/>
<circle cx="347.03" cy="431.72" r="1.8" fill="#e8312f" stroke="#e8312f" stroke-width="0.8"/>
<circle cx="353.51" cy="428.47" r="1.8" fill="#e8312f" stroke="#e8312f" stroke-width="0.8"/>
<circle cx="359.98" cy="424.47" r="1.8" fill="#e8312f" stroke="#e8312f" stroke-width="0.8"/>
<circle cx="366.46" cy="421.06" r="1.8" fill="#e8312f" stroke="#e8312f" stroke-width="0.8"/>
<circle cx="372.94" cy="418.51" r="1.8" fill="#e8312f" stroke="#e8312f" stroke-width="0.8"/>
<circle cx="379.42" cy="415.54" r="1.8" fill="#e8312f" stroke="#e8312f" stroke-width="0.8"/>
<circle cx="385.89" cy="413.28" r="1.8" fill="#e8312f" stroke="#e8312f" stroke-width="0.8"/>
<circle cx="392.37" cy="411.03" r="1.8" fill="#e8312f" stroke="#e8312f" stroke-width="0.8"/>
<circle cx="398.85" cy="408.77" r="1.8" fill="#e8312f" stroke="#e8312f" stroke-width="0.8"/>
<circle cx="405.32" cy="406.39" r="1.8" fill="#e8312f" stroke="#e8312f" stroke-width="0.8"/>
<circle cx="411.8" cy="404.01" r="1.8" fill="#e8312f" stroke="#e8312f" stroke-width="0.8"/>
<circle cx="418.28" cy="401.79" r="1.8" fill="#e8312f" stroke="#e8312f" stroke-width="0.8"/>
<circle cx="424.75" cy="399.73" r="1.8" fill="#e8312f" stroke="#e8312f" stroke-width="0.8"/>
<circle cx="431.23" cy="397.68" r="1.8" fill="#e8312f" stroke="#e8312f" stroke-width="0.8"/>
<circle cx="437.71" cy="395.84" r="1.8" fill="#e8312f" stroke="#e8312f" stroke-width="0.8"/>
<circle cx="444.18" cy="394" r="1.8" fill="#e8312f" stroke="#e8312f" stroke-width="0.8"/>
<circle cx="450.66" cy="392.21" r="1.8" fill="#e8312f" stroke="#e8312f" stroke-width="0.8"/>
<circle cx="457.14" cy="390.48" r="1.8" fill="#e8312f" stroke="#e8312f" stroke-width="0.8"/>
<circle cx="463.62" cy="388.75" r="1.8" fill="#e8312f" stroke="#e8312f" stroke-width="0.8"/>
<circle cx="470.09" cy="387.48" r="1.8" fill="#e8312f" stroke="#e8312f" stroke-width="0.8"/>
<circle cx="476.57" cy="386.22" r="1.8" fill="#e8312f" stroke="#e8312f" stroke-width="0.8"/>
<circle cx="483.05" cy="384.96" r="1.8" fill="#e8312f" stroke="#e8312f" stroke-width="0.8"/>
<line x1="296.4" y1="363.6" x2="308.1" y2="363.6" stroke="#000000" stroke-width="1.1"/>
<rect x="300.63" y="361.99" width="3.23" height="3.23" fill="#000000" stroke="#000000" stroke-width="0.8"/>
<text x="309.7" y="366.4" class="lg">no pretreatment</text>
<line x1="296.4" y1="374.4" x2="308.1" y2="374.4" stroke="#e8312f" stroke-width="1.1"/>
<circle cx="302.25" cy="374.4" r="1.9" fill="#e8312f" stroke="#e8312f" stroke-width="0.8"/>
<text x="309.7" y="377.2" class="lg">1.5% NaOH</text>
<line x1="296.4" y1="383.9" x2="308.1" y2="383.9" stroke="#1f1fd0" stroke-width="1.1"/>
<polygon points="302.25,381.52 304.51,385.32 299.99,385.32" fill="white" stroke="#1f1fd0" stroke-width="0.8"/>
<text x="309.7" y="386.7" class="lg">3% NaOH</text>
<line x1="296.4" y1="393.8" x2="308.1" y2="393.8" stroke="#e86060" stroke-width="1.1"/>
<polygon points="302.25,396.18 304.51,392.38 299.99,392.38" fill="white" stroke="#e86060" stroke-width="0.8"/>
<text x="309.7" y="396.6" class="lg">4.5% NaOH</text>
<line x1="296.4" y1="403.8" x2="308.1" y2="403.8" stroke="#1e8c1e" stroke-width="1.1"/>
<polygon points="299.88,403.8 303.68,401.54 303.68,406.06" fill="#1e8c1e" stroke="#1e8c1e" stroke-width="0.8"/>
<text x="309.7" y="406.6" class="lg">6% NaOH</text>
<text x="420.5" y="371.5" class="pl">f</text>
<polyline points="35.04,653.82 41.52,651.32 48,648.73 54.48,647.29 60.96,645.9 67.44,644.27 73.92,643.26 80.4,641.87 86.88,640.67 93.36,639.28 99.84,638.27 106.32,637.26 112.8,635.87 119.28,634.67 125.76,634.38 132.24,633.82 138.72,633.26 145.2,632.7 151.68,632.12 158.16,631.55 164.64,631.01 171.12,630.51 177.6,630.01 184.08,629.65 190.56,629.28 197.04,629 203.52,628.81 210,628.62 216.48,628.52 222.96,628.43 229.44,628.33" fill="none" stroke="#000000" stroke-width="1.0"/>
<rect x="33.24" y="652.02" width="3.6" height="3.6" fill="#000000" stroke="#000000" stroke-width="0.8"/>
<rect x="39.72" y="649.52" width="3.6" height="3.6" fill="#000000" stroke="#000000" stroke-width="0.8"/>
<rect x="46.2" y="646.93" width="3.6" height="3.6" fill="#000000" stroke="#000000" stroke-width="0.8"/>
<rect x="52.68" y="645.49" width="3.6" height="3.6" fill="#000000" stroke="#000000" stroke-width="0.8"/>
<rect x="59.16" y="644.1" width="3.6" height="3.6" fill="#000000" stroke="#000000" stroke-width="0.8"/>
<rect x="65.64" y="642.47" width="3.6" height="3.6" fill="#000000" stroke="#000000" stroke-width="0.8"/>
<rect x="72.12" y="641.46" width="3.6" height="3.6" fill="#000000" stroke="#000000" stroke-width="0.8"/>
<rect x="78.6" y="640.07" width="3.6" height="3.6" fill="#000000" stroke="#000000" stroke-width="0.8"/>
<rect x="85.08" y="638.87" width="3.6" height="3.6" fill="#000000" stroke="#000000" stroke-width="0.8"/>
<rect x="91.56" y="637.48" width="3.6" height="3.6" fill="#000000" stroke="#000000" stroke-width="0.8"/>
<rect x="98.04" y="636.47" width="3.6" height="3.6" fill="#000000" stroke="#000000" stroke-width="0.8"/>
<rect x="104.52" y="635.46" width="3.6" height="3.6" fill="#000000" stroke="#000000" stroke-width="0.8"/>
<rect x="111" y="634.07" width="3.6" height="3.6" fill="#000000" stroke="#000000" stroke-width="0.8"/>
<rect x="117.48" y="632.87" width="3.6" height="3.6" fill="#000000" stroke="#000000" stroke-width="0.8"/>
<rect x="123.96" y="632.58" width="3.6" height="3.6" fill="#000000" stroke="#000000" stroke-width="0.8"/>
<rect x="130.44" y="632.02" width="3.6" height="3.6" fill="#000000" stroke="#000000" stroke-width="0.8"/>
<rect x="136.92" y="631.46" width="3.6" height="3.6" fill="#000000" stroke="#000000" stroke-width="0.8"/>
<rect x="143.4" y="630.9" width="3.6" height="3.6" fill="#000000" stroke="#000000" stroke-width="0.8"/>
<rect x="149.88" y="630.32" width="3.6" height="3.6" fill="#000000" stroke="#000000" stroke-width="0.8"/>
<rect x="156.36" y="629.75" width="3.6" height="3.6" fill="#000000" stroke="#000000" stroke-width="0.8"/>
<rect x="162.84" y="629.21" width="3.6" height="3.6" fill="#000000" stroke="#000000" stroke-width="0.8"/>
<rect x="169.32" y="628.71" width="3.6" height="3.6" fill="#000000" stroke="#000000" stroke-width="0.8"/>
<rect x="175.8" y="628.21" width="3.6" height="3.6" fill="#000000" stroke="#000000" stroke-width="0.8"/>
<rect x="182.28" y="627.85" width="3.6" height="3.6" fill="#000000" stroke="#000000" stroke-width="0.8"/>
<rect x="188.76" y="627.48" width="3.6" height="3.6" fill="#000000" stroke="#000000" stroke-width="0.8"/>
<rect x="195.24" y="627.2" width="3.6" height="3.6" fill="#000000" stroke="#000000" stroke-width="0.8"/>
<rect x="201.72" y="627.01" width="3.6" height="3.6" fill="#000000" stroke="#000000" stroke-width="0.8"/>
<rect x="208.2" y="626.82" width="3.6" height="3.6" fill="#000000" stroke="#000000" stroke-width="0.8"/>
<rect x="214.68" y="626.72" width="3.6" height="3.6" fill="#000000" stroke="#000000" stroke-width="0.8"/>
<rect x="221.16" y="626.63" width="3.6" height="3.6" fill="#000000" stroke="#000000" stroke-width="0.8"/>
<rect x="227.64" y="626.53" width="3.6" height="3.6" fill="#000000" stroke="#000000" stroke-width="0.8"/>
<polyline points="35.04,653.82 41.52,650.32 48,646.28 54.48,643.88 60.96,640.67 67.44,638.27 73.92,635.24 80.4,631.84 86.88,629.24 93.36,626.6 99.84,623.82 106.32,621.8 112.8,619.79 119.28,618.78 125.76,618.3 132.24,617.5 138.72,616.7 145.2,615.9 151.68,615.32 158.16,614.75 164.64,614.17 171.12,613.6 177.6,613.02 184.08,612.25 190.56,611.48 197.04,610.81 203.52,610.24 210,609.66 216.48,609.18 222.96,608.7 229.44,608.22" fill="none" stroke="#e8312f" stroke-width="1.0"/>
<path d="M119.28,617.97V619.59M117.78,617.97H120.78M117.78,619.59H120.78" stroke="#e8312f" stroke-width="0.9" fill="none"/>
<path d="M125.76,617.43V619.17M124.26,617.43H127.26M124.26,619.17H127.26" stroke="#e8312f" stroke-width="0.9" fill="none"/>
<path d="M132.24,616.57V618.43M130.74,616.57H133.74M130.74,618.43H133.74" stroke="#e8312f" stroke-width="0.9" fill="none"/>
<path d="M138.72,615.71V617.69M137.22,615.71H140.22M137.22,617.69H140.22" stroke="#e8312f" stroke-width="0.9" fill="none"/>
<path d="M145.2,614.85V616.95M143.7,614.85H146.7M143.7,616.95H146.7" stroke="#e8312f" stroke-width="0.9" fill="none"/>
<path d="M151.68,614.21V616.43M150.18,614.21H153.18M150.18,616.43H153.18" stroke="#e8312f" stroke-width="0.9" fill="none"/>
<path d="M158.16,613.58V615.92M156.66,613.58H159.66M156.66,615.92H159.66" stroke="#e8312f" stroke-width="0.9" fill="none"/>
<path d="M164.64,612.97V615.37M163.14,612.97H166.14M163.14,615.37H166.14" stroke="#e8312f" stroke-width="0.9" fill="none"/>
<path d="M171.12,612.4V614.8M169.62,612.4H172.62M169.62,614.8H172.62" stroke="#e8312f" stroke-width="0.9" fill="none"/>
<path d="M177.6,611.82V614.22M176.1,611.82H179.1M176.1,614.22H179.1" stroke="#e8312f" stroke-width="0.9" fill="none"/>
<path d="M184.08,611.05V613.45M182.58,611.05H185.58M182.58,613.45H185.58" stroke="#e8312f" stroke-width="0.9" fill="none"/>
<path d="M190.56,610.28V612.68M189.06,610.28H192.06M189.06,612.68H192.06" stroke="#e8312f" stroke-width="0.9" fill="none"/>
<path d="M197.04,609.61V612.01M195.54,609.61H198.54M195.54,612.01H198.54" stroke="#e8312f" stroke-width="0.9" fill="none"/>
<path d="M203.52,609.04V611.44M202.02,609.04H205.02M202.02,611.44H205.02" stroke="#e8312f" stroke-width="0.9" fill="none"/>
<path d="M210,608.46V610.86M208.5,608.46H211.5M208.5,610.86H211.5" stroke="#e8312f" stroke-width="0.9" fill="none"/>
<path d="M216.48,607.98V610.38M214.98,607.98H217.98M214.98,610.38H217.98" stroke="#e8312f" stroke-width="0.9" fill="none"/>
<path d="M222.96,607.5V609.9M221.46,607.5H224.46M221.46,609.9H224.46" stroke="#e8312f" stroke-width="0.9" fill="none"/>
<path d="M229.44,607.02V609.42M227.94,607.02H230.94M227.94,609.42H230.94" stroke="#e8312f" stroke-width="0.9" fill="none"/>
<circle cx="35.04" cy="653.82" r="1.8" fill="#e8312f" stroke="#e8312f" stroke-width="0.8"/>
<circle cx="41.52" cy="650.32" r="1.8" fill="#e8312f" stroke="#e8312f" stroke-width="0.8"/>
<circle cx="48" cy="646.28" r="1.8" fill="#e8312f" stroke="#e8312f" stroke-width="0.8"/>
<circle cx="54.48" cy="643.88" r="1.8" fill="#e8312f" stroke="#e8312f" stroke-width="0.8"/>
<circle cx="60.96" cy="640.67" r="1.8" fill="#e8312f" stroke="#e8312f" stroke-width="0.8"/>
<circle cx="67.44" cy="638.27" r="1.8" fill="#e8312f" stroke="#e8312f" stroke-width="0.8"/>
<circle cx="73.92" cy="635.24" r="1.8" fill="#e8312f" stroke="#e8312f" stroke-width="0.8"/>
<circle cx="80.4" cy="631.84" r="1.8" fill="#e8312f" stroke="#e8312f" stroke-width="0.8"/>
<circle cx="86.88" cy="629.24" r="1.8" fill="#e8312f" stroke="#e8312f" stroke-width="0.8"/>
<circle cx="93.36" cy="626.6" r="1.8" fill="#e8312f" stroke="#e8312f" stroke-width="0.8"/>
<circle cx="99.84" cy="623.82" r="1.8" fill="#e8312f" stroke="#e8312f" stroke-width="0.8"/>
<circle cx="106.32" cy="621.8" r="1.8" fill="#e8312f" stroke="#e8312f" stroke-width="0.8"/>
<circle cx="112.8" cy="619.79" r="1.8" fill="#e8312f" stroke="#e8312f" stroke-width="0.8"/>
<circle cx="119.28" cy="618.78" r="1.8" fill="#e8312f" stroke="#e8312f" stroke-width="0.8"/>
<circle cx="125.76" cy="618.3" r="1.8" fill="#e8312f" stroke="#e8312f" stroke-width="0.8"/>
<circle cx="132.24" cy="617.5" r="1.8" fill="#e8312f" stroke="#e8312f" stroke-width="0.8"/>
<circle cx="138.72" cy="616.7" r="1.8" fill="#e8312f" stroke="#e8312f" stroke-width="0.8"/>
<circle cx="145.2" cy="615.9" r="1.8" fill="#e8312f" stroke="#e8312f" stroke-width="0.8"/>
<circle cx="151.68" cy="615.32" r="1.8" fill="#e8312f" stroke="#e8312f" stroke-width="0.8"/>
<circle cx="158.16" cy="614.75" r="1.8" fill="#e8312f" stroke="#e8312f" stroke-width="0.8"/>
<circle cx="164.64" cy="614.17" r="1.8" fill="#e8312f" stroke="#e8312f" stroke-width="0.8"/>
<circle cx="171.12" cy="613.6" r="1.8" fill="#e8312f" stroke="#e8312f" stroke-width="0.8"/>
<circle cx="177.6" cy="613.02" r="1.8" fill="#e8312f" stroke="#e8312f" stroke-width="0.8"/>
<circle cx="184.08" cy="612.25" r="1.8" fill="#e8312f" stroke="#e8312f" stroke-width="0.8"/>
<circle cx="190.56" cy="611.48" r="1.8" fill="#e8312f" stroke="#e8312f" stroke-width="0.8"/>
<circle cx="197.04" cy="610.81" r="1.8" fill="#e8312f" stroke="#e8312f" stroke-width="0.8"/>
<circle cx="203.52" cy="610.24" r="1.8" fill="#e8312f" stroke="#e8312f" stroke-width="0.8"/>
<circle cx="210" cy="609.66" r="1.8" fill="#e8312f" stroke="#e8312f" stroke-width="0.8"/>
<circle cx="216.48" cy="609.18" r="1.8" fill="#e8312f" stroke="#e8312f" stroke-width="0.8"/>
<circle cx="222.96" cy="608.7" r="1.8" fill="#e8312f" stroke="#e8312f" stroke-width="0.8"/>
<circle cx="229.44" cy="608.22" r="1.8" fill="#e8312f" stroke="#e8312f" stroke-width="0.8"/>
<polyline points="35.04,653.82 41.52,645.9 48,639.28 54.48,633.85 60.96,628.24 67.44,625.21 73.92,622.62 80.4,620.6 86.88,618.2 93.36,616.19 99.84,614.17 106.32,612.16 112.8,610.14 119.28,608.56 125.76,607.12 132.24,606.36 138.72,605.61 145.2,604.86 151.68,604.28 158.16,603.71 164.64,603.1 171.12,602.47 177.6,601.84 184.08,601.32 190.56,600.8 197.04,600.35 203.52,599.96 210,599.58 216.48,599.26 222.96,598.94 229.44,598.62" fill="none" stroke="#1f1fd0" stroke-width="1.0"/>
<path d="M106.32,611.33V612.98M104.82,611.33H107.82M104.82,612.98H107.82" stroke="#1f1fd0" stroke-width="0.9" fill="none"/>
<path d="M112.8,609.24V611.04M111.3,609.24H114.3M111.3,611.04H114.3" stroke="#1f1fd0" stroke-width="0.9" fill="none"/>
<path d="M119.28,607.58V609.53M117.78,607.58H120.78M117.78,609.53H120.78" stroke="#1f1fd0" stroke-width="0.9" fill="none"/>
<path d="M125.76,606.07V608.16M124.26,606.07H127.26M124.26,608.16H127.26" stroke="#1f1fd0" stroke-width="0.9" fill="none"/>
<path d="M132.24,605.25V607.48M130.74,605.25H133.74M130.74,607.48H133.74" stroke="#1f1fd0" stroke-width="0.9" fill="none"/>
<path d="M138.72,604.42V606.8M137.22,604.42H140.22M137.22,606.8H140.22" stroke="#1f1fd0" stroke-width="0.9" fill="none"/>
<path d="M145.2,603.6V606.12M143.7,603.6H146.7M143.7,606.12H146.7" stroke="#1f1fd0" stroke-width="0.9" fill="none"/>
<path d="M151.68,602.95V605.62M150.18,602.95H153.18M150.18,605.62H153.18" stroke="#1f1fd0" stroke-width="0.9" fill="none"/>
<path d="M158.16,602.3V605.11M156.66,602.3H159.66M156.66,605.11H159.66" stroke="#1f1fd0" stroke-width="0.9" fill="none"/>
<path d="M164.64,601.66V604.54M163.14,601.66H166.14M163.14,604.54H166.14" stroke="#1f1fd0" stroke-width="0.9" fill="none"/>
<path d="M171.12,601.03V603.91M169.62,601.03H172.62M169.62,603.91H172.62" stroke="#1f1fd0" stroke-width="0.9" fill="none"/>
<path d="M177.6,600.4V603.28M176.1,600.4H179.1M176.1,603.28H179.1" stroke="#1f1fd0" stroke-width="0.9" fill="none"/>
<path d="M184.08,599.88V602.76M182.58,599.88H185.58M182.58,602.76H185.58" stroke="#1f1fd0" stroke-width="0.9" fill="none"/>
<path d="M190.56,599.36V602.24M189.06,599.36H192.06M189.06,602.24H192.06" stroke="#1f1fd0" stroke-width="0.9" fill="none"/>
<path d="M197.04,598.91V601.79M195.54,598.91H198.54M195.54,601.79H198.54" stroke="#1f1fd0" stroke-width="0.9" fill="none"/>
<path d="M203.52,598.52V601.4M202.02,598.52H205.02M202.02,601.4H205.02" stroke="#1f1fd0" stroke-width="0.9" fill="none"/>
<path d="M210,598.14V601.02M208.5,598.14H211.5M208.5,601.02H211.5" stroke="#1f1fd0" stroke-width="0.9" fill="none"/>
<path d="M216.48,597.82V600.7M214.98,597.82H217.98M214.98,600.7H217.98" stroke="#1f1fd0" stroke-width="0.9" fill="none"/>
<path d="M222.96,597.5V600.38M221.46,597.5H224.46M221.46,600.38H224.46" stroke="#1f1fd0" stroke-width="0.9" fill="none"/>
<path d="M229.44,597.18V600.06M227.94,597.18H230.94M227.94,600.06H230.94" stroke="#1f1fd0" stroke-width="0.9" fill="none"/>
<polygon points="35.04,651.57 37.18,655.17 32.9,655.17" fill="#1f1fd0" stroke="#1f1fd0" stroke-width="0.8"/>
<polygon points="41.52,643.65 43.66,647.25 39.38,647.25" fill="#1f1fd0" stroke="#1f1fd0" stroke-width="0.8"/>
<polygon points="48,637.03 50.14,640.63 45.86,640.63" fill="#1f1fd0" stroke="#1f1fd0" stroke-width="0.8"/>
<polygon points="54.48,631.6 56.62,635.2 52.34,635.2" fill="#1f1fd0" stroke="#1f1fd0" stroke-width="0.8"/>
<polygon points="60.96,625.99 63.1,629.59 58.82,629.59" fill="#1f1fd0" stroke="#1f1fd0" stroke-width="0.8"/>
<polygon points="67.44,622.96 69.58,626.56 65.3,626.56" fill="#1f1fd0" stroke="#1f1fd0" stroke-width="0.8"/>
<polygon points="73.92,620.37 76.06,623.97 71.78,623.97" fill="#1f1fd0" stroke="#1f1fd0" stroke-width="0.8"/>
<polygon points="80.4,618.35 82.54,621.95 78.26,621.95" fill="#1f1fd0" stroke="#1f1fd0" stroke-width="0.8"/>
<polygon points="86.88,615.95 89.02,619.55 84.74,619.55" fill="#1f1fd0" stroke="#1f1fd0" stroke-width="0.8"/>
<polygon points="93.36,613.94 95.5,617.54 91.22,617.54" fill="#1f1fd0" stroke="#1f1fd0" stroke-width="0.8"/>
<polygon points="99.84,611.92 101.98,615.52 97.7,615.52" fill="#1f1fd0" stroke="#1f1fd0" stroke-width="0.8"/>
<polygon points="106.32,609.91 108.46,613.51 104.18,613.51" fill="#1f1fd0" stroke="#1f1fd0" stroke-width="0.8"/>
<polygon points="112.8,607.89 114.94,611.49 110.66,611.49" fill="#1f1fd0" stroke="#1f1fd0" stroke-width="0.8"/>
<polygon points="119.28,606.31 121.42,609.91 117.14,609.91" fill="#1f1fd0" stroke="#1f1fd0" stroke-width="0.8"/>
<polygon points="125.76,604.87 127.9,608.47 123.62,608.47" fill="#1f1fd0" stroke="#1f1fd0" stroke-width="0.8"/>
<polygon points="132.24,604.11 134.38,607.71 130.1,607.71" fill="#1f1fd0" stroke="#1f1fd0" stroke-width="0.8"/>
<polygon points="138.72,603.36 140.86,606.96 136.58,606.96" fill="#1f1fd0" stroke="#1f1fd0" stroke-width="0.8"/>
<polygon points="145.2,602.61 147.34,606.21 143.06,606.21" fill="#1f1fd0" stroke="#1f1fd0" stroke-width="0.8"/>
<polygon points="151.68,602.03 153.82,605.63 149.54,605.63" fill="#1f1fd0" stroke="#1f1fd0" stroke-width="0.8"/>
<polygon points="158.16,601.46 160.3,605.06 156.02,605.06" fill="#1f1fd0" stroke="#1f1fd0" stroke-width="0.8"/>
<polygon points="164.64,600.85 166.78,604.45 162.5,604.45" fill="#1f1fd0" stroke="#1f1fd0" stroke-width="0.8"/>
<polygon points="171.12,600.22 173.26,603.82 168.98,603.82" fill="#1f1fd0" stroke="#1f1fd0" stroke-width="0.8"/>
<polygon points="177.6,599.59 179.74,603.19 175.46,603.19" fill="#1f1fd0" stroke="#1f1fd0" stroke-width="0.8"/>
<polygon points="184.08,599.07 186.22,602.67 181.94,602.67" fill="#1f1fd0" stroke="#1f1fd0" stroke-width="0.8"/>
<polygon points="190.56,598.55 192.7,602.15 188.42,602.15" fill="#1f1fd0" stroke="#1f1fd0" stroke-width="0.8"/>
<polygon points="197.04,598.1 199.18,601.7 194.9,601.7" fill="#1f1fd0" stroke="#1f1fd0" stroke-width="0.8"/>
<polygon points="203.52,597.71 205.66,601.31 201.38,601.31" fill="#1f1fd0" stroke="#1f1fd0" stroke-width="0.8"/>
<polygon points="210,597.33 212.14,600.93 207.86,600.93" fill="#1f1fd0" stroke="#1f1fd0" stroke-width="0.8"/>
<polygon points="216.48,597.01 218.62,600.61 214.34,600.61" fill="#1f1fd0" stroke="#1f1fd0" stroke-width="0.8"/>
<polygon points="222.96,596.69 225.1,600.29 220.82,600.29" fill="#1f1fd0" stroke="#1f1fd0" stroke-width="0.8"/>
<polygon points="229.44,596.37 231.58,599.97 227.3,599.97" fill="#1f1fd0" stroke="#1f1fd0" stroke-width="0.8"/>
<polyline points="35.04,653.34 41.52,643.74 48,634.14 54.48,628.24 60.96,623.2 67.44,620.22 73.92,615.18 80.4,612.16 86.88,608.12 93.36,602.12 99.84,596.7 106.32,592.38 112.8,589.5 119.28,587.1 125.76,583.74 132.24,581.98 138.72,580.22 145.2,578.46 151.68,576.73 158.16,575 164.64,573.28 171.12,571.55 177.6,569.82 184.08,568.48 190.56,567.13 197.04,565.88 203.52,564.73 210,563.58 216.48,562.67 222.96,561.76 229.44,560.84" fill="none" stroke="#e86060" stroke-width="1.0"/>
<path d="M86.88,607.31V608.94M85.38,607.31H88.38M85.38,608.94H88.38" stroke="#e86060" stroke-width="0.9" fill="none"/>
<path d="M93.36,601.21V603.04M91.86,601.21H94.86M91.86,603.04H94.86" stroke="#e86060" stroke-width="0.9" fill="none"/>
<path d="M99.84,595.69V597.71M98.34,595.69H101.34M98.34,597.71H101.34" stroke="#e86060" stroke-width="0.9" fill="none"/>
<path d="M106.32,591.28V593.48M104.82,591.28H107.82M104.82,593.48H107.82" stroke="#e86060" stroke-width="0.9" fill="none"/>
<path d="M112.8,588.3V590.7M111.3,588.3H114.3M111.3,590.7H114.3" stroke="#e86060" stroke-width="0.9" fill="none"/>
<path d="M119.28,585.8V588.4M117.78,585.8H120.78M117.78,588.4H120.78" stroke="#e86060" stroke-width="0.9" fill="none"/>
<path d="M125.76,582.35V585.13M124.26,582.35H127.26M124.26,585.13H127.26" stroke="#e86060" stroke-width="0.9" fill="none"/>
<path d="M132.24,580.49V583.47M130.74,580.49H133.74M130.74,583.47H133.74" stroke="#e86060" stroke-width="0.9" fill="none"/>
<path d="M138.72,578.64V581.8M137.22,578.64H140.22M137.22,581.8H140.22" stroke="#e86060" stroke-width="0.9" fill="none"/>
<path d="M145.2,576.78V580.14M143.7,576.78H146.7M143.7,580.14H146.7" stroke="#e86060" stroke-width="0.9" fill="none"/>
<path d="M151.68,574.96V578.51M150.18,574.96H153.18M150.18,578.51H153.18" stroke="#e86060" stroke-width="0.9" fill="none"/>
<path d="M158.16,573.13V576.88M156.66,573.13H159.66M156.66,576.88H159.66" stroke="#e86060" stroke-width="0.9" fill="none"/>
<path d="M164.64,571.36V575.2M163.14,571.36H166.14M163.14,575.2H166.14" stroke="#e86060" stroke-width="0.9" fill="none"/>
<path d="M171.12,569.63V573.47M169.62,569.63H172.62M169.62,573.47H172.62" stroke="#e86060" stroke-width="0.9" fill="none"/>
<path d="M177.6,567.9V571.74M176.1,567.9H179.1M176.1,571.74H179.1" stroke="#e86060" stroke-width="0.9" fill="none"/>
<path d="M184.08,566.56V570.4M182.58,566.56H185.58M182.58,570.4H185.58" stroke="#e86060" stroke-width="0.9" fill="none"/>
<path d="M190.56,565.21V569.05M189.06,565.21H192.06M189.06,569.05H192.06" stroke="#e86060" stroke-width="0.9" fill="none"/>
<path d="M197.04,563.96V567.8M195.54,563.96H198.54M195.54,567.8H198.54" stroke="#e86060" stroke-width="0.9" fill="none"/>
<path d="M203.52,562.81V566.65M202.02,562.81H205.02M202.02,566.65H205.02" stroke="#e86060" stroke-width="0.9" fill="none"/>
<path d="M210,561.66V565.5M208.5,561.66H211.5M208.5,565.5H211.5" stroke="#e86060" stroke-width="0.9" fill="none"/>
<path d="M216.48,560.75V564.59M214.98,560.75H217.98M214.98,564.59H217.98" stroke="#e86060" stroke-width="0.9" fill="none"/>
<path d="M222.96,559.84V563.68M221.46,559.84H224.46M221.46,563.68H224.46" stroke="#e86060" stroke-width="0.9" fill="none"/>
<path d="M229.44,558.92V562.76M227.94,558.92H230.94M227.94,562.76H230.94" stroke="#e86060" stroke-width="0.9" fill="none"/>
<polygon points="35.04,655.59 37.18,651.99 32.9,651.99" fill="white" stroke="#e86060" stroke-width="0.8"/>
<polygon points="41.52,645.99 43.66,642.39 39.38,642.39" fill="white" stroke="#e86060" stroke-width="0.8"/>
<polygon points="48,636.39 50.14,632.79 45.86,632.79" fill="white" stroke="#e86060" stroke-width="0.8"/>
<polygon points="54.48,630.49 56.62,626.89 52.34,626.89" fill="white" stroke="#e86060" stroke-width="0.8"/>
<polygon points="60.96,625.45 63.1,621.85 58.82,621.85" fill="white" stroke="#e86060" stroke-width="0.8"/>
<polygon points="67.44,622.47 69.58,618.87 65.3,618.87" fill="white" stroke="#e86060" stroke-width="0.8"/>
<polygon points="73.92,617.43 76.06,613.83 71.78,613.83" fill="white" stroke="#e86060" stroke-width="0.8"/>
<polygon points="80.4,614.41 82.54,610.81 78.26,610.81" fill="white" stroke="#e86060" stroke-width="0.8"/>
<polygon points="86.88,610.37 89.02,606.77 84.74,606.77" fill="white" stroke="#e86060" stroke-width="0.8"/>
<polygon points="93.36,604.37 95.5,600.77 91.22,600.77" fill="white" stroke="#e86060" stroke-width="0.8"/>
<polygon points="99.84,598.95 101.98,595.35 97.7,595.35" fill="white" stroke="#e86060" stroke-width="0.8"/>
<polygon points="106.32,594.63 108.46,591.03 104.18,591.03" fill="white" stroke="#e86060" stroke-width="0.8"/>
<polygon points="112.8,591.75 114.94,588.15 110.66,588.15" fill="white" stroke="#e86060" stroke-width="0.8"/>
<polygon points="119.28,589.35 121.42,585.75 117.14,585.75" fill="white" stroke="#e86060" stroke-width="0.8"/>
<polygon points="125.76,585.99 127.9,582.39 123.62,582.39" fill="white" stroke="#e86060" stroke-width="0.8"/>
<polygon points="132.24,584.23 134.38,580.63 130.1,580.63" fill="white" stroke="#e86060" stroke-width="0.8"/>
<polygon points="138.72,582.47 140.86,578.87 136.58,578.87" fill="white" stroke="#e86060" stroke-width="0.8"/>
<polygon points="145.2,580.71 147.34,577.11 143.06,577.11" fill="white" stroke="#e86060" stroke-width="0.8"/>
<polygon points="151.68,578.98 153.82,575.38 149.54,575.38" fill="white" stroke="#e86060" stroke-width="0.8"/>
<polygon points="158.16,577.25 160.3,573.65 156.02,573.65" fill="white" stroke="#e86060" stroke-width="0.8"/>
<polygon points="164.64,575.53 166.78,571.93 162.5,571.93" fill="white" stroke="#e86060" stroke-width="0.8"/>
<polygon points="171.12,573.8 173.26,570.2 168.98,570.2" fill="white" stroke="#e86060" stroke-width="0.8"/>
<polygon points="177.6,572.07 179.74,568.47 175.46,568.47" fill="white" stroke="#e86060" stroke-width="0.8"/>
<polygon points="184.08,570.73 186.22,567.13 181.94,567.13" fill="white" stroke="#e86060" stroke-width="0.8"/>
<polygon points="190.56,569.38 192.7,565.78 188.42,565.78" fill="white" stroke="#e86060" stroke-width="0.8"/>
<polygon points="197.04,568.13 199.18,564.53 194.9,564.53" fill="white" stroke="#e86060" stroke-width="0.8"/>
<polygon points="203.52,566.98 205.66,563.38 201.38,563.38" fill="white" stroke="#e86060" stroke-width="0.8"/>
<polygon points="210,565.83 212.14,562.23 207.86,562.23" fill="white" stroke="#e86060" stroke-width="0.8"/>
<polygon points="216.48,564.92 218.62,561.32 214.34,561.32" fill="white" stroke="#e86060" stroke-width="0.8"/>
<polygon points="222.96,564.01 225.1,560.41 220.82,560.41" fill="white" stroke="#e86060" stroke-width="0.8"/>
<polygon points="229.44,563.09 231.58,559.49 227.3,559.49" fill="white" stroke="#e86060" stroke-width="0.8"/>
<polyline points="35.04,653.34 41.52,642.78 48,632.22 54.48,624.2 60.96,618.2 67.44,613.79 73.92,611.15 80.4,607.16 86.88,603.13 93.36,599.72 99.84,595.12 106.32,591.66 112.8,589.07 119.28,587.1 125.76,583.26 132.24,581.5 138.72,579.74 145.2,577.98 151.68,576.25 158.16,574.52 164.64,572.89 171.12,571.36 177.6,569.82 184.08,569.05 190.56,568.28 197.04,567.71 203.52,567.32 210,566.94 216.48,566.68 222.96,566.43 229.44,566.17" fill="none" stroke="#1e8c1e" stroke-width="1.0"/>
<path d="M106.32,590.83V592.49M104.82,590.83H107.82M104.82,592.49H107.82" stroke="#1e8c1e" stroke-width="0.9" fill="none"/>
<path d="M112.8,588.17V589.97M111.3,588.17H114.3M111.3,589.97H114.3" stroke="#1e8c1e" stroke-width="0.9" fill="none"/>
<path d="M119.28,586.13V588.07M117.78,586.13H120.78M117.78,588.07H120.78" stroke="#1e8c1e" stroke-width="0.9" fill="none"/>
<path d="M125.76,582.22V584.3M124.26,582.22H127.26M124.26,584.3H127.26" stroke="#1e8c1e" stroke-width="0.9" fill="none"/>
<path d="M132.24,580.38V582.62M130.74,580.38H133.74M130.74,582.62H133.74" stroke="#1e8c1e" stroke-width="0.9" fill="none"/>
<path d="M138.72,578.55V580.93M137.22,578.55H140.22M137.22,580.93H140.22" stroke="#1e8c1e" stroke-width="0.9" fill="none"/>
<path d="M145.2,576.72V579.24M143.7,576.72H146.7M143.7,579.24H146.7" stroke="#1e8c1e" stroke-width="0.9" fill="none"/>
<path d="M151.68,574.92V577.58M150.18,574.92H153.18M150.18,577.58H153.18" stroke="#1e8c1e" stroke-width="0.9" fill="none"/>
<path d="M158.16,573.12V575.93M156.66,573.12H159.66M156.66,575.93H159.66" stroke="#1e8c1e" stroke-width="0.9" fill="none"/>
<path d="M164.64,571.45V574.33M163.14,571.45H166.14M163.14,574.33H166.14" stroke="#1e8c1e" stroke-width="0.9" fill="none"/>
<path d="M171.12,569.92V572.8M169.62,569.92H172.62M169.62,572.8H172.62" stroke="#1e8c1e" stroke-width="0.9" fill="none"/>
<path d="M177.6,568.38V571.26M176.1,568.38H179.1M176.1,571.26H179.1" stroke="#1e8c1e" stroke-width="0.9" fill="none"/>
<path d="M184.08,567.61V570.49M182.58,567.61H185.58M182.58,570.49H185.58" stroke="#1e8c1e" stroke-width="0.9" fill="none"/>
<path d="M190.56,566.84V569.72M189.06,566.84H192.06M189.06,569.72H192.06" stroke="#1e8c1e" stroke-width="0.9" fill="none"/>
<path d="M197.04,566.27V569.15M195.54,566.27H198.54M195.54,569.15H198.54" stroke="#1e8c1e" stroke-width="0.9" fill="none"/>
<path d="M203.52,565.88V568.76M202.02,565.88H205.02M202.02,568.76H205.02" stroke="#1e8c1e" stroke-width="0.9" fill="none"/>
<path d="M210,565.5V568.38M208.5,565.5H211.5M208.5,568.38H211.5" stroke="#1e8c1e" stroke-width="0.9" fill="none"/>
<path d="M216.48,565.24V568.12M214.98,565.24H217.98M214.98,568.12H217.98" stroke="#1e8c1e" stroke-width="0.9" fill="none"/>
<path d="M222.96,564.99V567.87M221.46,564.99H224.46M221.46,567.87H224.46" stroke="#1e8c1e" stroke-width="0.9" fill="none"/>
<path d="M229.44,564.73V567.61M227.94,564.73H230.94M227.94,567.61H230.94" stroke="#1e8c1e" stroke-width="0.9" fill="none"/>
<polygon points="32.79,653.34 36.39,651.2 36.39,655.48" fill="white" stroke="#1e8c1e" stroke-width="0.8"/>
<polygon points="39.27,642.78 42.87,640.64 42.87,644.92" fill="white" stroke="#1e8c1e" stroke-width="0.8"/>
<polygon points="45.75,632.22 49.35,630.08 49.35,634.36" fill="white" stroke="#1e8c1e" stroke-width="0.8"/>
<polygon points="52.23,624.2 55.83,622.07 55.83,626.34" fill="white" stroke="#1e8c1e" stroke-width="0.8"/>
<polygon points="58.71,618.2 62.31,616.07 62.31,620.34" fill="white" stroke="#1e8c1e" stroke-width="0.8"/>
<polygon points="65.19,613.79 68.79,611.65 68.79,615.93" fill="white" stroke="#1e8c1e" stroke-width="0.8"/>
<polygon points="71.67,611.15 75.27,609.01 75.27,613.29" fill="white" stroke="#1e8c1e" stroke-width="0.8"/>
<polygon points="78.15,607.16 81.75,605.03 81.75,609.3" fill="white" stroke="#1e8c1e" stroke-width="0.8"/>
<polygon points="84.63,603.13 88.23,600.99 88.23,605.27" fill="white" stroke="#1e8c1e" stroke-width="0.8"/>
<polygon points="91.11,599.72 94.71,597.59 94.71,601.86" fill="white" stroke="#1e8c1e" stroke-width="0.8"/>
<polygon points="97.59,595.12 101.19,592.98 101.19,597.25" fill="white" stroke="#1e8c1e" stroke-width="0.8"/>
<polygon points="104.07,591.66 107.67,589.52 107.67,593.8" fill="white" stroke="#1e8c1e" stroke-width="0.8"/>
<polygon points="110.55,589.07 114.15,586.93 114.15,591.21" fill="white" stroke="#1e8c1e" stroke-width="0.8"/>
<polygon points="117.03,587.1 120.63,584.96 120.63,589.24" fill="white" stroke="#1e8c1e" stroke-width="0.8"/>
<polygon points="123.51,583.26 127.11,581.12 127.11,585.4" fill="white" stroke="#1e8c1e" stroke-width="0.8"/>
<polygon points="129.99,581.5 133.59,579.36 133.59,583.64" fill="white" stroke="#1e8c1e" stroke-width="0.8"/>
<polygon points="136.47,579.74 140.07,577.6 140.07,581.88" fill="white" stroke="#1e8c1e" stroke-width="0.8"/>
<polygon points="142.95,577.98 146.55,575.84 146.55,580.12" fill="white" stroke="#1e8c1e" stroke-width="0.8"/>
<polygon points="149.43,576.25 153.03,574.11 153.03,578.39" fill="white" stroke="#1e8c1e" stroke-width="0.8"/>
<polygon points="155.91,574.52 159.51,572.39 159.51,576.66" fill="white" stroke="#1e8c1e" stroke-width="0.8"/>
<polygon points="162.39,572.89 165.99,570.75 165.99,575.03" fill="white" stroke="#1e8c1e" stroke-width="0.8"/>
<polygon points="168.87,571.36 172.47,569.22 172.47,573.49" fill="white" stroke="#1e8c1e" stroke-width="0.8"/>
<polygon points="175.35,569.82 178.95,567.68 178.95,571.96" fill="white" stroke="#1e8c1e" stroke-width="0.8"/>
<polygon points="181.83,569.05 185.43,566.91 185.43,571.19" fill="white" stroke="#1e8c1e" stroke-width="0.8"/>
<polygon points="188.31,568.28 191.91,566.15 191.91,570.42" fill="white" stroke="#1e8c1e" stroke-width="0.8"/>
<polygon points="194.79,567.71 198.39,565.57 198.39,569.85" fill="white" stroke="#1e8c1e" stroke-width="0.8"/>
<polygon points="201.27,567.32 204.87,565.19 204.87,569.46" fill="white" stroke="#1e8c1e" stroke-width="0.8"/>
<polygon points="207.75,566.94 211.35,564.8 211.35,569.08" fill="white" stroke="#1e8c1e" stroke-width="0.8"/>
<polygon points="214.23,566.68 217.83,564.55 217.83,568.82" fill="white" stroke="#1e8c1e" stroke-width="0.8"/>
<polygon points="220.71,566.43 224.31,564.29 224.31,568.57" fill="white" stroke="#1e8c1e" stroke-width="0.8"/>
<polygon points="227.19,566.17 230.79,564.03 230.79,568.31" fill="white" stroke="#1e8c1e" stroke-width="0.8"/>
<line x1="42.4" y1="536.4" x2="54.1" y2="536.4" stroke="#000000" stroke-width="1.1"/>
<rect x="46.63" y="534.78" width="3.23" height="3.23" fill="#000000" stroke="#000000" stroke-width="0.8"/>
<text x="55.7" y="539.2" class="lg">no pretreatment</text>
<line x1="42.4" y1="547.1" x2="54.1" y2="547.1" stroke="#e8312f" stroke-width="1.1"/>
<circle cx="48.25" cy="547.1" r="1.9" fill="#e8312f" stroke="#e8312f" stroke-width="0.8"/>
<text x="55.7" y="549.9" class="lg">1% AHP</text>
<line x1="42.4" y1="557.1" x2="54.1" y2="557.1" stroke="#1f1fd0" stroke-width="1.1"/>
<polygon points="48.25,554.73 50.51,558.52 45.99,558.52" fill="#1f1fd0" stroke="#1f1fd0" stroke-width="0.8"/>
<text x="55.7" y="559.9" class="lg">2% AHP</text>
<line x1="42.4" y1="567.2" x2="54.1" y2="567.2" stroke="#e86060" stroke-width="1.1"/>
<polygon points="48.25,569.58 50.51,565.78 45.99,565.78" fill="white" stroke="#e86060" stroke-width="0.8"/>
<text x="55.7" y="570" class="lg">3% AHP</text>
<line x1="42.4" y1="577.2" x2="54.1" y2="577.2" stroke="#1e8c1e" stroke-width="1.1"/>
<polygon points="45.88,577.2 49.67,574.94 49.67,579.46" fill="white" stroke="#1e8c1e" stroke-width="0.8"/>
<text x="55.7" y="580" class="lg">4% AHP</text>
<text x="171.9" y="545.7" class="pl">g</text>
</svg>
</body></html>
